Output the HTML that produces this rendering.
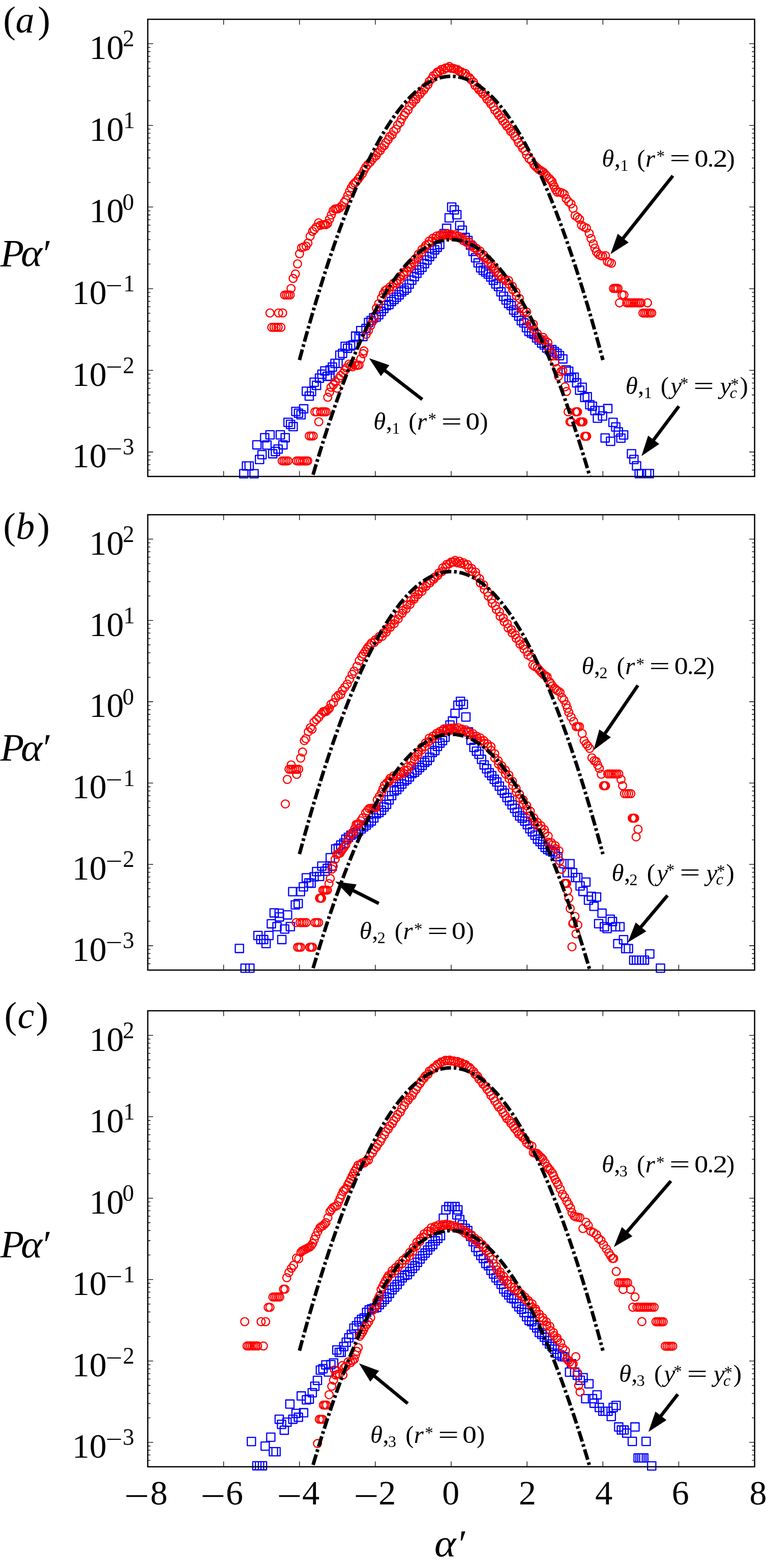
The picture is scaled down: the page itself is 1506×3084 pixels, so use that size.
<!DOCTYPE html><html><head><meta charset="utf-8"><title>PDF figure</title><style>html,body{margin:0;padding:0;background:#fff;}svg{display:block;}text{font-family:"Liberation Serif","DejaVu Serif",serif;fill:#000;}</style></head><body>
<svg xmlns="http://www.w3.org/2000/svg" width="1506" height="3084" viewBox="0 0 1506 3084">
<rect width="1506" height="3084" fill="#fff"/>
<defs>
<clipPath id="clip0"><rect x="290.50" y="37.95" width="1193.10" height="899.15"/></clipPath>
<clipPath id="clip1"><rect x="290.50" y="1012.40" width="1193.10" height="895.60"/></clipPath>
<clipPath id="clip2"><rect x="290.50" y="1988.00" width="1193.10" height="896.90"/></clipPath>
</defs>
<path d="M471.2 923.7h16.2v16.2h-16.2zM476.5 908.3h16.2v16.2h-16.2zM481.7 908.3h16.2v16.2h-16.2zM491.4 923.7h16.2v16.2h-16.2zM497.0 866.8h16.2v16.2h-16.2zM502.2 895.7h16.2v16.2h-16.2zM507.1 886.1h16.2v16.2h-16.2zM512.3 852.8h16.2v16.2h-16.2zM516.7 867.2h16.2v16.2h-16.2zM522.8 847.1h16.2v16.2h-16.2zM528.1 884.3h16.2v16.2h-16.2zM533.4 879.9h16.2v16.2h-16.2zM538.6 875.2h16.2v16.2h-16.2zM543.0 847.1h16.2v16.2h-16.2zM548.2 866.8h16.2v16.2h-16.2zM552.6 852.8h16.2v16.2h-16.2zM558.2 822.6h16.2v16.2h-16.2zM563.1 826.6h16.2v16.2h-16.2zM568.3 831.0h16.2v16.2h-16.2zM573.6 801.2h16.2v16.2h-16.2zM578.8 804.7h16.2v16.2h-16.2zM583.7 807.7h16.2v16.2h-16.2zM588.9 796.0h16.2v16.2h-16.2zM594.2 761.3h16.2v16.2h-16.2zM599.9 770.9h16.2v16.2h-16.2zM604.4 761.9h16.2v16.2h-16.2zM609.5 743.6h16.2v16.2h-16.2zM614.2 749.9h16.2v16.2h-16.2zM620.0 735.6h16.2v16.2h-16.2zM624.9 727.9h16.2v16.2h-16.2zM630.5 721.3h16.2v16.2h-16.2zM635.2 731.8h16.2v16.2h-16.2zM640.6 732.1h16.2v16.2h-16.2zM640.9 719.4h16.2v16.2h-16.2zM645.4 713.9h16.2v16.2h-16.2zM650.5 706.6h16.2v16.2h-16.2zM656.5 706.6h16.2v16.2h-16.2zM660.1 690.3h16.2v16.2h-16.2zM665.4 686.9h16.2v16.2h-16.2zM670.5 673.2h16.2v16.2h-16.2zM675.2 676.8h16.2v16.2h-16.2zM681.2 672.4h16.2v16.2h-16.2zM686.0 670.5h16.2v16.2h-16.2zM691.1 653.0h16.2v16.2h-16.2zM697.9 653.8h16.2v16.2h-16.2zM701.1 642.2h16.2v16.2h-16.2zM705.4 653.8h16.2v16.2h-16.2zM711.5 638.0h16.2v16.2h-16.2zM716.5 626.1h16.2v16.2h-16.2zM721.5 622.4h16.2v16.2h-16.2zM726.5 616.9h16.2v16.2h-16.2zM731.5 615.5h16.2v16.2h-16.2zM736.5 610.9h16.2v16.2h-16.2zM741.5 604.5h16.2v16.2h-16.2zM746.5 598.6h16.2v16.2h-16.2zM751.5 592.8h16.2v16.2h-16.2zM756.5 590.9h16.2v16.2h-16.2zM761.5 584.8h16.2v16.2h-16.2zM766.5 580.9h16.2v16.2h-16.2zM771.5 576.5h16.2v16.2h-16.2zM776.5 571.8h16.2v16.2h-16.2zM781.5 565.9h16.2v16.2h-16.2zM786.5 562.6h16.2v16.2h-16.2zM791.5 558.7h16.2v16.2h-16.2zM796.5 550.6h16.2v16.2h-16.2zM801.5 542.9h16.2v16.2h-16.2zM806.5 536.0h16.2v16.2h-16.2zM811.5 529.5h16.2v16.2h-16.2zM816.5 522.7h16.2v16.2h-16.2zM821.5 517.7h16.2v16.2h-16.2zM826.5 510.5h16.2v16.2h-16.2zM831.5 503.4h16.2v16.2h-16.2zM836.5 496.3h16.2v16.2h-16.2zM841.5 490.6h16.2v16.2h-16.2zM846.5 483.3h16.2v16.2h-16.2zM851.5 478.3h16.2v16.2h-16.2zM856.5 472.8h16.2v16.2h-16.2zM865.0 451.4h16.2v16.2h-16.2zM870.0 441.0h16.2v16.2h-16.2zM875.0 420.4h16.2v16.2h-16.2zM880.0 399.2h16.2v16.2h-16.2zM885.0 404.6h16.2v16.2h-16.2zM890.1 414.2h16.2v16.2h-16.2zM895.8 435.3h16.2v16.2h-16.2zM900.8 444.7h16.2v16.2h-16.2zM906.5 459.0h16.2v16.2h-16.2zM911.9 465.0h16.2v16.2h-16.2zM916.9 474.1h16.2v16.2h-16.2zM921.9 486.3h16.2v16.2h-16.2zM926.9 498.9h16.2v16.2h-16.2zM931.9 509.0h16.2v16.2h-16.2zM936.9 518.6h16.2v16.2h-16.2zM941.9 523.5h16.2v16.2h-16.2zM946.9 527.0h16.2v16.2h-16.2zM951.9 531.0h16.2v16.2h-16.2zM956.9 536.7h16.2v16.2h-16.2zM961.9 543.2h16.2v16.2h-16.2zM966.9 550.5h16.2v16.2h-16.2zM971.9 555.4h16.2v16.2h-16.2zM976.9 566.0h16.2v16.2h-16.2zM981.9 574.6h16.2v16.2h-16.2zM986.9 581.9h16.2v16.2h-16.2zM991.9 588.8h16.2v16.2h-16.2zM996.9 593.0h16.2v16.2h-16.2zM1001.9 601.6h16.2v16.2h-16.2zM1006.9 606.3h16.2v16.2h-16.2zM1011.9 613.6h16.2v16.2h-16.2zM1016.9 622.7h16.2v16.2h-16.2zM1021.9 627.0h16.2v16.2h-16.2zM1026.9 636.5h16.2v16.2h-16.2zM1031.9 643.8h16.2v16.2h-16.2zM1036.9 647.1h16.2v16.2h-16.2zM1041.9 649.4h16.2v16.2h-16.2zM1046.9 656.4h16.2v16.2h-16.2zM1051.9 660.6h16.2v16.2h-16.2zM1056.9 666.6h16.2v16.2h-16.2zM1061.9 670.5h16.2v16.2h-16.2zM1066.9 676.4h16.2v16.2h-16.2zM1071.9 679.8h16.2v16.2h-16.2zM1076.9 679.5h16.2v16.2h-16.2zM1081.9 683.4h16.2v16.2h-16.2zM1086.9 686.8h16.2v16.2h-16.2zM1091.9 691.3h16.2v16.2h-16.2zM1098.5 697.8h16.2v16.2h-16.2zM1105.0 719.3h16.2v16.2h-16.2zM1110.0 722.1h16.2v16.2h-16.2zM1110.7 735.0h16.2v16.2h-16.2zM1115.7 735.0h16.2v16.2h-16.2zM1120.7 733.6h16.2v16.2h-16.2zM1125.7 745.0h16.2v16.2h-16.2zM1131.5 759.3h16.2v16.2h-16.2zM1136.5 753.6h16.2v16.2h-16.2zM1141.5 773.6h16.2v16.2h-16.2zM1146.5 772.2h16.2v16.2h-16.2zM1151.5 787.9h16.2v16.2h-16.2zM1156.5 790.8h16.2v16.2h-16.2zM1161.5 799.4h16.2v16.2h-16.2zM1166.5 814.4h16.2v16.2h-16.2zM1171.5 799.4h16.2v16.2h-16.2zM1176.5 810.1h16.2v16.2h-16.2zM1181.6 853.3h16.2v16.2h-16.2zM1186.9 795.5h16.2v16.2h-16.2zM1192.3 859.9h16.2v16.2h-16.2zM1197.1 822.6h16.2v16.2h-16.2zM1202.5 831.6h16.2v16.2h-16.2zM1207.6 841.4h16.2v16.2h-16.2zM1212.6 853.6h16.2v16.2h-16.2zM1218.0 847.4h16.2v16.2h-16.2zM1233.5 884.3h16.2v16.2h-16.2zM1238.2 895.7h16.2v16.2h-16.2zM1243.4 908.2h16.2v16.2h-16.2zM1248.6 923.3h16.2v16.2h-16.2zM1253.1 923.3h16.2v16.2h-16.2zM1263.3 923.3h16.2v16.2h-16.2zM1268.6 923.3h16.2v16.2h-16.2z" fill="none" stroke="#00f" stroke-width="2.30" stroke-linejoin="round"/>
<path d="M546.9 906.4a7.85 7.85 0 1 0 15.70 0a7.85 7.85 0 1 0 -15.70 0zM550.6 906.4a7.85 7.85 0 1 0 15.70 0a7.85 7.85 0 1 0 -15.70 0zM554.4 906.4a7.85 7.85 0 1 0 15.70 0a7.85 7.85 0 1 0 -15.70 0zM558.2 906.4a7.85 7.85 0 1 0 15.70 0a7.85 7.85 0 1 0 -15.70 0zM575.4 906.4a7.85 7.85 0 1 0 15.70 0a7.85 7.85 0 1 0 -15.70 0zM579.1 906.4a7.85 7.85 0 1 0 15.70 0a7.85 7.85 0 1 0 -15.70 0zM582.9 906.4a7.85 7.85 0 1 0 15.70 0a7.85 7.85 0 1 0 -15.70 0zM586.8 906.4a7.85 7.85 0 1 0 15.70 0a7.85 7.85 0 1 0 -15.70 0zM590.5 906.4a7.85 7.85 0 1 0 15.70 0a7.85 7.85 0 1 0 -15.70 0zM594.4 906.4a7.85 7.85 0 1 0 15.70 0a7.85 7.85 0 1 0 -15.70 0zM597.2 906.4a7.85 7.85 0 1 0 15.70 0a7.85 7.85 0 1 0 -15.70 0zM600.2 857.4a7.85 7.85 0 1 0 15.70 0a7.85 7.85 0 1 0 -15.70 0zM604.1 857.4a7.85 7.85 0 1 0 15.70 0a7.85 7.85 0 1 0 -15.70 0zM608.0 857.4a7.85 7.85 0 1 0 15.70 0a7.85 7.85 0 1 0 -15.70 0zM611.2 809.9a7.85 7.85 0 1 0 15.70 0a7.85 7.85 0 1 0 -15.70 0zM614.9 809.9a7.85 7.85 0 1 0 15.70 0a7.85 7.85 0 1 0 -15.70 0zM618.9 829.5a7.85 7.85 0 1 0 15.70 0a7.85 7.85 0 1 0 -15.70 0zM622.6 809.9a7.85 7.85 0 1 0 15.70 0a7.85 7.85 0 1 0 -15.70 0zM626.4 809.9a7.85 7.85 0 1 0 15.70 0a7.85 7.85 0 1 0 -15.70 0zM630.0 809.9a7.85 7.85 0 1 0 15.70 0a7.85 7.85 0 1 0 -15.70 0zM633.4 809.9a7.85 7.85 0 1 0 15.70 0a7.85 7.85 0 1 0 -15.70 0zM636.5 781.3a7.85 7.85 0 1 0 15.70 0a7.85 7.85 0 1 0 -15.70 0zM640.1 771.4a7.85 7.85 0 1 0 15.70 0a7.85 7.85 0 1 0 -15.70 0zM642.9 761.6a7.85 7.85 0 1 0 15.70 0a7.85 7.85 0 1 0 -15.70 0zM647.6 756.8a7.85 7.85 0 1 0 15.70 0a7.85 7.85 0 1 0 -15.70 0zM651.4 751.1a7.85 7.85 0 1 0 15.70 0a7.85 7.85 0 1 0 -15.70 0zM655.1 763.5a7.85 7.85 0 1 0 15.70 0a7.85 7.85 0 1 0 -15.70 0zM658.6 744.0a7.85 7.85 0 1 0 15.70 0a7.85 7.85 0 1 0 -15.70 0zM661.9 738.7a7.85 7.85 0 1 0 15.70 0a7.85 7.85 0 1 0 -15.70 0zM666.8 733.9a7.85 7.85 0 1 0 15.70 0a7.85 7.85 0 1 0 -15.70 0zM670.1 728.0a7.85 7.85 0 1 0 15.70 0a7.85 7.85 0 1 0 -15.70 0zM673.4 723.5a7.85 7.85 0 1 0 15.70 0a7.85 7.85 0 1 0 -15.70 0zM678.2 716.3a7.85 7.85 0 1 0 15.70 0a7.85 7.85 0 1 0 -15.70 0zM681.6 719.0a7.85 7.85 0 1 0 15.70 0a7.85 7.85 0 1 0 -15.70 0zM684.9 721.5a7.85 7.85 0 1 0 15.70 0a7.85 7.85 0 1 0 -15.70 0zM688.6 714.9a7.85 7.85 0 1 0 15.70 0a7.85 7.85 0 1 0 -15.70 0zM690.9 718.7a7.85 7.85 0 1 0 15.70 0a7.85 7.85 0 1 0 -15.70 0zM694.9 718.7a7.85 7.85 0 1 0 15.70 0a7.85 7.85 0 1 0 -15.70 0zM698.1 717.9a7.85 7.85 0 1 0 15.70 0a7.85 7.85 0 1 0 -15.70 0zM701.4 706.0a7.85 7.85 0 1 0 15.70 0a7.85 7.85 0 1 0 -15.70 0zM706.0 695.6a7.85 7.85 0 1 0 15.70 0a7.85 7.85 0 1 0 -15.70 0zM707.6 690.1a7.85 7.85 0 1 0 15.70 0a7.85 7.85 0 1 0 -15.70 0zM712.1 657.5a7.85 7.85 0 1 0 15.70 0a7.85 7.85 0 1 0 -15.70 0zM716.4 650.3a7.85 7.85 0 1 0 15.70 0a7.85 7.85 0 1 0 -15.70 0zM720.8 640.3a7.85 7.85 0 1 0 15.70 0a7.85 7.85 0 1 0 -15.70 0zM725.0 631.7a7.85 7.85 0 1 0 15.70 0a7.85 7.85 0 1 0 -15.70 0zM727.9 624.5a7.85 7.85 0 1 0 15.70 0a7.85 7.85 0 1 0 -15.70 0zM732.2 605.9a7.85 7.85 0 1 0 15.70 0a7.85 7.85 0 1 0 -15.70 0zM736.5 597.4a7.85 7.85 0 1 0 15.70 0a7.85 7.85 0 1 0 -15.70 0zM742.2 585.9a7.85 7.85 0 1 0 15.70 0a7.85 7.85 0 1 0 -15.70 0zM745.6 578.0a7.85 7.85 0 1 0 15.70 0a7.85 7.85 0 1 0 -15.70 0zM749.4 571.6a7.85 7.85 0 1 0 15.70 0a7.85 7.85 0 1 0 -15.70 0zM752.6 569.5a7.85 7.85 0 1 0 15.70 0a7.85 7.85 0 1 0 -15.70 0zM757.2 570.6a7.85 7.85 0 1 0 15.70 0a7.85 7.85 0 1 0 -15.70 0zM758.9 564.3a7.85 7.85 0 1 0 15.70 0a7.85 7.85 0 1 0 -15.70 0zM764.6 563.6a7.85 7.85 0 1 0 15.70 0a7.85 7.85 0 1 0 -15.70 0zM766.0 556.9a7.85 7.85 0 1 0 15.70 0a7.85 7.85 0 1 0 -15.70 0zM771.5 556.9a7.85 7.85 0 1 0 15.70 0a7.85 7.85 0 1 0 -15.70 0zM772.9 552.5a7.85 7.85 0 1 0 15.70 0a7.85 7.85 0 1 0 -15.70 0zM778.6 549.7a7.85 7.85 0 1 0 15.70 0a7.85 7.85 0 1 0 -15.70 0zM779.9 543.5a7.85 7.85 0 1 0 15.70 0a7.85 7.85 0 1 0 -15.70 0zM785.6 540.9a7.85 7.85 0 1 0 15.70 0a7.85 7.85 0 1 0 -15.70 0zM786.9 535.4a7.85 7.85 0 1 0 15.70 0a7.85 7.85 0 1 0 -15.70 0zM792.6 534.1a7.85 7.85 0 1 0 15.70 0a7.85 7.85 0 1 0 -15.70 0zM793.9 526.1a7.85 7.85 0 1 0 15.70 0a7.85 7.85 0 1 0 -15.70 0zM799.6 525.6a7.85 7.85 0 1 0 15.70 0a7.85 7.85 0 1 0 -15.70 0zM800.9 519.3a7.85 7.85 0 1 0 15.70 0a7.85 7.85 0 1 0 -15.70 0zM806.8 516.5a7.85 7.85 0 1 0 15.70 0a7.85 7.85 0 1 0 -15.70 0zM807.9 509.8a7.85 7.85 0 1 0 15.70 0a7.85 7.85 0 1 0 -15.70 0zM813.8 507.1a7.85 7.85 0 1 0 15.70 0a7.85 7.85 0 1 0 -15.70 0zM814.9 500.0a7.85 7.85 0 1 0 15.70 0a7.85 7.85 0 1 0 -15.70 0zM820.8 497.2a7.85 7.85 0 1 0 15.70 0a7.85 7.85 0 1 0 -15.70 0zM821.9 490.5a7.85 7.85 0 1 0 15.70 0a7.85 7.85 0 1 0 -15.70 0zM827.6 487.2a7.85 7.85 0 1 0 15.70 0a7.85 7.85 0 1 0 -15.70 0zM828.9 482.8a7.85 7.85 0 1 0 15.70 0a7.85 7.85 0 1 0 -15.70 0zM834.6 480.1a7.85 7.85 0 1 0 15.70 0a7.85 7.85 0 1 0 -15.70 0zM836.0 474.1a7.85 7.85 0 1 0 15.70 0a7.85 7.85 0 1 0 -15.70 0zM841.5 474.0a7.85 7.85 0 1 0 15.70 0a7.85 7.85 0 1 0 -15.70 0zM843.2 468.6a7.85 7.85 0 1 0 15.70 0a7.85 7.85 0 1 0 -15.70 0zM848.2 468.9a7.85 7.85 0 1 0 15.70 0a7.85 7.85 0 1 0 -15.70 0zM850.4 464.3a7.85 7.85 0 1 0 15.70 0a7.85 7.85 0 1 0 -15.70 0zM855.0 465.6a7.85 7.85 0 1 0 15.70 0a7.85 7.85 0 1 0 -15.70 0zM857.6 461.9a7.85 7.85 0 1 0 15.70 0a7.85 7.85 0 1 0 -15.70 0zM861.9 463.9a7.85 7.85 0 1 0 15.70 0a7.85 7.85 0 1 0 -15.70 0zM864.9 460.3a7.85 7.85 0 1 0 15.70 0a7.85 7.85 0 1 0 -15.70 0zM868.6 462.2a7.85 7.85 0 1 0 15.70 0a7.85 7.85 0 1 0 -15.70 0zM872.0 459.5a7.85 7.85 0 1 0 15.70 0a7.85 7.85 0 1 0 -15.70 0zM875.4 462.6a7.85 7.85 0 1 0 15.70 0a7.85 7.85 0 1 0 -15.70 0zM879.1 460.8a7.85 7.85 0 1 0 15.70 0a7.85 7.85 0 1 0 -15.70 0zM882.4 464.6a7.85 7.85 0 1 0 15.70 0a7.85 7.85 0 1 0 -15.70 0zM886.1 461.8a7.85 7.85 0 1 0 15.70 0a7.85 7.85 0 1 0 -15.70 0zM889.0 465.1a7.85 7.85 0 1 0 15.70 0a7.85 7.85 0 1 0 -15.70 0zM893.9 464.5a7.85 7.85 0 1 0 15.70 0a7.85 7.85 0 1 0 -15.70 0zM895.8 468.1a7.85 7.85 0 1 0 15.70 0a7.85 7.85 0 1 0 -15.70 0zM900.9 468.8a7.85 7.85 0 1 0 15.70 0a7.85 7.85 0 1 0 -15.70 0zM902.8 473.1a7.85 7.85 0 1 0 15.70 0a7.85 7.85 0 1 0 -15.70 0zM907.9 471.8a7.85 7.85 0 1 0 15.70 0a7.85 7.85 0 1 0 -15.70 0zM909.6 476.6a7.85 7.85 0 1 0 15.70 0a7.85 7.85 0 1 0 -15.70 0zM914.9 476.6a7.85 7.85 0 1 0 15.70 0a7.85 7.85 0 1 0 -15.70 0zM916.6 483.0a7.85 7.85 0 1 0 15.70 0a7.85 7.85 0 1 0 -15.70 0zM921.9 482.3a7.85 7.85 0 1 0 15.70 0a7.85 7.85 0 1 0 -15.70 0zM923.6 487.2a7.85 7.85 0 1 0 15.70 0a7.85 7.85 0 1 0 -15.70 0zM928.9 488.6a7.85 7.85 0 1 0 15.70 0a7.85 7.85 0 1 0 -15.70 0zM930.6 493.2a7.85 7.85 0 1 0 15.70 0a7.85 7.85 0 1 0 -15.70 0zM936.1 493.8a7.85 7.85 0 1 0 15.70 0a7.85 7.85 0 1 0 -15.70 0zM937.4 499.6a7.85 7.85 0 1 0 15.70 0a7.85 7.85 0 1 0 -15.70 0zM943.1 501.7a7.85 7.85 0 1 0 15.70 0a7.85 7.85 0 1 0 -15.70 0zM944.4 506.8a7.85 7.85 0 1 0 15.70 0a7.85 7.85 0 1 0 -15.70 0zM950.1 509.2a7.85 7.85 0 1 0 15.70 0a7.85 7.85 0 1 0 -15.70 0zM951.4 516.2a7.85 7.85 0 1 0 15.70 0a7.85 7.85 0 1 0 -15.70 0zM957.2 518.1a7.85 7.85 0 1 0 15.70 0a7.85 7.85 0 1 0 -15.70 0zM958.4 524.4a7.85 7.85 0 1 0 15.70 0a7.85 7.85 0 1 0 -15.70 0zM964.2 527.7a7.85 7.85 0 1 0 15.70 0a7.85 7.85 0 1 0 -15.70 0zM965.4 533.3a7.85 7.85 0 1 0 15.70 0a7.85 7.85 0 1 0 -15.70 0zM971.0 536.5a7.85 7.85 0 1 0 15.70 0a7.85 7.85 0 1 0 -15.70 0zM972.5 541.9a7.85 7.85 0 1 0 15.70 0a7.85 7.85 0 1 0 -15.70 0zM978.0 542.2a7.85 7.85 0 1 0 15.70 0a7.85 7.85 0 1 0 -15.70 0zM979.6 547.4a7.85 7.85 0 1 0 15.70 0a7.85 7.85 0 1 0 -15.70 0zM984.8 548.6a7.85 7.85 0 1 0 15.70 0a7.85 7.85 0 1 0 -15.70 0zM986.9 552.4a7.85 7.85 0 1 0 15.70 0a7.85 7.85 0 1 0 -15.70 0zM992.1 551.7a7.85 7.85 0 1 0 15.70 0a7.85 7.85 0 1 0 -15.70 0zM993.4 559.3a7.85 7.85 0 1 0 15.70 0a7.85 7.85 0 1 0 -15.70 0zM999.4 563.0a7.85 7.85 0 1 0 15.70 0a7.85 7.85 0 1 0 -15.70 0zM1000.2 569.8a7.85 7.85 0 1 0 15.70 0a7.85 7.85 0 1 0 -15.70 0zM1006.4 574.3a7.85 7.85 0 1 0 15.70 0a7.85 7.85 0 1 0 -15.70 0zM1007.2 581.8a7.85 7.85 0 1 0 15.70 0a7.85 7.85 0 1 0 -15.70 0zM1013.4 586.9a7.85 7.85 0 1 0 15.70 0a7.85 7.85 0 1 0 -15.70 0zM1014.1 604.7a7.85 7.85 0 1 0 15.70 0a7.85 7.85 0 1 0 -15.70 0zM1020.1 607.7a7.85 7.85 0 1 0 15.70 0a7.85 7.85 0 1 0 -15.70 0zM1021.6 612.8a7.85 7.85 0 1 0 15.70 0a7.85 7.85 0 1 0 -15.70 0zM1027.4 613.4a7.85 7.85 0 1 0 15.70 0a7.85 7.85 0 1 0 -15.70 0zM1028.2 630.2a7.85 7.85 0 1 0 15.70 0a7.85 7.85 0 1 0 -15.70 0zM1034.4 637.6a7.85 7.85 0 1 0 15.70 0a7.85 7.85 0 1 0 -15.70 0zM1036.6 640.9a7.85 7.85 0 1 0 15.70 0a7.85 7.85 0 1 0 -15.70 0zM1040.6 637.4a7.85 7.85 0 1 0 15.70 0a7.85 7.85 0 1 0 -15.70 0zM1042.2 648.0a7.85 7.85 0 1 0 15.70 0a7.85 7.85 0 1 0 -15.70 0zM1048.5 656.2a7.85 7.85 0 1 0 15.70 0a7.85 7.85 0 1 0 -15.70 0zM1049.2 664.3a7.85 7.85 0 1 0 15.70 0a7.85 7.85 0 1 0 -15.70 0zM1054.1 666.1a7.85 7.85 0 1 0 15.70 0a7.85 7.85 0 1 0 -15.70 0zM1058.0 668.5a7.85 7.85 0 1 0 15.70 0a7.85 7.85 0 1 0 -15.70 0zM1060.0 663.6a7.85 7.85 0 1 0 15.70 0a7.85 7.85 0 1 0 -15.70 0zM1063.2 668.4a7.85 7.85 0 1 0 15.70 0a7.85 7.85 0 1 0 -15.70 0zM1069.4 673.9a7.85 7.85 0 1 0 15.70 0a7.85 7.85 0 1 0 -15.70 0zM1070.2 683.8a7.85 7.85 0 1 0 15.70 0a7.85 7.85 0 1 0 -15.70 0zM1076.5 693.6a7.85 7.85 0 1 0 15.70 0a7.85 7.85 0 1 0 -15.70 0zM1079.7 700.0a7.85 7.85 0 1 0 15.70 0a7.85 7.85 0 1 0 -15.70 0zM1083.0 712.2a7.85 7.85 0 1 0 15.70 0a7.85 7.85 0 1 0 -15.70 0zM1086.7 725.0a7.85 7.85 0 1 0 15.70 0a7.85 7.85 0 1 0 -15.70 0zM1090.1 740.1a7.85 7.85 0 1 0 15.70 0a7.85 7.85 0 1 0 -15.70 0zM1095.1 730.8a7.85 7.85 0 1 0 15.70 0a7.85 7.85 0 1 0 -15.70 0zM1098.7 728.6a7.85 7.85 0 1 0 15.70 0a7.85 7.85 0 1 0 -15.70 0zM1103.0 760.8a7.85 7.85 0 1 0 15.70 0a7.85 7.85 0 1 0 -15.70 0zM1105.9 770.1a7.85 7.85 0 1 0 15.70 0a7.85 7.85 0 1 0 -15.70 0zM1109.1 809.9a7.85 7.85 0 1 0 15.70 0a7.85 7.85 0 1 0 -15.70 0zM1112.7 829.7a7.85 7.85 0 1 0 15.70 0a7.85 7.85 0 1 0 -15.70 0zM1115.4 829.7a7.85 7.85 0 1 0 15.70 0a7.85 7.85 0 1 0 -15.70 0zM1123.8 809.9a7.85 7.85 0 1 0 15.70 0a7.85 7.85 0 1 0 -15.70 0zM1125.2 809.9a7.85 7.85 0 1 0 15.70 0a7.85 7.85 0 1 0 -15.70 0zM1126.5 809.9a7.85 7.85 0 1 0 15.70 0a7.85 7.85 0 1 0 -15.70 0zM1127.7 809.9a7.85 7.85 0 1 0 15.70 0a7.85 7.85 0 1 0 -15.70 0zM1132.6 829.7a7.85 7.85 0 1 0 15.70 0a7.85 7.85 0 1 0 -15.70 0zM1134.4 829.7a7.85 7.85 0 1 0 15.70 0a7.85 7.85 0 1 0 -15.70 0zM1136.4 829.7a7.85 7.85 0 1 0 15.70 0a7.85 7.85 0 1 0 -15.70 0zM1138.5 829.7a7.85 7.85 0 1 0 15.70 0a7.85 7.85 0 1 0 -15.70 0zM1141.7 858.0a7.85 7.85 0 1 0 15.70 0a7.85 7.85 0 1 0 -15.70 0zM1143.7 858.0a7.85 7.85 0 1 0 15.70 0a7.85 7.85 0 1 0 -15.70 0zM1145.6 858.0a7.85 7.85 0 1 0 15.70 0a7.85 7.85 0 1 0 -15.70 0z" fill="none" stroke="#f00" stroke-width="2.35"/>
<path d="M522.9 615.5a7.85 7.85 0 1 0 15.70 0a7.85 7.85 0 1 0 -15.70 0zM526.4 643.8a7.85 7.85 0 1 0 15.70 0a7.85 7.85 0 1 0 -15.70 0zM530.8 643.8a7.85 7.85 0 1 0 15.70 0a7.85 7.85 0 1 0 -15.70 0zM535.0 643.8a7.85 7.85 0 1 0 15.70 0a7.85 7.85 0 1 0 -15.70 0zM539.0 643.8a7.85 7.85 0 1 0 15.70 0a7.85 7.85 0 1 0 -15.70 0zM539.9 615.5a7.85 7.85 0 1 0 15.70 0a7.85 7.85 0 1 0 -15.70 0zM544.6 643.8a7.85 7.85 0 1 0 15.70 0a7.85 7.85 0 1 0 -15.70 0zM547.8 615.5a7.85 7.85 0 1 0 15.70 0a7.85 7.85 0 1 0 -15.70 0zM551.8 580.2a7.85 7.85 0 1 0 15.70 0a7.85 7.85 0 1 0 -15.70 0zM555.5 580.2a7.85 7.85 0 1 0 15.70 0a7.85 7.85 0 1 0 -15.70 0zM559.1 580.2a7.85 7.85 0 1 0 15.70 0a7.85 7.85 0 1 0 -15.70 0zM562.6 580.2a7.85 7.85 0 1 0 15.70 0a7.85 7.85 0 1 0 -15.70 0zM564.4 567.4a7.85 7.85 0 1 0 15.70 0a7.85 7.85 0 1 0 -15.70 0zM568.4 547.6a7.85 7.85 0 1 0 15.70 0a7.85 7.85 0 1 0 -15.70 0zM572.9 538.8a7.85 7.85 0 1 0 15.70 0a7.85 7.85 0 1 0 -15.70 0zM577.1 519.0a7.85 7.85 0 1 0 15.70 0a7.85 7.85 0 1 0 -15.70 0zM581.1 499.1a7.85 7.85 0 1 0 15.70 0a7.85 7.85 0 1 0 -15.70 0zM585.1 487.2a7.85 7.85 0 1 0 15.70 0a7.85 7.85 0 1 0 -15.70 0zM589.1 485.6a7.85 7.85 0 1 0 15.70 0a7.85 7.85 0 1 0 -15.70 0zM593.9 484.0a7.85 7.85 0 1 0 15.70 0a7.85 7.85 0 1 0 -15.70 0zM597.6 478.0a7.85 7.85 0 1 0 15.70 0a7.85 7.85 0 1 0 -15.70 0zM601.9 464.6a7.85 7.85 0 1 0 15.70 0a7.85 7.85 0 1 0 -15.70 0zM606.6 455.0a7.85 7.85 0 1 0 15.70 0a7.85 7.85 0 1 0 -15.70 0zM610.1 451.4a7.85 7.85 0 1 0 15.70 0a7.85 7.85 0 1 0 -15.70 0zM613.8 446.7a7.85 7.85 0 1 0 15.70 0a7.85 7.85 0 1 0 -15.70 0zM618.5 438.3a7.85 7.85 0 1 0 15.70 0a7.85 7.85 0 1 0 -15.70 0zM622.1 443.1a7.85 7.85 0 1 0 15.70 0a7.85 7.85 0 1 0 -15.70 0zM626.9 441.9a7.85 7.85 0 1 0 15.70 0a7.85 7.85 0 1 0 -15.70 0zM630.1 441.5a7.85 7.85 0 1 0 15.70 0a7.85 7.85 0 1 0 -15.70 0zM632.9 441.9a7.85 7.85 0 1 0 15.70 0a7.85 7.85 0 1 0 -15.70 0zM636.4 439.5a7.85 7.85 0 1 0 15.70 0a7.85 7.85 0 1 0 -15.70 0zM640.0 431.2a7.85 7.85 0 1 0 15.70 0a7.85 7.85 0 1 0 -15.70 0zM643.5 422.8a7.85 7.85 0 1 0 15.70 0a7.85 7.85 0 1 0 -15.70 0zM647.1 414.5a7.85 7.85 0 1 0 15.70 0a7.85 7.85 0 1 0 -15.70 0zM650.8 410.9a7.85 7.85 0 1 0 15.70 0a7.85 7.85 0 1 0 -15.70 0zM653.8 410.5a7.85 7.85 0 1 0 15.70 0a7.85 7.85 0 1 0 -15.70 0zM656.8 410.9a7.85 7.85 0 1 0 15.70 0a7.85 7.85 0 1 0 -15.70 0zM660.2 408.5a7.85 7.85 0 1 0 15.70 0a7.85 7.85 0 1 0 -15.70 0zM663.9 404.9a7.85 7.85 0 1 0 15.70 0a7.85 7.85 0 1 0 -15.70 0zM668.6 397.8a7.85 7.85 0 1 0 15.70 0a7.85 7.85 0 1 0 -15.70 0zM672.1 393.0a7.85 7.85 0 1 0 15.70 0a7.85 7.85 0 1 0 -15.70 0zM675.8 384.7a7.85 7.85 0 1 0 15.70 0a7.85 7.85 0 1 0 -15.70 0zM679.4 376.3a7.85 7.85 0 1 0 15.70 0a7.85 7.85 0 1 0 -15.70 0zM682.9 369.2a7.85 7.85 0 1 0 15.70 0a7.85 7.85 0 1 0 -15.70 0zM686.5 363.2a7.85 7.85 0 1 0 15.70 0a7.85 7.85 0 1 0 -15.70 0zM689.6 360.0a7.85 7.85 0 1 0 15.70 0a7.85 7.85 0 1 0 -15.70 0zM692.4 357.2a7.85 7.85 0 1 0 15.70 0a7.85 7.85 0 1 0 -15.70 0zM696.2 352.7a7.85 7.85 0 1 0 15.70 0a7.85 7.85 0 1 0 -15.70 0zM699.6 347.7a7.85 7.85 0 1 0 15.70 0a7.85 7.85 0 1 0 -15.70 0zM704.4 341.7a7.85 7.85 0 1 0 15.70 0a7.85 7.85 0 1 0 -15.70 0zM707.9 334.6a7.85 7.85 0 1 0 15.70 0a7.85 7.85 0 1 0 -15.70 0zM711.4 328.6a7.85 7.85 0 1 0 15.70 0a7.85 7.85 0 1 0 -15.70 0zM715.1 323.8a7.85 7.85 0 1 0 15.70 0a7.85 7.85 0 1 0 -15.70 0zM719.9 319.1a7.85 7.85 0 1 0 15.70 0a7.85 7.85 0 1 0 -15.70 0zM723.9 313.8a7.85 7.85 0 1 0 15.70 0a7.85 7.85 0 1 0 -15.70 0zM727.0 309.9a7.85 7.85 0 1 0 15.70 0a7.85 7.85 0 1 0 -15.70 0zM731.9 306.0a7.85 7.85 0 1 0 15.70 0a7.85 7.85 0 1 0 -15.70 0zM734.9 299.8a7.85 7.85 0 1 0 15.70 0a7.85 7.85 0 1 0 -15.70 0zM739.8 296.2a7.85 7.85 0 1 0 15.70 0a7.85 7.85 0 1 0 -15.70 0zM742.6 290.3a7.85 7.85 0 1 0 15.70 0a7.85 7.85 0 1 0 -15.70 0zM747.5 286.3a7.85 7.85 0 1 0 15.70 0a7.85 7.85 0 1 0 -15.70 0zM750.4 280.7a7.85 7.85 0 1 0 15.70 0a7.85 7.85 0 1 0 -15.70 0zM755.4 274.6a7.85 7.85 0 1 0 15.70 0a7.85 7.85 0 1 0 -15.70 0zM758.2 268.5a7.85 7.85 0 1 0 15.70 0a7.85 7.85 0 1 0 -15.70 0zM763.1 265.3a7.85 7.85 0 1 0 15.70 0a7.85 7.85 0 1 0 -15.70 0zM766.0 258.3a7.85 7.85 0 1 0 15.70 0a7.85 7.85 0 1 0 -15.70 0zM770.9 254.0a7.85 7.85 0 1 0 15.70 0a7.85 7.85 0 1 0 -15.70 0zM773.9 245.8a7.85 7.85 0 1 0 15.70 0a7.85 7.85 0 1 0 -15.70 0zM778.8 241.0a7.85 7.85 0 1 0 15.70 0a7.85 7.85 0 1 0 -15.70 0zM781.6 234.1a7.85 7.85 0 1 0 15.70 0a7.85 7.85 0 1 0 -15.70 0zM786.5 226.8a7.85 7.85 0 1 0 15.70 0a7.85 7.85 0 1 0 -15.70 0zM789.4 221.7a7.85 7.85 0 1 0 15.70 0a7.85 7.85 0 1 0 -15.70 0zM794.4 216.4a7.85 7.85 0 1 0 15.70 0a7.85 7.85 0 1 0 -15.70 0zM797.2 208.7a7.85 7.85 0 1 0 15.70 0a7.85 7.85 0 1 0 -15.70 0zM802.1 204.2a7.85 7.85 0 1 0 15.70 0a7.85 7.85 0 1 0 -15.70 0zM805.0 199.2a7.85 7.85 0 1 0 15.70 0a7.85 7.85 0 1 0 -15.70 0zM809.9 195.5a7.85 7.85 0 1 0 15.70 0a7.85 7.85 0 1 0 -15.70 0zM812.9 189.1a7.85 7.85 0 1 0 15.70 0a7.85 7.85 0 1 0 -15.70 0zM817.6 185.7a7.85 7.85 0 1 0 15.70 0a7.85 7.85 0 1 0 -15.70 0zM820.6 181.3a7.85 7.85 0 1 0 15.70 0a7.85 7.85 0 1 0 -15.70 0zM825.5 176.7a7.85 7.85 0 1 0 15.70 0a7.85 7.85 0 1 0 -15.70 0zM828.4 171.7a7.85 7.85 0 1 0 15.70 0a7.85 7.85 0 1 0 -15.70 0zM833.4 166.6a7.85 7.85 0 1 0 15.70 0a7.85 7.85 0 1 0 -15.70 0zM836.2 160.0a7.85 7.85 0 1 0 15.70 0a7.85 7.85 0 1 0 -15.70 0zM841.1 154.7a7.85 7.85 0 1 0 15.70 0a7.85 7.85 0 1 0 -15.70 0zM844.1 149.0a7.85 7.85 0 1 0 15.70 0a7.85 7.85 0 1 0 -15.70 0zM848.9 146.0a7.85 7.85 0 1 0 15.70 0a7.85 7.85 0 1 0 -15.70 0zM851.9 141.7a7.85 7.85 0 1 0 15.70 0a7.85 7.85 0 1 0 -15.70 0zM856.5 140.0a7.85 7.85 0 1 0 15.70 0a7.85 7.85 0 1 0 -15.70 0zM859.9 136.4a7.85 7.85 0 1 0 15.70 0a7.85 7.85 0 1 0 -15.70 0zM864.4 137.2a7.85 7.85 0 1 0 15.70 0a7.85 7.85 0 1 0 -15.70 0zM867.8 133.8a7.85 7.85 0 1 0 15.70 0a7.85 7.85 0 1 0 -15.70 0zM871.9 133.6a7.85 7.85 0 1 0 15.70 0a7.85 7.85 0 1 0 -15.70 0zM875.6 130.9a7.85 7.85 0 1 0 15.70 0a7.85 7.85 0 1 0 -15.70 0zM879.4 134.5a7.85 7.85 0 1 0 15.70 0a7.85 7.85 0 1 0 -15.70 0zM883.8 134.6a7.85 7.85 0 1 0 15.70 0a7.85 7.85 0 1 0 -15.70 0zM887.2 135.8a7.85 7.85 0 1 0 15.70 0a7.85 7.85 0 1 0 -15.70 0zM891.5 136.7a7.85 7.85 0 1 0 15.70 0a7.85 7.85 0 1 0 -15.70 0zM894.9 140.4a7.85 7.85 0 1 0 15.70 0a7.85 7.85 0 1 0 -15.70 0zM899.4 141.2a7.85 7.85 0 1 0 15.70 0a7.85 7.85 0 1 0 -15.70 0zM902.8 144.7a7.85 7.85 0 1 0 15.70 0a7.85 7.85 0 1 0 -15.70 0zM907.2 144.5a7.85 7.85 0 1 0 15.70 0a7.85 7.85 0 1 0 -15.70 0zM910.4 149.9a7.85 7.85 0 1 0 15.70 0a7.85 7.85 0 1 0 -15.70 0zM915.1 152.7a7.85 7.85 0 1 0 15.70 0a7.85 7.85 0 1 0 -15.70 0zM918.1 156.7a7.85 7.85 0 1 0 15.70 0a7.85 7.85 0 1 0 -15.70 0zM923.0 161.5a7.85 7.85 0 1 0 15.70 0a7.85 7.85 0 1 0 -15.70 0zM925.9 167.8a7.85 7.85 0 1 0 15.70 0a7.85 7.85 0 1 0 -15.70 0zM930.9 171.9a7.85 7.85 0 1 0 15.70 0a7.85 7.85 0 1 0 -15.70 0zM933.8 176.6a7.85 7.85 0 1 0 15.70 0a7.85 7.85 0 1 0 -15.70 0zM938.6 180.5a7.85 7.85 0 1 0 15.70 0a7.85 7.85 0 1 0 -15.70 0zM941.5 184.7a7.85 7.85 0 1 0 15.70 0a7.85 7.85 0 1 0 -15.70 0zM946.4 188.8a7.85 7.85 0 1 0 15.70 0a7.85 7.85 0 1 0 -15.70 0zM949.4 195.1a7.85 7.85 0 1 0 15.70 0a7.85 7.85 0 1 0 -15.70 0zM954.2 198.7a7.85 7.85 0 1 0 15.70 0a7.85 7.85 0 1 0 -15.70 0zM957.1 204.1a7.85 7.85 0 1 0 15.70 0a7.85 7.85 0 1 0 -15.70 0zM962.0 209.6a7.85 7.85 0 1 0 15.70 0a7.85 7.85 0 1 0 -15.70 0zM964.9 216.4a7.85 7.85 0 1 0 15.70 0a7.85 7.85 0 1 0 -15.70 0zM969.9 221.6a7.85 7.85 0 1 0 15.70 0a7.85 7.85 0 1 0 -15.70 0zM972.8 226.9a7.85 7.85 0 1 0 15.70 0a7.85 7.85 0 1 0 -15.70 0zM977.6 231.6a7.85 7.85 0 1 0 15.70 0a7.85 7.85 0 1 0 -15.70 0zM980.5 237.7a7.85 7.85 0 1 0 15.70 0a7.85 7.85 0 1 0 -15.70 0zM985.4 242.6a7.85 7.85 0 1 0 15.70 0a7.85 7.85 0 1 0 -15.70 0zM988.4 248.0a7.85 7.85 0 1 0 15.70 0a7.85 7.85 0 1 0 -15.70 0zM993.2 252.2a7.85 7.85 0 1 0 15.70 0a7.85 7.85 0 1 0 -15.70 0zM996.1 258.4a7.85 7.85 0 1 0 15.70 0a7.85 7.85 0 1 0 -15.70 0zM1001.0 261.9a7.85 7.85 0 1 0 15.70 0a7.85 7.85 0 1 0 -15.70 0zM1003.9 267.8a7.85 7.85 0 1 0 15.70 0a7.85 7.85 0 1 0 -15.70 0zM1008.9 273.7a7.85 7.85 0 1 0 15.70 0a7.85 7.85 0 1 0 -15.70 0zM1011.8 280.8a7.85 7.85 0 1 0 15.70 0a7.85 7.85 0 1 0 -15.70 0zM1016.6 285.2a7.85 7.85 0 1 0 15.70 0a7.85 7.85 0 1 0 -15.70 0zM1019.6 291.5a7.85 7.85 0 1 0 15.70 0a7.85 7.85 0 1 0 -15.70 0zM1024.5 296.5a7.85 7.85 0 1 0 15.70 0a7.85 7.85 0 1 0 -15.70 0zM1027.4 304.3a7.85 7.85 0 1 0 15.70 0a7.85 7.85 0 1 0 -15.70 0zM1032.2 311.8a7.85 7.85 0 1 0 15.70 0a7.85 7.85 0 1 0 -15.70 0zM1037.0 315.9a7.85 7.85 0 1 0 15.70 0a7.85 7.85 0 1 0 -15.70 0zM1041.7 323.8a7.85 7.85 0 1 0 15.70 0a7.85 7.85 0 1 0 -15.70 0zM1044.7 327.0a7.85 7.85 0 1 0 15.70 0a7.85 7.85 0 1 0 -15.70 0zM1048.1 330.2a7.85 7.85 0 1 0 15.70 0a7.85 7.85 0 1 0 -15.70 0zM1051.2 333.0a7.85 7.85 0 1 0 15.70 0a7.85 7.85 0 1 0 -15.70 0zM1054.5 335.0a7.85 7.85 0 1 0 15.70 0a7.85 7.85 0 1 0 -15.70 0zM1057.7 337.0a7.85 7.85 0 1 0 15.70 0a7.85 7.85 0 1 0 -15.70 0zM1060.8 339.0a7.85 7.85 0 1 0 15.70 0a7.85 7.85 0 1 0 -15.70 0zM1064.2 343.0a7.85 7.85 0 1 0 15.70 0a7.85 7.85 0 1 0 -15.70 0zM1067.2 346.1a7.85 7.85 0 1 0 15.70 0a7.85 7.85 0 1 0 -15.70 0zM1071.9 350.9a7.85 7.85 0 1 0 15.70 0a7.85 7.85 0 1 0 -15.70 0zM1074.7 354.0a7.85 7.85 0 1 0 15.70 0a7.85 7.85 0 1 0 -15.70 0zM1077.5 357.2a7.85 7.85 0 1 0 15.70 0a7.85 7.85 0 1 0 -15.70 0zM1079.9 363.6a7.85 7.85 0 1 0 15.70 0a7.85 7.85 0 1 0 -15.70 0zM1082.2 368.0a7.85 7.85 0 1 0 15.70 0a7.85 7.85 0 1 0 -15.70 0zM1084.7 373.1a7.85 7.85 0 1 0 15.70 0a7.85 7.85 0 1 0 -15.70 0zM1087.8 377.9a7.85 7.85 0 1 0 15.70 0a7.85 7.85 0 1 0 -15.70 0zM1092.6 377.9a7.85 7.85 0 1 0 15.70 0a7.85 7.85 0 1 0 -15.70 0zM1097.4 379.5a7.85 7.85 0 1 0 15.70 0a7.85 7.85 0 1 0 -15.70 0zM1101.4 381.9a7.85 7.85 0 1 0 15.70 0a7.85 7.85 0 1 0 -15.70 0zM1105.2 390.6a7.85 7.85 0 1 0 15.70 0a7.85 7.85 0 1 0 -15.70 0zM1110.1 397.0a7.85 7.85 0 1 0 15.70 0a7.85 7.85 0 1 0 -15.70 0zM1114.9 401.0a7.85 7.85 0 1 0 15.70 0a7.85 7.85 0 1 0 -15.70 0zM1118.8 409.7a7.85 7.85 0 1 0 15.70 0a7.85 7.85 0 1 0 -15.70 0zM1122.8 424.0a7.85 7.85 0 1 0 15.70 0a7.85 7.85 0 1 0 -15.70 0zM1127.6 427.2a7.85 7.85 0 1 0 15.70 0a7.85 7.85 0 1 0 -15.70 0zM1131.6 431.2a7.85 7.85 0 1 0 15.70 0a7.85 7.85 0 1 0 -15.70 0zM1135.5 443.1a7.85 7.85 0 1 0 15.70 0a7.85 7.85 0 1 0 -15.70 0zM1140.2 446.3a7.85 7.85 0 1 0 15.70 0a7.85 7.85 0 1 0 -15.70 0zM1145.1 448.6a7.85 7.85 0 1 0 15.70 0a7.85 7.85 0 1 0 -15.70 0zM1150.6 459.0a7.85 7.85 0 1 0 15.70 0a7.85 7.85 0 1 0 -15.70 0zM1154.2 469.0a7.85 7.85 0 1 0 15.70 0a7.85 7.85 0 1 0 -15.70 0zM1158.6 479.7a7.85 7.85 0 1 0 15.70 0a7.85 7.85 0 1 0 -15.70 0zM1161.7 488.0a7.85 7.85 0 1 0 15.70 0a7.85 7.85 0 1 0 -15.70 0zM1164.9 495.5a7.85 7.85 0 1 0 15.70 0a7.85 7.85 0 1 0 -15.70 0zM1168.9 500.3a7.85 7.85 0 1 0 15.70 0a7.85 7.85 0 1 0 -15.70 0zM1172.9 502.7a7.85 7.85 0 1 0 15.70 0a7.85 7.85 0 1 0 -15.70 0zM1176.9 503.5a7.85 7.85 0 1 0 15.70 0a7.85 7.85 0 1 0 -15.70 0zM1182.4 502.7a7.85 7.85 0 1 0 15.70 0a7.85 7.85 0 1 0 -15.70 0zM1186.4 514.6a7.85 7.85 0 1 0 15.70 0a7.85 7.85 0 1 0 -15.70 0zM1190.2 516.0a7.85 7.85 0 1 0 15.70 0a7.85 7.85 0 1 0 -15.70 0zM1194.4 517.8a7.85 7.85 0 1 0 15.70 0a7.85 7.85 0 1 0 -15.70 0zM1198.2 567.3a7.85 7.85 0 1 0 15.70 0a7.85 7.85 0 1 0 -15.70 0zM1201.2 567.3a7.85 7.85 0 1 0 15.70 0a7.85 7.85 0 1 0 -15.70 0zM1204.2 567.3a7.85 7.85 0 1 0 15.70 0a7.85 7.85 0 1 0 -15.70 0zM1207.2 567.3a7.85 7.85 0 1 0 15.70 0a7.85 7.85 0 1 0 -15.70 0zM1210.2 595.6a7.85 7.85 0 1 0 15.70 0a7.85 7.85 0 1 0 -15.70 0zM1215.2 580.1a7.85 7.85 0 1 0 15.70 0a7.85 7.85 0 1 0 -15.70 0zM1218.8 580.1a7.85 7.85 0 1 0 15.70 0a7.85 7.85 0 1 0 -15.70 0zM1224.4 595.6a7.85 7.85 0 1 0 15.70 0a7.85 7.85 0 1 0 -15.70 0zM1227.9 595.6a7.85 7.85 0 1 0 15.70 0a7.85 7.85 0 1 0 -15.70 0zM1231.4 595.6a7.85 7.85 0 1 0 15.70 0a7.85 7.85 0 1 0 -15.70 0zM1234.9 595.6a7.85 7.85 0 1 0 15.70 0a7.85 7.85 0 1 0 -15.70 0zM1238.4 595.6a7.85 7.85 0 1 0 15.70 0a7.85 7.85 0 1 0 -15.70 0zM1241.9 595.6a7.85 7.85 0 1 0 15.70 0a7.85 7.85 0 1 0 -15.70 0zM1245.4 595.6a7.85 7.85 0 1 0 15.70 0a7.85 7.85 0 1 0 -15.70 0zM1248.9 595.6a7.85 7.85 0 1 0 15.70 0a7.85 7.85 0 1 0 -15.70 0zM1252.5 595.6a7.85 7.85 0 1 0 15.70 0a7.85 7.85 0 1 0 -15.70 0zM1256.2 615.7a7.85 7.85 0 1 0 15.70 0a7.85 7.85 0 1 0 -15.70 0zM1259.7 615.7a7.85 7.85 0 1 0 15.70 0a7.85 7.85 0 1 0 -15.70 0zM1263.2 615.7a7.85 7.85 0 1 0 15.70 0a7.85 7.85 0 1 0 -15.70 0zM1265.2 595.6a7.85 7.85 0 1 0 15.70 0a7.85 7.85 0 1 0 -15.70 0zM1266.7 615.7a7.85 7.85 0 1 0 15.70 0a7.85 7.85 0 1 0 -15.70 0zM1270.2 615.7a7.85 7.85 0 1 0 15.70 0a7.85 7.85 0 1 0 -15.70 0zM1273.5 615.7a7.85 7.85 0 1 0 15.70 0a7.85 7.85 0 1 0 -15.70 0z" fill="none" stroke="#f00" stroke-width="2.35"/>
<g clip-path="url(#clip0)">
<path d="M588.78 708.07 L590.28 702.51 L591.77 696.97 L593.26 691.46 L594.75 685.98 L596.24 680.52 L597.73 675.10 L599.22 669.70 L600.72 664.33 L602.21 658.98 L603.70 653.67 L605.19 648.38 L606.68 643.12 L608.17 637.89 L609.66 632.69 L611.16 627.51 L612.65 622.36 L614.14 617.24 L615.63 612.15 L617.12 607.09 L618.61 602.05 L620.10 597.04 L621.60 592.06 L623.09 587.11 L624.58 582.19 L626.07 577.29 L627.56 572.42 L629.05 567.58 L630.54 562.77 L632.03 557.98 L633.53 553.22 L635.02 548.50 L636.51 543.79 L638.00 539.12 L639.49 534.48 L640.98 529.86 L642.47 525.27 L643.97 520.71 L645.46 516.17 L646.95 511.67 L648.44 507.19 L649.93 502.74 L651.42 498.32 L652.91 493.92 L654.41 489.55 L655.90 485.22 L657.39 480.91 L658.88 476.62 L660.37 472.37 L661.86 468.14 L663.35 463.94 L664.85 459.77 L666.34 455.63 L667.83 451.51 L669.32 447.42 L670.81 443.37 L672.30 439.33 L673.79 435.33 L675.28 431.35 L676.78 427.41 L678.27 423.49 L679.76 419.59 L681.25 415.73 L682.74 411.89 L684.23 408.08 L685.72 404.30 L687.22 400.55 L688.71 396.83 L690.20 393.13 L691.69 389.46 L693.18 385.82 L694.67 382.21 L696.16 378.62 L697.66 375.06 L699.15 371.53 L700.64 368.03 L702.13 364.56 L703.62 361.11 L705.11 357.70 L706.60 354.31 L708.10 350.94 L709.59 347.61 L711.08 344.30 L712.57 341.02 L714.06 337.77 L715.55 334.55 L717.04 331.36 L718.53 328.19 L720.03 325.05 L721.52 321.94 L723.01 318.86 L724.50 315.80 L725.99 312.78 L727.48 309.78 L728.97 306.80 L730.47 303.86 L731.96 300.95 L733.45 298.06 L734.94 295.20 L736.43 292.37 L737.92 289.56 L739.41 286.79 L740.91 284.04 L742.40 281.32 L743.89 278.62 L745.38 275.96 L746.87 273.32 L748.36 270.71 L749.85 268.13 L751.34 265.58 L752.84 263.06 L754.33 260.56 L755.82 258.09 L757.31 255.65 L758.80 253.24 L760.29 250.85 L761.78 248.49 L763.28 246.16 L764.77 243.86 L766.26 241.59 L767.75 239.34 L769.24 237.12 L770.73 234.93 L772.22 232.77 L773.72 230.64 L775.21 228.53 L776.70 226.45 L778.19 224.40 L779.68 222.38 L781.17 220.38 L782.66 218.41 L784.16 216.48 L785.65 214.56 L787.14 212.68 L788.63 210.83 L790.12 209.00 L791.61 207.20 L793.10 205.43 L794.59 203.68 L796.09 201.97 L797.58 200.28 L799.07 198.62 L800.56 196.99 L802.05 195.38 L803.54 193.81 L805.03 192.26 L806.53 190.74 L808.02 189.24 L809.51 187.78 L811.00 186.34 L812.49 184.93 L813.98 183.55 L815.47 182.20 L816.97 180.87 L818.46 179.58 L819.95 178.31 L821.44 177.07 L822.93 175.85 L824.42 174.67 L825.91 173.51 L827.40 172.38 L828.90 171.28 L830.39 170.20 L831.88 169.16 L833.37 168.14 L834.86 167.15 L836.35 166.18 L837.84 165.25 L839.34 164.34 L840.83 163.46 L842.32 162.61 L843.81 161.79 L845.30 160.99 L846.79 160.23 L848.28 159.49 L849.78 158.78 L851.27 158.09 L852.76 157.44 L854.25 156.81 L855.74 156.21 L857.23 155.64 L858.72 155.09 L860.22 154.58 L861.71 154.09 L863.20 153.63 L864.69 153.20 L866.18 152.79 L867.67 152.42 L869.16 152.07 L870.65 151.75 L872.15 151.45 L873.64 151.19 L875.13 150.95 L876.62 150.74 L878.11 150.56 L879.60 150.41 L881.09 150.28 L882.59 150.18 L884.08 150.11 L885.57 150.07 L887.06 150.06 L888.55 150.07 L890.04 150.11 L891.53 150.18 L893.03 150.28 L894.52 150.41 L896.01 150.56 L897.50 150.74 L898.99 150.95 L900.48 151.19 L901.97 151.45 L903.47 151.75 L904.96 152.07 L906.45 152.42 L907.94 152.79 L909.43 153.20 L910.92 153.63 L912.41 154.09 L913.90 154.58 L915.40 155.09 L916.89 155.64 L918.38 156.21 L919.87 156.81 L921.36 157.44 L922.85 158.09 L924.34 158.78 L925.84 159.49 L927.33 160.23 L928.82 160.99 L930.31 161.79 L931.80 162.61 L933.29 163.46 L934.78 164.34 L936.28 165.25 L937.77 166.18 L939.26 167.15 L940.75 168.14 L942.24 169.16 L943.73 170.20 L945.22 171.28 L946.71 172.38 L948.21 173.51 L949.70 174.67 L951.19 175.85 L952.68 177.07 L954.17 178.31 L955.66 179.58 L957.15 180.87 L958.65 182.20 L960.14 183.55 L961.63 184.93 L963.12 186.34 L964.61 187.78 L966.10 189.24 L967.59 190.74 L969.09 192.26 L970.58 193.81 L972.07 195.38 L973.56 196.99 L975.05 198.62 L976.54 200.28 L978.03 201.97 L979.53 203.68 L981.02 205.43 L982.51 207.20 L984.00 209.00 L985.49 210.83 L986.98 212.68 L988.47 214.56 L989.96 216.48 L991.46 218.41 L992.95 220.38 L994.44 222.38 L995.93 224.40 L997.42 226.45 L998.91 228.53 L1000.40 230.64 L1001.90 232.77 L1003.39 234.93 L1004.88 237.12 L1006.37 239.34 L1007.86 241.59 L1009.35 243.86 L1010.84 246.16 L1012.34 248.49 L1013.83 250.85 L1015.32 253.24 L1016.81 255.65 L1018.30 258.09 L1019.79 260.56 L1021.28 263.06 L1022.78 265.58 L1024.27 268.13 L1025.76 270.71 L1027.25 273.32 L1028.74 275.96 L1030.23 278.62 L1031.72 281.32 L1033.21 284.04 L1034.71 286.79 L1036.20 289.56 L1037.69 292.37 L1039.18 295.20 L1040.67 298.06 L1042.16 300.95 L1043.65 303.86 L1045.15 306.80 L1046.64 309.78 L1048.13 312.78 L1049.62 315.80 L1051.11 318.86 L1052.60 321.94 L1054.09 325.05 L1055.59 328.19 L1057.08 331.36 L1058.57 334.55 L1060.06 337.77 L1061.55 341.02 L1063.04 344.30 L1064.53 347.61 L1066.02 350.94 L1067.52 354.31 L1069.01 357.70 L1070.50 361.11 L1071.99 364.56 L1073.48 368.03 L1074.97 371.53 L1076.46 375.06 L1077.96 378.62 L1079.45 382.21 L1080.94 385.82 L1082.43 389.46 L1083.92 393.13 L1085.41 396.83 L1086.90 400.55 L1088.40 404.30 L1089.89 408.08 L1091.38 411.89 L1092.87 415.73 L1094.36 419.59 L1095.85 423.49 L1097.34 427.41 L1098.84 431.35 L1100.33 435.33 L1101.82 439.33 L1103.31 443.37 L1104.80 447.42 L1106.29 451.51 L1107.78 455.63 L1109.27 459.77 L1110.77 463.94 L1112.26 468.14 L1113.75 472.37 L1115.24 476.62 L1116.73 480.91 L1118.22 485.22 L1119.71 489.55 L1121.21 493.92 L1122.70 498.32 L1124.19 502.74 L1125.68 507.19 L1127.17 511.67 L1128.66 516.17 L1130.15 520.71 L1131.65 525.27 L1133.14 529.86 L1134.63 534.48 L1136.12 539.12 L1137.61 543.79 L1139.10 548.50 L1140.59 553.22 L1142.09 557.98 L1143.58 562.77 L1145.07 567.58 L1146.56 572.42 L1148.05 577.29 L1149.54 582.19 L1151.03 587.11 L1152.52 592.06 L1154.02 597.04 L1155.51 602.05 L1157.00 607.09 L1158.49 612.15 L1159.98 617.24 L1161.47 622.36 L1162.96 627.51 L1164.46 632.69 L1165.95 637.89 L1167.44 643.12 L1168.93 648.38 L1170.42 653.67 L1171.91 658.98 L1173.40 664.33 L1174.90 669.70 L1176.39 675.10 L1177.88 680.52 L1179.37 685.98 L1180.86 691.46 L1182.35 696.97 L1183.84 702.51 L1185.34 708.07" fill="none" stroke="#000" stroke-width="7.00" stroke-dasharray="21.4 5.32 5.33 5.32"/>
<path d="M588.78 1029.29 L590.28 1023.73 L591.77 1018.19 L593.26 1012.68 L594.75 1007.20 L596.24 1001.74 L597.73 996.32 L599.22 990.92 L600.72 985.55 L602.21 980.20 L603.70 974.89 L605.19 969.60 L606.68 964.34 L608.17 959.11 L609.66 953.91 L611.16 948.73 L612.65 943.58 L614.14 938.46 L615.63 933.37 L617.12 928.31 L618.61 923.27 L620.10 918.26 L621.60 913.28 L623.09 908.33 L624.58 903.41 L626.07 898.51 L627.56 893.64 L629.05 888.80 L630.54 883.99 L632.03 879.20 L633.53 874.44 L635.02 869.72 L636.51 865.01 L638.00 860.34 L639.49 855.70 L640.98 851.08 L642.47 846.49 L643.97 841.93 L645.46 837.39 L646.95 832.89 L648.44 828.41 L649.93 823.96 L651.42 819.54 L652.91 815.14 L654.41 810.77 L655.90 806.44 L657.39 802.13 L658.88 797.84 L660.37 793.59 L661.86 789.36 L663.35 785.16 L664.85 780.99 L666.34 776.85 L667.83 772.73 L669.32 768.64 L670.81 764.59 L672.30 760.55 L673.79 756.55 L675.28 752.57 L676.78 748.63 L678.27 744.71 L679.76 740.81 L681.25 736.95 L682.74 733.11 L684.23 729.30 L685.72 725.52 L687.22 721.77 L688.71 718.05 L690.20 714.35 L691.69 710.68 L693.18 707.04 L694.67 703.43 L696.16 699.84 L697.66 696.28 L699.15 692.75 L700.64 689.25 L702.13 685.78 L703.62 682.33 L705.11 678.92 L706.60 675.53 L708.10 672.16 L709.59 668.83 L711.08 665.52 L712.57 662.24 L714.06 658.99 L715.55 655.77 L717.04 652.58 L718.53 649.41 L720.03 646.27 L721.52 643.16 L723.01 640.08 L724.50 637.02 L725.99 634.00 L727.48 631.00 L728.97 628.02 L730.47 625.08 L731.96 622.17 L733.45 619.28 L734.94 616.42 L736.43 613.59 L737.92 610.78 L739.41 608.01 L740.91 605.26 L742.40 602.54 L743.89 599.84 L745.38 597.18 L746.87 594.54 L748.36 591.93 L749.85 589.35 L751.34 586.80 L752.84 584.28 L754.33 581.78 L755.82 579.31 L757.31 576.87 L758.80 574.46 L760.29 572.07 L761.78 569.71 L763.28 567.38 L764.77 565.08 L766.26 562.81 L767.75 560.56 L769.24 558.34 L770.73 556.15 L772.22 553.99 L773.72 551.86 L775.21 549.75 L776.70 547.67 L778.19 545.62 L779.68 543.60 L781.17 541.60 L782.66 539.63 L784.16 537.70 L785.65 535.78 L787.14 533.90 L788.63 532.05 L790.12 530.22 L791.61 528.42 L793.10 526.65 L794.59 524.90 L796.09 523.19 L797.58 521.50 L799.07 519.84 L800.56 518.21 L802.05 516.60 L803.54 515.03 L805.03 513.48 L806.53 511.96 L808.02 510.46 L809.51 509.00 L811.00 507.56 L812.49 506.15 L813.98 504.77 L815.47 503.42 L816.97 502.09 L818.46 500.80 L819.95 499.53 L821.44 498.29 L822.93 497.07 L824.42 495.89 L825.91 494.73 L827.40 493.60 L828.90 492.50 L830.39 491.42 L831.88 490.38 L833.37 489.36 L834.86 488.37 L836.35 487.40 L837.84 486.47 L839.34 485.56 L840.83 484.68 L842.32 483.83 L843.81 483.01 L845.30 482.21 L846.79 481.45 L848.28 480.71 L849.78 480.00 L851.27 479.31 L852.76 478.66 L854.25 478.03 L855.74 477.43 L857.23 476.86 L858.72 476.31 L860.22 475.80 L861.71 475.31 L863.20 474.85 L864.69 474.42 L866.18 474.01 L867.67 473.64 L869.16 473.29 L870.65 472.97 L872.15 472.67 L873.64 472.41 L875.13 472.17 L876.62 471.96 L878.11 471.78 L879.60 471.63 L881.09 471.50 L882.59 471.40 L884.08 471.33 L885.57 471.29 L887.06 471.28 L888.55 471.29 L890.04 471.33 L891.53 471.40 L893.03 471.50 L894.52 471.63 L896.01 471.78 L897.50 471.96 L898.99 472.17 L900.48 472.41 L901.97 472.67 L903.47 472.97 L904.96 473.29 L906.45 473.64 L907.94 474.01 L909.43 474.42 L910.92 474.85 L912.41 475.31 L913.90 475.80 L915.40 476.31 L916.89 476.86 L918.38 477.43 L919.87 478.03 L921.36 478.66 L922.85 479.31 L924.34 480.00 L925.84 480.71 L927.33 481.45 L928.82 482.21 L930.31 483.01 L931.80 483.83 L933.29 484.68 L934.78 485.56 L936.28 486.47 L937.77 487.40 L939.26 488.37 L940.75 489.36 L942.24 490.38 L943.73 491.42 L945.22 492.50 L946.71 493.60 L948.21 494.73 L949.70 495.89 L951.19 497.07 L952.68 498.29 L954.17 499.53 L955.66 500.80 L957.15 502.09 L958.65 503.42 L960.14 504.77 L961.63 506.15 L963.12 507.56 L964.61 509.00 L966.10 510.46 L967.59 511.96 L969.09 513.48 L970.58 515.03 L972.07 516.60 L973.56 518.21 L975.05 519.84 L976.54 521.50 L978.03 523.19 L979.53 524.90 L981.02 526.65 L982.51 528.42 L984.00 530.22 L985.49 532.05 L986.98 533.90 L988.47 535.78 L989.96 537.70 L991.46 539.63 L992.95 541.60 L994.44 543.60 L995.93 545.62 L997.42 547.67 L998.91 549.75 L1000.40 551.86 L1001.90 553.99 L1003.39 556.15 L1004.88 558.34 L1006.37 560.56 L1007.86 562.81 L1009.35 565.08 L1010.84 567.38 L1012.34 569.71 L1013.83 572.07 L1015.32 574.46 L1016.81 576.87 L1018.30 579.31 L1019.79 581.78 L1021.28 584.28 L1022.78 586.80 L1024.27 589.35 L1025.76 591.93 L1027.25 594.54 L1028.74 597.18 L1030.23 599.84 L1031.72 602.54 L1033.21 605.26 L1034.71 608.01 L1036.20 610.78 L1037.69 613.59 L1039.18 616.42 L1040.67 619.28 L1042.16 622.17 L1043.65 625.08 L1045.15 628.02 L1046.64 631.00 L1048.13 634.00 L1049.62 637.02 L1051.11 640.08 L1052.60 643.16 L1054.09 646.27 L1055.59 649.41 L1057.08 652.58 L1058.57 655.77 L1060.06 658.99 L1061.55 662.24 L1063.04 665.52 L1064.53 668.83 L1066.02 672.16 L1067.52 675.53 L1069.01 678.92 L1070.50 682.33 L1071.99 685.78 L1073.48 689.25 L1074.97 692.75 L1076.46 696.28 L1077.96 699.84 L1079.45 703.43 L1080.94 707.04 L1082.43 710.68 L1083.92 714.35 L1085.41 718.05 L1086.90 721.77 L1088.40 725.52 L1089.89 729.30 L1091.38 733.11 L1092.87 736.95 L1094.36 740.81 L1095.85 744.71 L1097.34 748.63 L1098.84 752.57 L1100.33 756.55 L1101.82 760.55 L1103.31 764.59 L1104.80 768.64 L1106.29 772.73 L1107.78 776.85 L1109.27 780.99 L1110.77 785.16 L1112.26 789.36 L1113.75 793.59 L1115.24 797.84 L1116.73 802.13 L1118.22 806.44 L1119.71 810.77 L1121.21 815.14 L1122.70 819.54 L1124.19 823.96 L1125.68 828.41 L1127.17 832.89 L1128.66 837.39 L1130.15 841.93 L1131.65 846.49 L1133.14 851.08 L1134.63 855.70 L1136.12 860.34 L1137.61 865.01 L1139.10 869.72 L1140.59 874.44 L1142.09 879.20 L1143.58 883.99 L1145.07 888.80 L1146.56 893.64 L1148.05 898.51 L1149.54 903.41 L1151.03 908.33 L1152.52 913.28 L1154.02 918.26 L1155.51 923.27 L1157.00 928.31 L1158.49 933.37 L1159.98 938.46 L1161.47 943.58 L1162.96 948.73 L1164.46 953.91 L1165.95 959.11 L1167.44 964.34 L1168.93 969.60 L1170.42 974.89 L1171.91 980.20 L1173.40 985.55 L1174.90 990.92 L1176.39 996.32 L1177.88 1001.74 L1179.37 1007.20 L1180.86 1012.68 L1182.35 1018.19 L1183.84 1023.73 L1185.34 1029.29" fill="none" stroke="#000" stroke-width="7.00" stroke-dasharray="21.4 5.32 5.33 5.32" stroke-dashoffset="13.0"/>
</g>
<path d="M439.65 937.10V926.60M439.65 37.95V48.45M588.78 937.10V926.60M588.78 37.95V48.45M737.92 937.10V926.60M737.92 37.95V48.45M887.06 937.10V926.60M887.06 37.95V48.45M1036.20 937.10V926.60M1036.20 37.95V48.45M1185.34 937.10V926.60M1185.34 37.95V48.45M1334.47 937.10V926.60M1334.47 37.95V48.45M290.50 937.36H295.70M1483.60 937.36H1478.40M290.50 924.64H295.70M1483.60 924.64H1478.40M290.50 913.89H295.70M1483.60 913.89H1478.40M290.50 904.57H295.70M1483.60 904.57H1478.40M290.50 896.36H295.70M1483.60 896.36H1478.40M290.50 889.01H301.00M1483.60 889.01H1473.10M290.50 840.66H295.70M1483.60 840.66H1478.40M290.50 812.38H295.70M1483.60 812.38H1478.40M290.50 792.31H295.70M1483.60 792.31H1478.40M290.50 776.75H295.70M1483.60 776.75H1478.40M290.50 764.03H295.70M1483.60 764.03H1478.40M290.50 753.28H295.70M1483.60 753.28H1478.40M290.50 743.96H295.70M1483.60 743.96H1478.40M290.50 735.75H295.70M1483.60 735.75H1478.40M290.50 728.40H301.00M1483.60 728.40H1473.10M290.50 680.05H295.70M1483.60 680.05H1478.40M290.50 651.77H295.70M1483.60 651.77H1478.40M290.50 631.70H295.70M1483.60 631.70H1478.40M290.50 616.14H295.70M1483.60 616.14H1478.40M290.50 603.42H295.70M1483.60 603.42H1478.40M290.50 592.67H295.70M1483.60 592.67H1478.40M290.50 583.35H295.70M1483.60 583.35H1478.40M290.50 575.14H295.70M1483.60 575.14H1478.40M290.50 567.79H301.00M1483.60 567.79H1473.10M290.50 519.44H295.70M1483.60 519.44H1478.40M290.50 491.16H295.70M1483.60 491.16H1478.40M290.50 471.09H295.70M1483.60 471.09H1478.40M290.50 455.53H295.70M1483.60 455.53H1478.40M290.50 442.81H295.70M1483.60 442.81H1478.40M290.50 432.06H295.70M1483.60 432.06H1478.40M290.50 422.74H295.70M1483.60 422.74H1478.40M290.50 414.53H295.70M1483.60 414.53H1478.40M290.50 407.18H301.00M1483.60 407.18H1473.10M290.50 358.83H295.70M1483.60 358.83H1478.40M290.50 330.55H295.70M1483.60 330.55H1478.40M290.50 310.48H295.70M1483.60 310.48H1478.40M290.50 294.92H295.70M1483.60 294.92H1478.40M290.50 282.20H295.70M1483.60 282.20H1478.40M290.50 271.45H295.70M1483.60 271.45H1478.40M290.50 262.13H295.70M1483.60 262.13H1478.40M290.50 253.92H295.70M1483.60 253.92H1478.40M290.50 246.57H301.00M1483.60 246.57H1473.10M290.50 198.22H295.70M1483.60 198.22H1478.40M290.50 169.94H295.70M1483.60 169.94H1478.40M290.50 149.87H295.70M1483.60 149.87H1478.40M290.50 134.31H295.70M1483.60 134.31H1478.40M290.50 121.59H295.70M1483.60 121.59H1478.40M290.50 110.84H295.70M1483.60 110.84H1478.40M290.50 101.52H295.70M1483.60 101.52H1478.40M290.50 93.31H295.70M1483.60 93.31H1478.40M290.50 85.96H301.00M1483.60 85.96H1473.10M290.50 37.61H295.70M1483.60 37.61H1478.40" stroke="#000" stroke-width="1.30" fill="none"/>
<rect x="290.50" y="37.95" width="1193.10" height="899.15" fill="none" stroke="#000" stroke-width="2.50"/>
<text font-size="68.00" x="141.82" y="919.21">1</text>
<text font-size="68.00" x="175.82" y="919.21">0</text>
<text font-size="45.50" transform="scale(1.2847,1)" x="161.90" y="898.02">−</text>
<text font-size="45.50" x="241.32" y="894.41">3</text>
<text font-size="68.00" x="141.82" y="758.60">1</text>
<text font-size="68.00" x="175.82" y="758.60">0</text>
<text font-size="45.50" transform="scale(1.2847,1)" x="161.90" y="737.41">−</text>
<text font-size="45.50" x="241.50" y="733.80">2</text>
<text font-size="68.00" x="141.82" y="597.99">1</text>
<text font-size="68.00" x="175.82" y="597.99">0</text>
<text font-size="45.50" transform="scale(1.2847,1)" x="161.90" y="576.80">−</text>
<text font-size="45.50" x="242.40" y="573.19">1</text>
<text font-size="68.00" x="175.52" y="437.38">1</text>
<text font-size="68.00" x="209.52" y="437.38">0</text>
<text font-size="45.50" x="240.87" y="412.58">0</text>
<text font-size="68.00" x="175.52" y="276.77">1</text>
<text font-size="68.00" x="209.52" y="276.77">0</text>
<text font-size="45.50" x="242.40" y="251.97">1</text>
<text font-size="68.00" x="175.52" y="116.16">1</text>
<text font-size="68.00" x="209.52" y="116.16">0</text>
<text font-size="45.50" x="241.20" y="91.36">2</text>
<text font-size="74.00" x="6.25" y="63.60">(</text>
<text font-size="74.00" font-style="italic" x="30.60" y="63.60">a</text>
<text font-size="74.00" x="74.32" y="63.60">)</text>
<text font-size="76.00" font-style="italic" x="0.71" y="523.50">P</text>
<text font-size="76.00" font-style="italic" transform="scale(1.0594,1)" x="38.70" y="523.50">α</text>
<text font-size="76.00" font-style="italic" x="80.58" y="523.50">′</text>
<path d="M462.6 1857.3h16.2v16.2h-16.2zM473.7 1896.2h16.2v16.2h-16.2zM483.2 1896.2h16.2v16.2h-16.2zM499.1 1831.9h16.2v16.2h-16.2zM504.7 1839.8h16.2v16.2h-16.2zM510.3 1839.8h16.2v16.2h-16.2zM515.0 1847.7h16.2v16.2h-16.2zM520.6 1831.9h16.2v16.2h-16.2zM525.4 1808.8h16.2v16.2h-16.2zM530.9 1787.3h16.2v16.2h-16.2zM536.5 1814.4h16.2v16.2h-16.2zM540.7 1788.2h16.2v16.2h-16.2zM541.3 1795.3h16.2v16.2h-16.2zM546.0 1839.8h16.2v16.2h-16.2zM551.6 1819.1h16.2v16.2h-16.2zM557.2 1791.3h16.2v16.2h-16.2zM562.7 1814.4h16.2v16.2h-16.2zM567.4 1745.6h16.2v16.2h-16.2zM572.5 1771.7h16.2v16.2h-16.2zM578.2 1769.1h16.2v16.2h-16.2zM582.6 1745.6h16.2v16.2h-16.2zM588.4 1736.1h16.2v16.2h-16.2zM594.1 1718.3h16.2v16.2h-16.2zM599.2 1728.4h16.2v16.2h-16.2zM603.6 1729.1h16.2v16.2h-16.2zM609.4 1716.4h16.2v16.2h-16.2zM614.4 1706.2h16.2v16.2h-16.2zM620.2 1715.7h16.2v16.2h-16.2zM624.6 1695.4h16.2v16.2h-16.2zM631.0 1705.5h16.2v16.2h-16.2zM635.4 1699.8h16.2v16.2h-16.2zM641.2 1678.8h16.2v16.2h-16.2zM645.0 1696.0h16.2v16.2h-16.2zM652.0 1661.7h16.2v16.2h-16.2zM656.9 1659.9h16.2v16.2h-16.2zM661.9 1653.9h16.2v16.2h-16.2zM667.9 1650.2h16.2v16.2h-16.2zM671.9 1642.5h16.2v16.2h-16.2zM676.9 1638.8h16.2v16.2h-16.2zM681.9 1634.6h16.2v16.2h-16.2zM686.9 1631.9h16.2v16.2h-16.2zM691.9 1629.1h16.2v16.2h-16.2zM696.9 1626.3h16.2v16.2h-16.2zM701.9 1622.2h16.2v16.2h-16.2zM706.9 1618.1h16.2v16.2h-16.2zM711.9 1614.6h16.2v16.2h-16.2zM716.9 1610.1h16.2v16.2h-16.2zM721.9 1606.7h16.2v16.2h-16.2zM726.9 1600.6h16.2v16.2h-16.2zM731.9 1592.4h16.2v16.2h-16.2zM736.9 1590.0h16.2v16.2h-16.2zM741.9 1585.7h16.2v16.2h-16.2zM746.9 1579.1h16.2v16.2h-16.2zM751.9 1574.0h16.2v16.2h-16.2zM756.9 1565.1h16.2v16.2h-16.2zM761.9 1556.7h16.2v16.2h-16.2zM766.9 1547.6h16.2v16.2h-16.2zM771.9 1545.0h16.2v16.2h-16.2zM776.9 1539.5h16.2v16.2h-16.2zM781.9 1534.0h16.2v16.2h-16.2zM786.9 1527.9h16.2v16.2h-16.2zM791.9 1524.8h16.2v16.2h-16.2zM796.9 1520.0h16.2v16.2h-16.2zM801.9 1513.2h16.2v16.2h-16.2zM806.9 1510.6h16.2v16.2h-16.2zM811.9 1506.5h16.2v16.2h-16.2zM816.9 1501.5h16.2v16.2h-16.2zM821.9 1497.1h16.2v16.2h-16.2zM826.9 1491.3h16.2v16.2h-16.2zM831.9 1487.8h16.2v16.2h-16.2zM836.9 1481.3h16.2v16.2h-16.2zM841.9 1471.8h16.2v16.2h-16.2zM846.9 1468.1h16.2v16.2h-16.2zM851.9 1459.9h16.2v16.2h-16.2zM856.9 1453.3h16.2v16.2h-16.2zM861.9 1448.5h16.2v16.2h-16.2zM866.9 1441.9h16.2v16.2h-16.2zM871.5 1427.9h16.2v16.2h-16.2zM876.5 1417.9h16.2v16.2h-16.2zM881.5 1410.0h16.2v16.2h-16.2zM886.5 1395.0h16.2v16.2h-16.2zM892.2 1379.0h16.2v16.2h-16.2zM897.2 1371.4h16.2v16.2h-16.2zM902.9 1377.1h16.2v16.2h-16.2zM907.9 1402.1h16.2v16.2h-16.2zM912.9 1431.5h16.2v16.2h-16.2zM917.9 1447.9h16.2v16.2h-16.2zM923.7 1462.0h16.2v16.2h-16.2zM928.7 1469.3h16.2v16.2h-16.2zM933.7 1475.4h16.2v16.2h-16.2zM938.7 1485.4h16.2v16.2h-16.2zM943.7 1496.3h16.2v16.2h-16.2zM948.7 1503.9h16.2v16.2h-16.2zM953.7 1511.8h16.2v16.2h-16.2zM958.7 1517.3h16.2v16.2h-16.2zM963.7 1524.6h16.2v16.2h-16.2zM968.7 1530.0h16.2v16.2h-16.2zM973.7 1538.1h16.2v16.2h-16.2zM978.7 1546.3h16.2v16.2h-16.2zM983.7 1552.0h16.2v16.2h-16.2zM988.7 1560.5h16.2v16.2h-16.2zM993.7 1567.1h16.2v16.2h-16.2zM998.7 1574.9h16.2v16.2h-16.2zM1003.7 1581.9h16.2v16.2h-16.2zM1008.7 1589.4h16.2v16.2h-16.2zM1013.7 1596.8h16.2v16.2h-16.2zM1018.7 1601.0h16.2v16.2h-16.2zM1023.7 1607.0h16.2v16.2h-16.2zM1028.7 1614.0h16.2v16.2h-16.2zM1033.7 1621.9h16.2v16.2h-16.2zM1038.7 1628.0h16.2v16.2h-16.2zM1043.7 1634.7h16.2v16.2h-16.2zM1048.7 1642.3h16.2v16.2h-16.2zM1053.7 1647.2h16.2v16.2h-16.2zM1058.7 1652.7h16.2v16.2h-16.2zM1063.7 1658.6h16.2v16.2h-16.2zM1068.7 1662.7h16.2v16.2h-16.2zM1073.7 1665.5h16.2v16.2h-16.2zM1078.7 1667.7h16.2v16.2h-16.2zM1083.7 1671.2h16.2v16.2h-16.2zM1088.7 1676.8h16.2v16.2h-16.2zM1100.6 1690.6h16.2v16.2h-16.2zM1106.9 1708.4h16.2v16.2h-16.2zM1112.6 1690.6h16.2v16.2h-16.2zM1117.7 1708.4h16.2v16.2h-16.2zM1123.5 1717.9h16.2v16.2h-16.2zM1127.9 1717.9h16.2v16.2h-16.2zM1132.4 1734.4h16.2v16.2h-16.2zM1138.1 1745.3h16.2v16.2h-16.2zM1143.8 1726.8h16.2v16.2h-16.2zM1148.9 1762.4h16.2v16.2h-16.2zM1154.6 1754.8h16.2v16.2h-16.2zM1159.7 1774.5h16.2v16.2h-16.2zM1164.8 1756.1h16.2v16.2h-16.2zM1168.9 1808.6h16.2v16.2h-16.2zM1175.5 1788.0h16.2v16.2h-16.2zM1180.2 1814.7h16.2v16.2h-16.2zM1185.5 1818.2h16.2v16.2h-16.2zM1191.6 1799.9h16.2v16.2h-16.2zM1196.0 1804.3h16.2v16.2h-16.2zM1202.1 1814.7h16.2v16.2h-16.2zM1206.5 1848.0h16.2v16.2h-16.2zM1210.8 1814.7h16.2v16.2h-16.2zM1217.8 1840.1h16.2v16.2h-16.2zM1222.2 1857.6h16.2v16.2h-16.2zM1227.4 1857.6h16.2v16.2h-16.2zM1237.9 1880.3h16.2v16.2h-16.2zM1243.2 1880.3h16.2v16.2h-16.2zM1248.4 1880.3h16.2v16.2h-16.2zM1253.7 1880.3h16.2v16.2h-16.2zM1258.9 1880.3h16.2v16.2h-16.2zM1269.4 1868.1h16.2v16.2h-16.2zM1290.4 1896.1h16.2v16.2h-16.2z" fill="none" stroke="#00f" stroke-width="2.30" stroke-linejoin="round"/>
<path d="M574.5 1814.5a7.85 7.85 0 1 0 15.70 0a7.85 7.85 0 1 0 -15.70 0zM577.2 1863.0a7.85 7.85 0 1 0 15.70 0a7.85 7.85 0 1 0 -15.70 0zM580.4 1863.0a7.85 7.85 0 1 0 15.70 0a7.85 7.85 0 1 0 -15.70 0zM582.1 1814.5a7.85 7.85 0 1 0 15.70 0a7.85 7.85 0 1 0 -15.70 0zM583.6 1863.0a7.85 7.85 0 1 0 15.70 0a7.85 7.85 0 1 0 -15.70 0zM586.1 1814.5a7.85 7.85 0 1 0 15.70 0a7.85 7.85 0 1 0 -15.70 0zM590.1 1814.5a7.85 7.85 0 1 0 15.70 0a7.85 7.85 0 1 0 -15.70 0zM594.1 1814.5a7.85 7.85 0 1 0 15.70 0a7.85 7.85 0 1 0 -15.70 0zM601.1 1863.0a7.85 7.85 0 1 0 15.70 0a7.85 7.85 0 1 0 -15.70 0zM604.1 1863.0a7.85 7.85 0 1 0 15.70 0a7.85 7.85 0 1 0 -15.70 0zM606.6 1863.0a7.85 7.85 0 1 0 15.70 0a7.85 7.85 0 1 0 -15.70 0zM611.4 1814.5a7.85 7.85 0 1 0 15.70 0a7.85 7.85 0 1 0 -15.70 0zM615.1 1814.5a7.85 7.85 0 1 0 15.70 0a7.85 7.85 0 1 0 -15.70 0zM618.6 1814.5a7.85 7.85 0 1 0 15.70 0a7.85 7.85 0 1 0 -15.70 0zM620.4 1766.6a7.85 7.85 0 1 0 15.70 0a7.85 7.85 0 1 0 -15.70 0zM622.4 1766.6a7.85 7.85 0 1 0 15.70 0a7.85 7.85 0 1 0 -15.70 0zM624.4 1766.6a7.85 7.85 0 1 0 15.70 0a7.85 7.85 0 1 0 -15.70 0zM626.9 1750.7a7.85 7.85 0 1 0 15.70 0a7.85 7.85 0 1 0 -15.70 0zM629.9 1750.7a7.85 7.85 0 1 0 15.70 0a7.85 7.85 0 1 0 -15.70 0zM632.9 1750.7a7.85 7.85 0 1 0 15.70 0a7.85 7.85 0 1 0 -15.70 0zM635.9 1750.7a7.85 7.85 0 1 0 15.70 0a7.85 7.85 0 1 0 -15.70 0zM638.9 1737.9a7.85 7.85 0 1 0 15.70 0a7.85 7.85 0 1 0 -15.70 0zM641.5 1727.8a7.85 7.85 0 1 0 15.70 0a7.85 7.85 0 1 0 -15.70 0zM644.8 1709.3a7.85 7.85 0 1 0 15.70 0a7.85 7.85 0 1 0 -15.70 0zM647.2 1703.6a7.85 7.85 0 1 0 15.70 0a7.85 7.85 0 1 0 -15.70 0zM651.0 1690.2a7.85 7.85 0 1 0 15.70 0a7.85 7.85 0 1 0 -15.70 0zM654.2 1680.7a7.85 7.85 0 1 0 15.70 0a7.85 7.85 0 1 0 -15.70 0zM657.4 1679.0a7.85 7.85 0 1 0 15.70 0a7.85 7.85 0 1 0 -15.70 0zM660.6 1678.2a7.85 7.85 0 1 0 15.70 0a7.85 7.85 0 1 0 -15.70 0zM663.1 1674.0a7.85 7.85 0 1 0 15.70 0a7.85 7.85 0 1 0 -15.70 0zM665.6 1670.5a7.85 7.85 0 1 0 15.70 0a7.85 7.85 0 1 0 -15.70 0zM668.9 1666.0a7.85 7.85 0 1 0 15.70 0a7.85 7.85 0 1 0 -15.70 0zM672.0 1661.6a7.85 7.85 0 1 0 15.70 0a7.85 7.85 0 1 0 -15.70 0zM675.9 1653.0a7.85 7.85 0 1 0 15.70 0a7.85 7.85 0 1 0 -15.70 0zM679.6 1645.1a7.85 7.85 0 1 0 15.70 0a7.85 7.85 0 1 0 -15.70 0zM683.0 1640.0a7.85 7.85 0 1 0 15.70 0a7.85 7.85 0 1 0 -15.70 0zM686.5 1638.8a7.85 7.85 0 1 0 15.70 0a7.85 7.85 0 1 0 -15.70 0zM689.4 1630.0a7.85 7.85 0 1 0 15.70 0a7.85 7.85 0 1 0 -15.70 0zM692.2 1621.6a7.85 7.85 0 1 0 15.70 0a7.85 7.85 0 1 0 -15.70 0zM695.1 1620.9a7.85 7.85 0 1 0 15.70 0a7.85 7.85 0 1 0 -15.70 0zM697.9 1620.2a7.85 7.85 0 1 0 15.70 0a7.85 7.85 0 1 0 -15.70 0zM701.5 1614.5a7.85 7.85 0 1 0 15.70 0a7.85 7.85 0 1 0 -15.70 0zM705.1 1608.8a7.85 7.85 0 1 0 15.70 0a7.85 7.85 0 1 0 -15.70 0zM710.9 1598.7a7.85 7.85 0 1 0 15.70 0a7.85 7.85 0 1 0 -15.70 0zM714.4 1594.5a7.85 7.85 0 1 0 15.70 0a7.85 7.85 0 1 0 -15.70 0zM717.9 1590.2a7.85 7.85 0 1 0 15.70 0a7.85 7.85 0 1 0 -15.70 0zM721.6 1589.8a7.85 7.85 0 1 0 15.70 0a7.85 7.85 0 1 0 -15.70 0zM725.4 1589.4a7.85 7.85 0 1 0 15.70 0a7.85 7.85 0 1 0 -15.70 0zM728.4 1589.0a7.85 7.85 0 1 0 15.70 0a7.85 7.85 0 1 0 -15.70 0zM730.9 1588.7a7.85 7.85 0 1 0 15.70 0a7.85 7.85 0 1 0 -15.70 0zM733.8 1573.0a7.85 7.85 0 1 0 15.70 0a7.85 7.85 0 1 0 -15.70 0zM738.1 1566.0a7.85 7.85 0 1 0 15.70 0a7.85 7.85 0 1 0 -15.70 0zM742.4 1558.7a7.85 7.85 0 1 0 15.70 0a7.85 7.85 0 1 0 -15.70 0zM745.1 1551.5a7.85 7.85 0 1 0 15.70 0a7.85 7.85 0 1 0 -15.70 0zM748.0 1544.4a7.85 7.85 0 1 0 15.70 0a7.85 7.85 0 1 0 -15.70 0zM752.4 1540.0a7.85 7.85 0 1 0 15.70 0a7.85 7.85 0 1 0 -15.70 0zM756.6 1535.8a7.85 7.85 0 1 0 15.70 0a7.85 7.85 0 1 0 -15.70 0zM757.2 1537.7a7.85 7.85 0 1 0 15.70 0a7.85 7.85 0 1 0 -15.70 0zM759.0 1531.2a7.85 7.85 0 1 0 15.70 0a7.85 7.85 0 1 0 -15.70 0zM764.8 1531.0a7.85 7.85 0 1 0 15.70 0a7.85 7.85 0 1 0 -15.70 0zM766.0 1525.9a7.85 7.85 0 1 0 15.70 0a7.85 7.85 0 1 0 -15.70 0zM771.4 1526.7a7.85 7.85 0 1 0 15.70 0a7.85 7.85 0 1 0 -15.70 0zM773.4 1522.7a7.85 7.85 0 1 0 15.70 0a7.85 7.85 0 1 0 -15.70 0zM778.4 1523.2a7.85 7.85 0 1 0 15.70 0a7.85 7.85 0 1 0 -15.70 0zM780.4 1518.2a7.85 7.85 0 1 0 15.70 0a7.85 7.85 0 1 0 -15.70 0zM785.4 1520.8a7.85 7.85 0 1 0 15.70 0a7.85 7.85 0 1 0 -15.70 0zM786.9 1515.3a7.85 7.85 0 1 0 15.70 0a7.85 7.85 0 1 0 -15.70 0zM793.0 1514.8a7.85 7.85 0 1 0 15.70 0a7.85 7.85 0 1 0 -15.70 0zM793.8 1507.8a7.85 7.85 0 1 0 15.70 0a7.85 7.85 0 1 0 -15.70 0zM800.1 1505.8a7.85 7.85 0 1 0 15.70 0a7.85 7.85 0 1 0 -15.70 0zM800.6 1497.0a7.85 7.85 0 1 0 15.70 0a7.85 7.85 0 1 0 -15.70 0zM807.1 1494.2a7.85 7.85 0 1 0 15.70 0a7.85 7.85 0 1 0 -15.70 0zM807.8 1487.9a7.85 7.85 0 1 0 15.70 0a7.85 7.85 0 1 0 -15.70 0zM814.0 1484.0a7.85 7.85 0 1 0 15.70 0a7.85 7.85 0 1 0 -15.70 0zM814.8 1478.9a7.85 7.85 0 1 0 15.70 0a7.85 7.85 0 1 0 -15.70 0zM821.0 1474.9a7.85 7.85 0 1 0 15.70 0a7.85 7.85 0 1 0 -15.70 0zM821.8 1469.5a7.85 7.85 0 1 0 15.70 0a7.85 7.85 0 1 0 -15.70 0zM828.0 1468.1a7.85 7.85 0 1 0 15.70 0a7.85 7.85 0 1 0 -15.70 0zM828.8 1461.2a7.85 7.85 0 1 0 15.70 0a7.85 7.85 0 1 0 -15.70 0zM835.0 1458.4a7.85 7.85 0 1 0 15.70 0a7.85 7.85 0 1 0 -15.70 0zM836.0 1452.0a7.85 7.85 0 1 0 15.70 0a7.85 7.85 0 1 0 -15.70 0zM841.8 1452.8a7.85 7.85 0 1 0 15.70 0a7.85 7.85 0 1 0 -15.70 0zM843.0 1448.0a7.85 7.85 0 1 0 15.70 0a7.85 7.85 0 1 0 -15.70 0zM848.8 1446.8a7.85 7.85 0 1 0 15.70 0a7.85 7.85 0 1 0 -15.70 0zM850.2 1442.6a7.85 7.85 0 1 0 15.70 0a7.85 7.85 0 1 0 -15.70 0zM855.5 1442.0a7.85 7.85 0 1 0 15.70 0a7.85 7.85 0 1 0 -15.70 0zM857.2 1438.4a7.85 7.85 0 1 0 15.70 0a7.85 7.85 0 1 0 -15.70 0zM862.5 1437.6a7.85 7.85 0 1 0 15.70 0a7.85 7.85 0 1 0 -15.70 0zM864.9 1433.4a7.85 7.85 0 1 0 15.70 0a7.85 7.85 0 1 0 -15.70 0zM868.9 1437.4a7.85 7.85 0 1 0 15.70 0a7.85 7.85 0 1 0 -15.70 0zM871.9 1433.0a7.85 7.85 0 1 0 15.70 0a7.85 7.85 0 1 0 -15.70 0zM875.9 1436.0a7.85 7.85 0 1 0 15.70 0a7.85 7.85 0 1 0 -15.70 0zM879.1 1431.9a7.85 7.85 0 1 0 15.70 0a7.85 7.85 0 1 0 -15.70 0zM882.6 1435.3a7.85 7.85 0 1 0 15.70 0a7.85 7.85 0 1 0 -15.70 0zM886.1 1431.6a7.85 7.85 0 1 0 15.70 0a7.85 7.85 0 1 0 -15.70 0zM889.6 1434.2a7.85 7.85 0 1 0 15.70 0a7.85 7.85 0 1 0 -15.70 0zM893.6 1431.4a7.85 7.85 0 1 0 15.70 0a7.85 7.85 0 1 0 -15.70 0zM896.1 1435.3a7.85 7.85 0 1 0 15.70 0a7.85 7.85 0 1 0 -15.70 0zM900.6 1434.1a7.85 7.85 0 1 0 15.70 0a7.85 7.85 0 1 0 -15.70 0zM903.1 1438.5a7.85 7.85 0 1 0 15.70 0a7.85 7.85 0 1 0 -15.70 0zM907.9 1435.4a7.85 7.85 0 1 0 15.70 0a7.85 7.85 0 1 0 -15.70 0zM909.9 1440.0a7.85 7.85 0 1 0 15.70 0a7.85 7.85 0 1 0 -15.70 0zM914.9 1440.3a7.85 7.85 0 1 0 15.70 0a7.85 7.85 0 1 0 -15.70 0zM916.9 1445.0a7.85 7.85 0 1 0 15.70 0a7.85 7.85 0 1 0 -15.70 0zM922.0 1443.0a7.85 7.85 0 1 0 15.70 0a7.85 7.85 0 1 0 -15.70 0zM923.8 1448.3a7.85 7.85 0 1 0 15.70 0a7.85 7.85 0 1 0 -15.70 0zM929.0 1447.9a7.85 7.85 0 1 0 15.70 0a7.85 7.85 0 1 0 -15.70 0zM930.8 1452.3a7.85 7.85 0 1 0 15.70 0a7.85 7.85 0 1 0 -15.70 0zM936.1 1451.2a7.85 7.85 0 1 0 15.70 0a7.85 7.85 0 1 0 -15.70 0zM937.5 1456.8a7.85 7.85 0 1 0 15.70 0a7.85 7.85 0 1 0 -15.70 0zM943.2 1456.6a7.85 7.85 0 1 0 15.70 0a7.85 7.85 0 1 0 -15.70 0zM944.5 1461.7a7.85 7.85 0 1 0 15.70 0a7.85 7.85 0 1 0 -15.70 0zM950.2 1462.9a7.85 7.85 0 1 0 15.70 0a7.85 7.85 0 1 0 -15.70 0zM951.5 1468.0a7.85 7.85 0 1 0 15.70 0a7.85 7.85 0 1 0 -15.70 0zM957.4 1468.4a7.85 7.85 0 1 0 15.70 0a7.85 7.85 0 1 0 -15.70 0zM958.0 1476.0a7.85 7.85 0 1 0 15.70 0a7.85 7.85 0 1 0 -15.70 0zM964.8 1482.4a7.85 7.85 0 1 0 15.70 0a7.85 7.85 0 1 0 -15.70 0zM965.0 1490.9a7.85 7.85 0 1 0 15.70 0a7.85 7.85 0 1 0 -15.70 0zM971.6 1496.1a7.85 7.85 0 1 0 15.70 0a7.85 7.85 0 1 0 -15.70 0zM972.2 1502.9a7.85 7.85 0 1 0 15.70 0a7.85 7.85 0 1 0 -15.70 0zM978.5 1506.1a7.85 7.85 0 1 0 15.70 0a7.85 7.85 0 1 0 -15.70 0zM979.2 1511.9a7.85 7.85 0 1 0 15.70 0a7.85 7.85 0 1 0 -15.70 0zM985.6 1514.7a7.85 7.85 0 1 0 15.70 0a7.85 7.85 0 1 0 -15.70 0zM986.1 1522.2a7.85 7.85 0 1 0 15.70 0a7.85 7.85 0 1 0 -15.70 0zM992.6 1524.5a7.85 7.85 0 1 0 15.70 0a7.85 7.85 0 1 0 -15.70 0zM993.1 1531.7a7.85 7.85 0 1 0 15.70 0a7.85 7.85 0 1 0 -15.70 0zM999.6 1536.7a7.85 7.85 0 1 0 15.70 0a7.85 7.85 0 1 0 -15.70 0zM1000.0 1544.9a7.85 7.85 0 1 0 15.70 0a7.85 7.85 0 1 0 -15.70 0zM1006.8 1550.5a7.85 7.85 0 1 0 15.70 0a7.85 7.85 0 1 0 -15.70 0zM1007.1 1558.1a7.85 7.85 0 1 0 15.70 0a7.85 7.85 0 1 0 -15.70 0zM1013.6 1562.3a7.85 7.85 0 1 0 15.70 0a7.85 7.85 0 1 0 -15.70 0zM1014.1 1570.0a7.85 7.85 0 1 0 15.70 0a7.85 7.85 0 1 0 -15.70 0zM1020.6 1573.1a7.85 7.85 0 1 0 15.70 0a7.85 7.85 0 1 0 -15.70 0zM1021.1 1581.3a7.85 7.85 0 1 0 15.70 0a7.85 7.85 0 1 0 -15.70 0zM1027.7 1584.5a7.85 7.85 0 1 0 15.70 0a7.85 7.85 0 1 0 -15.70 0zM1028.2 1591.2a7.85 7.85 0 1 0 15.70 0a7.85 7.85 0 1 0 -15.70 0zM1034.8 1595.6a7.85 7.85 0 1 0 15.70 0a7.85 7.85 0 1 0 -15.70 0zM1035.1 1604.0a7.85 7.85 0 1 0 15.70 0a7.85 7.85 0 1 0 -15.70 0zM1041.7 1608.6a7.85 7.85 0 1 0 15.70 0a7.85 7.85 0 1 0 -15.70 0zM1042.2 1615.8a7.85 7.85 0 1 0 15.70 0a7.85 7.85 0 1 0 -15.70 0zM1048.6 1617.5a7.85 7.85 0 1 0 15.70 0a7.85 7.85 0 1 0 -15.70 0zM1049.4 1624.2a7.85 7.85 0 1 0 15.70 0a7.85 7.85 0 1 0 -15.70 0zM1055.5 1623.9a7.85 7.85 0 1 0 15.70 0a7.85 7.85 0 1 0 -15.70 0zM1056.4 1630.0a7.85 7.85 0 1 0 15.70 0a7.85 7.85 0 1 0 -15.70 0zM1062.5 1631.9a7.85 7.85 0 1 0 15.70 0a7.85 7.85 0 1 0 -15.70 0zM1063.2 1638.5a7.85 7.85 0 1 0 15.70 0a7.85 7.85 0 1 0 -15.70 0zM1069.9 1644.3a7.85 7.85 0 1 0 15.70 0a7.85 7.85 0 1 0 -15.70 0zM1070.2 1656.6a7.85 7.85 0 1 0 15.70 0a7.85 7.85 0 1 0 -15.70 0zM1076.2 1657.3a7.85 7.85 0 1 0 15.70 0a7.85 7.85 0 1 0 -15.70 0zM1077.6 1661.8a7.85 7.85 0 1 0 15.70 0a7.85 7.85 0 1 0 -15.70 0zM1083.5 1663.1a7.85 7.85 0 1 0 15.70 0a7.85 7.85 0 1 0 -15.70 0zM1084.4 1669.4a7.85 7.85 0 1 0 15.70 0a7.85 7.85 0 1 0 -15.70 0zM1091.0 1673.3a7.85 7.85 0 1 0 15.70 0a7.85 7.85 0 1 0 -15.70 0zM1092.7 1693.1a7.85 7.85 0 1 0 15.70 0a7.85 7.85 0 1 0 -15.70 0zM1095.9 1709.6a7.85 7.85 0 1 0 15.70 0a7.85 7.85 0 1 0 -15.70 0zM1102.2 1737.6a7.85 7.85 0 1 0 15.70 0a7.85 7.85 0 1 0 -15.70 0zM1104.2 1737.6a7.85 7.85 0 1 0 15.70 0a7.85 7.85 0 1 0 -15.70 0zM1106.2 1737.6a7.85 7.85 0 1 0 15.70 0a7.85 7.85 0 1 0 -15.70 0zM1108.0 1751.6a7.85 7.85 0 1 0 15.70 0a7.85 7.85 0 1 0 -15.70 0zM1110.5 1766.8a7.85 7.85 0 1 0 15.70 0a7.85 7.85 0 1 0 -15.70 0zM1113.2 1787.0a7.85 7.85 0 1 0 15.70 0a7.85 7.85 0 1 0 -15.70 0zM1116.7 1862.2a7.85 7.85 0 1 0 15.70 0a7.85 7.85 0 1 0 -15.70 0zM1118.2 1816.4a7.85 7.85 0 1 0 15.70 0a7.85 7.85 0 1 0 -15.70 0zM1119.2 1815.0a7.85 7.85 0 1 0 15.70 0a7.85 7.85 0 1 0 -15.70 0zM1122.6 1802.5a7.85 7.85 0 1 0 15.70 0a7.85 7.85 0 1 0 -15.70 0zM1124.6 1836.8a7.85 7.85 0 1 0 15.70 0a7.85 7.85 0 1 0 -15.70 0zM1128.1 1819.3a7.85 7.85 0 1 0 15.70 0a7.85 7.85 0 1 0 -15.70 0z" fill="none" stroke="#f00" stroke-width="2.35"/>
<path d="M553.1 1581.2a7.85 7.85 0 1 0 15.70 0a7.85 7.85 0 1 0 -15.70 0zM556.9 1533.0a7.85 7.85 0 1 0 15.70 0a7.85 7.85 0 1 0 -15.70 0zM560.4 1512.9a7.85 7.85 0 1 0 15.70 0a7.85 7.85 0 1 0 -15.70 0zM564.1 1512.9a7.85 7.85 0 1 0 15.70 0a7.85 7.85 0 1 0 -15.70 0zM564.6 1504.4a7.85 7.85 0 1 0 15.70 0a7.85 7.85 0 1 0 -15.70 0zM567.9 1512.9a7.85 7.85 0 1 0 15.70 0a7.85 7.85 0 1 0 -15.70 0zM571.8 1512.9a7.85 7.85 0 1 0 15.70 0a7.85 7.85 0 1 0 -15.70 0zM575.5 1512.9a7.85 7.85 0 1 0 15.70 0a7.85 7.85 0 1 0 -15.70 0zM575.5 1523.0a7.85 7.85 0 1 0 15.70 0a7.85 7.85 0 1 0 -15.70 0zM579.4 1512.9a7.85 7.85 0 1 0 15.70 0a7.85 7.85 0 1 0 -15.70 0zM583.2 1491.0a7.85 7.85 0 1 0 15.70 0a7.85 7.85 0 1 0 -15.70 0zM587.0 1479.1a7.85 7.85 0 1 0 15.70 0a7.85 7.85 0 1 0 -15.70 0zM590.5 1456.7a7.85 7.85 0 1 0 15.70 0a7.85 7.85 0 1 0 -15.70 0zM593.6 1452.7a7.85 7.85 0 1 0 15.70 0a7.85 7.85 0 1 0 -15.70 0zM598.4 1439.2a7.85 7.85 0 1 0 15.70 0a7.85 7.85 0 1 0 -15.70 0zM602.4 1431.2a7.85 7.85 0 1 0 15.70 0a7.85 7.85 0 1 0 -15.70 0zM605.6 1434.4a7.85 7.85 0 1 0 15.70 0a7.85 7.85 0 1 0 -15.70 0zM609.5 1420.1a7.85 7.85 0 1 0 15.70 0a7.85 7.85 0 1 0 -15.70 0zM614.4 1415.3a7.85 7.85 0 1 0 15.70 0a7.85 7.85 0 1 0 -15.70 0zM619.1 1410.6a7.85 7.85 0 1 0 15.70 0a7.85 7.85 0 1 0 -15.70 0zM623.9 1404.2a7.85 7.85 0 1 0 15.70 0a7.85 7.85 0 1 0 -15.70 0zM627.9 1399.4a7.85 7.85 0 1 0 15.70 0a7.85 7.85 0 1 0 -15.70 0zM630.6 1399.4a7.85 7.85 0 1 0 15.70 0a7.85 7.85 0 1 0 -15.70 0zM633.4 1399.4a7.85 7.85 0 1 0 15.70 0a7.85 7.85 0 1 0 -15.70 0zM636.6 1396.0a7.85 7.85 0 1 0 15.70 0a7.85 7.85 0 1 0 -15.70 0zM639.8 1393.1a7.85 7.85 0 1 0 15.70 0a7.85 7.85 0 1 0 -15.70 0zM642.9 1385.1a7.85 7.85 0 1 0 15.70 0a7.85 7.85 0 1 0 -15.70 0zM647.8 1382.0a7.85 7.85 0 1 0 15.70 0a7.85 7.85 0 1 0 -15.70 0zM652.5 1372.4a7.85 7.85 0 1 0 15.70 0a7.85 7.85 0 1 0 -15.70 0zM657.2 1367.6a7.85 7.85 0 1 0 15.70 0a7.85 7.85 0 1 0 -15.70 0zM662.0 1366.1a7.85 7.85 0 1 0 15.70 0a7.85 7.85 0 1 0 -15.70 0zM665.2 1358.1a7.85 7.85 0 1 0 15.70 0a7.85 7.85 0 1 0 -15.70 0zM670.0 1351.7a7.85 7.85 0 1 0 15.70 0a7.85 7.85 0 1 0 -15.70 0zM674.8 1345.4a7.85 7.85 0 1 0 15.70 0a7.85 7.85 0 1 0 -15.70 0zM679.5 1335.9a7.85 7.85 0 1 0 15.70 0a7.85 7.85 0 1 0 -15.70 0zM684.4 1326.3a7.85 7.85 0 1 0 15.70 0a7.85 7.85 0 1 0 -15.70 0zM688.2 1320.0a7.85 7.85 0 1 0 15.70 0a7.85 7.85 0 1 0 -15.70 0zM693.9 1310.4a7.85 7.85 0 1 0 15.70 0a7.85 7.85 0 1 0 -15.70 0zM698.6 1299.3a7.85 7.85 0 1 0 15.70 0a7.85 7.85 0 1 0 -15.70 0zM703.4 1291.3a7.85 7.85 0 1 0 15.70 0a7.85 7.85 0 1 0 -15.70 0zM706.6 1286.5a7.85 7.85 0 1 0 15.70 0a7.85 7.85 0 1 0 -15.70 0zM709.8 1281.8a7.85 7.85 0 1 0 15.70 0a7.85 7.85 0 1 0 -15.70 0zM712.9 1277.0a7.85 7.85 0 1 0 15.70 0a7.85 7.85 0 1 0 -15.70 0zM716.0 1272.3a7.85 7.85 0 1 0 15.70 0a7.85 7.85 0 1 0 -15.70 0zM719.9 1268.5a7.85 7.85 0 1 0 15.70 0a7.85 7.85 0 1 0 -15.70 0zM722.4 1264.6a7.85 7.85 0 1 0 15.70 0a7.85 7.85 0 1 0 -15.70 0zM728.0 1263.6a7.85 7.85 0 1 0 15.70 0a7.85 7.85 0 1 0 -15.70 0zM730.1 1258.4a7.85 7.85 0 1 0 15.70 0a7.85 7.85 0 1 0 -15.70 0zM735.9 1256.7a7.85 7.85 0 1 0 15.70 0a7.85 7.85 0 1 0 -15.70 0zM737.9 1252.0a7.85 7.85 0 1 0 15.70 0a7.85 7.85 0 1 0 -15.70 0zM743.6 1251.5a7.85 7.85 0 1 0 15.70 0a7.85 7.85 0 1 0 -15.70 0zM745.6 1245.0a7.85 7.85 0 1 0 15.70 0a7.85 7.85 0 1 0 -15.70 0zM751.5 1243.3a7.85 7.85 0 1 0 15.70 0a7.85 7.85 0 1 0 -15.70 0zM753.4 1236.6a7.85 7.85 0 1 0 15.70 0a7.85 7.85 0 1 0 -15.70 0zM759.4 1233.8a7.85 7.85 0 1 0 15.70 0a7.85 7.85 0 1 0 -15.70 0zM761.1 1227.8a7.85 7.85 0 1 0 15.70 0a7.85 7.85 0 1 0 -15.70 0zM767.2 1226.4a7.85 7.85 0 1 0 15.70 0a7.85 7.85 0 1 0 -15.70 0zM768.9 1219.3a7.85 7.85 0 1 0 15.70 0a7.85 7.85 0 1 0 -15.70 0zM775.0 1217.2a7.85 7.85 0 1 0 15.70 0a7.85 7.85 0 1 0 -15.70 0zM776.8 1209.7a7.85 7.85 0 1 0 15.70 0a7.85 7.85 0 1 0 -15.70 0zM782.9 1206.1a7.85 7.85 0 1 0 15.70 0a7.85 7.85 0 1 0 -15.70 0zM784.5 1200.4a7.85 7.85 0 1 0 15.70 0a7.85 7.85 0 1 0 -15.70 0zM790.5 1197.6a7.85 7.85 0 1 0 15.70 0a7.85 7.85 0 1 0 -15.70 0zM792.4 1189.8a7.85 7.85 0 1 0 15.70 0a7.85 7.85 0 1 0 -15.70 0zM798.4 1188.6a7.85 7.85 0 1 0 15.70 0a7.85 7.85 0 1 0 -15.70 0zM800.1 1181.2a7.85 7.85 0 1 0 15.70 0a7.85 7.85 0 1 0 -15.70 0zM806.2 1178.6a7.85 7.85 0 1 0 15.70 0a7.85 7.85 0 1 0 -15.70 0zM808.0 1173.8a7.85 7.85 0 1 0 15.70 0a7.85 7.85 0 1 0 -15.70 0zM813.9 1169.6a7.85 7.85 0 1 0 15.70 0a7.85 7.85 0 1 0 -15.70 0zM815.9 1163.7a7.85 7.85 0 1 0 15.70 0a7.85 7.85 0 1 0 -15.70 0zM821.8 1162.9a7.85 7.85 0 1 0 15.70 0a7.85 7.85 0 1 0 -15.70 0zM823.6 1155.9a7.85 7.85 0 1 0 15.70 0a7.85 7.85 0 1 0 -15.70 0zM829.5 1153.3a7.85 7.85 0 1 0 15.70 0a7.85 7.85 0 1 0 -15.70 0zM831.5 1147.6a7.85 7.85 0 1 0 15.70 0a7.85 7.85 0 1 0 -15.70 0zM837.2 1146.5a7.85 7.85 0 1 0 15.70 0a7.85 7.85 0 1 0 -15.70 0zM839.4 1142.0a7.85 7.85 0 1 0 15.70 0a7.85 7.85 0 1 0 -15.70 0zM845.1 1139.1a7.85 7.85 0 1 0 15.70 0a7.85 7.85 0 1 0 -15.70 0zM847.0 1134.9a7.85 7.85 0 1 0 15.70 0a7.85 7.85 0 1 0 -15.70 0zM852.9 1131.9a7.85 7.85 0 1 0 15.70 0a7.85 7.85 0 1 0 -15.70 0zM854.9 1126.9a7.85 7.85 0 1 0 15.70 0a7.85 7.85 0 1 0 -15.70 0zM860.8 1124.3a7.85 7.85 0 1 0 15.70 0a7.85 7.85 0 1 0 -15.70 0zM862.6 1116.8a7.85 7.85 0 1 0 15.70 0a7.85 7.85 0 1 0 -15.70 0zM868.4 1115.0a7.85 7.85 0 1 0 15.70 0a7.85 7.85 0 1 0 -15.70 0zM870.5 1109.9a7.85 7.85 0 1 0 15.70 0a7.85 7.85 0 1 0 -15.70 0zM875.9 1108.6a7.85 7.85 0 1 0 15.70 0a7.85 7.85 0 1 0 -15.70 0zM878.8 1105.6a7.85 7.85 0 1 0 15.70 0a7.85 7.85 0 1 0 -15.70 0zM883.5 1105.5a7.85 7.85 0 1 0 15.70 0a7.85 7.85 0 1 0 -15.70 0zM886.9 1102.3a7.85 7.85 0 1 0 15.70 0a7.85 7.85 0 1 0 -15.70 0zM891.0 1106.9a7.85 7.85 0 1 0 15.70 0a7.85 7.85 0 1 0 -15.70 0zM895.4 1103.7a7.85 7.85 0 1 0 15.70 0a7.85 7.85 0 1 0 -15.70 0zM898.2 1108.3a7.85 7.85 0 1 0 15.70 0a7.85 7.85 0 1 0 -15.70 0zM903.1 1106.7a7.85 7.85 0 1 0 15.70 0a7.85 7.85 0 1 0 -15.70 0zM905.9 1110.4a7.85 7.85 0 1 0 15.70 0a7.85 7.85 0 1 0 -15.70 0zM911.2 1110.3a7.85 7.85 0 1 0 15.70 0a7.85 7.85 0 1 0 -15.70 0zM913.5 1117.0a7.85 7.85 0 1 0 15.70 0a7.85 7.85 0 1 0 -15.70 0zM919.2 1118.0a7.85 7.85 0 1 0 15.70 0a7.85 7.85 0 1 0 -15.70 0zM921.0 1124.3a7.85 7.85 0 1 0 15.70 0a7.85 7.85 0 1 0 -15.70 0zM927.1 1125.2a7.85 7.85 0 1 0 15.70 0a7.85 7.85 0 1 0 -15.70 0zM928.8 1132.6a7.85 7.85 0 1 0 15.70 0a7.85 7.85 0 1 0 -15.70 0zM935.0 1138.2a7.85 7.85 0 1 0 15.70 0a7.85 7.85 0 1 0 -15.70 0zM936.5 1146.6a7.85 7.85 0 1 0 15.70 0a7.85 7.85 0 1 0 -15.70 0zM942.9 1150.5a7.85 7.85 0 1 0 15.70 0a7.85 7.85 0 1 0 -15.70 0zM944.4 1159.2a7.85 7.85 0 1 0 15.70 0a7.85 7.85 0 1 0 -15.70 0zM950.6 1164.8a7.85 7.85 0 1 0 15.70 0a7.85 7.85 0 1 0 -15.70 0zM952.1 1172.3a7.85 7.85 0 1 0 15.70 0a7.85 7.85 0 1 0 -15.70 0zM958.4 1178.5a7.85 7.85 0 1 0 15.70 0a7.85 7.85 0 1 0 -15.70 0zM959.9 1186.5a7.85 7.85 0 1 0 15.70 0a7.85 7.85 0 1 0 -15.70 0zM966.2 1191.4a7.85 7.85 0 1 0 15.70 0a7.85 7.85 0 1 0 -15.70 0zM967.8 1198.5a7.85 7.85 0 1 0 15.70 0a7.85 7.85 0 1 0 -15.70 0zM974.0 1203.3a7.85 7.85 0 1 0 15.70 0a7.85 7.85 0 1 0 -15.70 0zM975.5 1212.4a7.85 7.85 0 1 0 15.70 0a7.85 7.85 0 1 0 -15.70 0zM981.8 1215.6a7.85 7.85 0 1 0 15.70 0a7.85 7.85 0 1 0 -15.70 0zM983.4 1222.9a7.85 7.85 0 1 0 15.70 0a7.85 7.85 0 1 0 -15.70 0zM989.6 1226.7a7.85 7.85 0 1 0 15.70 0a7.85 7.85 0 1 0 -15.70 0zM991.1 1235.0a7.85 7.85 0 1 0 15.70 0a7.85 7.85 0 1 0 -15.70 0zM997.4 1238.2a7.85 7.85 0 1 0 15.70 0a7.85 7.85 0 1 0 -15.70 0zM999.0 1244.9a7.85 7.85 0 1 0 15.70 0a7.85 7.85 0 1 0 -15.70 0zM1005.1 1248.4a7.85 7.85 0 1 0 15.70 0a7.85 7.85 0 1 0 -15.70 0zM1006.9 1255.3a7.85 7.85 0 1 0 15.70 0a7.85 7.85 0 1 0 -15.70 0zM1012.9 1259.9a7.85 7.85 0 1 0 15.70 0a7.85 7.85 0 1 0 -15.70 0zM1014.6 1266.9a7.85 7.85 0 1 0 15.70 0a7.85 7.85 0 1 0 -15.70 0zM1020.7 1269.3a7.85 7.85 0 1 0 15.70 0a7.85 7.85 0 1 0 -15.70 0zM1022.4 1276.7a7.85 7.85 0 1 0 15.70 0a7.85 7.85 0 1 0 -15.70 0zM1028.7 1281.6a7.85 7.85 0 1 0 15.70 0a7.85 7.85 0 1 0 -15.70 0zM1030.2 1288.4a7.85 7.85 0 1 0 15.70 0a7.85 7.85 0 1 0 -15.70 0zM1036.0 1291.8a7.85 7.85 0 1 0 15.70 0a7.85 7.85 0 1 0 -15.70 0zM1039.8 1308.3a7.85 7.85 0 1 0 15.70 0a7.85 7.85 0 1 0 -15.70 0zM1043.7 1311.0a7.85 7.85 0 1 0 15.70 0a7.85 7.85 0 1 0 -15.70 0zM1048.7 1313.4a7.85 7.85 0 1 0 15.70 0a7.85 7.85 0 1 0 -15.70 0zM1051.7 1317.0a7.85 7.85 0 1 0 15.70 0a7.85 7.85 0 1 0 -15.70 0zM1055.1 1321.0a7.85 7.85 0 1 0 15.70 0a7.85 7.85 0 1 0 -15.70 0zM1058.2 1324.0a7.85 7.85 0 1 0 15.70 0a7.85 7.85 0 1 0 -15.70 0zM1061.5 1327.4a7.85 7.85 0 1 0 15.70 0a7.85 7.85 0 1 0 -15.70 0zM1064.7 1329.0a7.85 7.85 0 1 0 15.70 0a7.85 7.85 0 1 0 -15.70 0zM1067.8 1331.2a7.85 7.85 0 1 0 15.70 0a7.85 7.85 0 1 0 -15.70 0zM1072.9 1341.4a7.85 7.85 0 1 0 15.70 0a7.85 7.85 0 1 0 -15.70 0zM1075.4 1345.0a7.85 7.85 0 1 0 15.70 0a7.85 7.85 0 1 0 -15.70 0zM1078.0 1349.0a7.85 7.85 0 1 0 15.70 0a7.85 7.85 0 1 0 -15.70 0zM1083.1 1354.1a7.85 7.85 0 1 0 15.70 0a7.85 7.85 0 1 0 -15.70 0zM1086.2 1357.0a7.85 7.85 0 1 0 15.70 0a7.85 7.85 0 1 0 -15.70 0zM1089.4 1359.2a7.85 7.85 0 1 0 15.70 0a7.85 7.85 0 1 0 -15.70 0zM1093.2 1361.7a7.85 7.85 0 1 0 15.70 0a7.85 7.85 0 1 0 -15.70 0zM1097.1 1371.9a7.85 7.85 0 1 0 15.70 0a7.85 7.85 0 1 0 -15.70 0zM1100.9 1377.0a7.85 7.85 0 1 0 15.70 0a7.85 7.85 0 1 0 -15.70 0zM1105.2 1385.9a7.85 7.85 0 1 0 15.70 0a7.85 7.85 0 1 0 -15.70 0zM1107.7 1393.0a7.85 7.85 0 1 0 15.70 0a7.85 7.85 0 1 0 -15.70 0zM1110.4 1401.2a7.85 7.85 0 1 0 15.70 0a7.85 7.85 0 1 0 -15.70 0zM1114.9 1410.1a7.85 7.85 0 1 0 15.70 0a7.85 7.85 0 1 0 -15.70 0zM1120.0 1419.0a7.85 7.85 0 1 0 15.70 0a7.85 7.85 0 1 0 -15.70 0zM1125.0 1429.2a7.85 7.85 0 1 0 15.70 0a7.85 7.85 0 1 0 -15.70 0zM1128.2 1429.2a7.85 7.85 0 1 0 15.70 0a7.85 7.85 0 1 0 -15.70 0zM1131.4 1429.2a7.85 7.85 0 1 0 15.70 0a7.85 7.85 0 1 0 -15.70 0zM1136.8 1442.7a7.85 7.85 0 1 0 15.70 0a7.85 7.85 0 1 0 -15.70 0zM1140.6 1456.7a7.85 7.85 0 1 0 15.70 0a7.85 7.85 0 1 0 -15.70 0zM1144.5 1463.1a7.85 7.85 0 1 0 15.70 0a7.85 7.85 0 1 0 -15.70 0zM1147.6 1466.9a7.85 7.85 0 1 0 15.70 0a7.85 7.85 0 1 0 -15.70 0zM1151.5 1472.0a7.85 7.85 0 1 0 15.70 0a7.85 7.85 0 1 0 -15.70 0zM1155.9 1490.4a7.85 7.85 0 1 0 15.70 0a7.85 7.85 0 1 0 -15.70 0zM1160.4 1496.1a7.85 7.85 0 1 0 15.70 0a7.85 7.85 0 1 0 -15.70 0zM1164.2 1497.4a7.85 7.85 0 1 0 15.70 0a7.85 7.85 0 1 0 -15.70 0zM1167.4 1505.0a7.85 7.85 0 1 0 15.70 0a7.85 7.85 0 1 0 -15.70 0zM1170.5 1511.4a7.85 7.85 0 1 0 15.70 0a7.85 7.85 0 1 0 -15.70 0zM1174.2 1522.8a7.85 7.85 0 1 0 15.70 0a7.85 7.85 0 1 0 -15.70 0zM1178.7 1545.4a7.85 7.85 0 1 0 15.70 0a7.85 7.85 0 1 0 -15.70 0zM1180.7 1545.4a7.85 7.85 0 1 0 15.70 0a7.85 7.85 0 1 0 -15.70 0zM1182.7 1545.4a7.85 7.85 0 1 0 15.70 0a7.85 7.85 0 1 0 -15.70 0zM1187.1 1522.2a7.85 7.85 0 1 0 15.70 0a7.85 7.85 0 1 0 -15.70 0zM1190.7 1522.2a7.85 7.85 0 1 0 15.70 0a7.85 7.85 0 1 0 -15.70 0zM1194.2 1522.2a7.85 7.85 0 1 0 15.70 0a7.85 7.85 0 1 0 -15.70 0zM1197.7 1522.2a7.85 7.85 0 1 0 15.70 0a7.85 7.85 0 1 0 -15.70 0zM1201.2 1522.2a7.85 7.85 0 1 0 15.70 0a7.85 7.85 0 1 0 -15.70 0zM1204.7 1522.2a7.85 7.85 0 1 0 15.70 0a7.85 7.85 0 1 0 -15.70 0zM1208.7 1522.2a7.85 7.85 0 1 0 15.70 0a7.85 7.85 0 1 0 -15.70 0zM1213.1 1533.0a7.85 7.85 0 1 0 15.70 0a7.85 7.85 0 1 0 -15.70 0zM1216.2 1545.4a7.85 7.85 0 1 0 15.70 0a7.85 7.85 0 1 0 -15.70 0zM1219.9 1561.0a7.85 7.85 0 1 0 15.70 0a7.85 7.85 0 1 0 -15.70 0zM1224.0 1561.0a7.85 7.85 0 1 0 15.70 0a7.85 7.85 0 1 0 -15.70 0zM1228.2 1561.0a7.85 7.85 0 1 0 15.70 0a7.85 7.85 0 1 0 -15.70 0zM1232.4 1561.0a7.85 7.85 0 1 0 15.70 0a7.85 7.85 0 1 0 -15.70 0zM1235.2 1609.2a7.85 7.85 0 1 0 15.70 0a7.85 7.85 0 1 0 -15.70 0zM1237.5 1609.2a7.85 7.85 0 1 0 15.70 0a7.85 7.85 0 1 0 -15.70 0zM1239.9 1609.2a7.85 7.85 0 1 0 15.70 0a7.85 7.85 0 1 0 -15.70 0zM1242.8 1645.9a7.85 7.85 0 1 0 15.70 0a7.85 7.85 0 1 0 -15.70 0zM1246.6 1631.1a7.85 7.85 0 1 0 15.70 0a7.85 7.85 0 1 0 -15.70 0z" fill="none" stroke="#f00" stroke-width="2.35"/>
<g clip-path="url(#clip1)">
<path d="M588.78 1679.84 L590.28 1674.30 L591.77 1668.78 L593.26 1663.30 L594.75 1657.84 L596.24 1652.41 L597.73 1647.00 L599.22 1641.63 L600.72 1636.28 L602.21 1630.96 L603.70 1625.67 L605.19 1620.40 L606.68 1615.17 L608.17 1609.96 L609.66 1604.78 L611.16 1599.62 L612.65 1594.50 L614.14 1589.40 L615.63 1584.33 L617.12 1579.29 L618.61 1574.27 L620.10 1569.29 L621.60 1564.33 L623.09 1559.40 L624.58 1554.49 L626.07 1549.62 L627.56 1544.77 L629.05 1539.95 L630.54 1535.16 L632.03 1530.39 L633.53 1525.66 L635.02 1520.95 L636.51 1516.27 L638.00 1511.61 L639.49 1506.99 L640.98 1502.39 L642.47 1497.82 L643.97 1493.28 L645.46 1488.76 L646.95 1484.28 L648.44 1479.82 L649.93 1475.39 L651.42 1470.98 L652.91 1466.61 L654.41 1462.26 L655.90 1457.94 L657.39 1453.65 L658.88 1449.38 L660.37 1445.15 L661.86 1440.94 L663.35 1436.76 L664.85 1432.60 L666.34 1428.48 L667.83 1424.38 L669.32 1420.31 L670.81 1416.27 L672.30 1412.26 L673.79 1408.27 L675.28 1404.31 L676.78 1400.38 L678.27 1396.48 L679.76 1392.60 L681.25 1388.75 L682.74 1384.93 L684.23 1381.14 L685.72 1377.38 L687.22 1373.64 L688.71 1369.93 L690.20 1366.25 L691.69 1362.60 L693.18 1358.97 L694.67 1355.37 L696.16 1351.80 L697.66 1348.26 L699.15 1344.75 L700.64 1341.26 L702.13 1337.80 L703.62 1334.37 L705.11 1330.97 L706.60 1327.59 L708.10 1324.25 L709.59 1320.93 L711.08 1317.63 L712.57 1314.37 L714.06 1311.13 L715.55 1307.92 L717.04 1304.74 L718.53 1301.59 L720.03 1298.46 L721.52 1295.37 L723.01 1292.30 L724.50 1289.26 L725.99 1286.24 L727.48 1283.25 L728.97 1280.30 L730.47 1277.36 L731.96 1274.46 L733.45 1271.59 L734.94 1268.74 L736.43 1265.92 L737.92 1263.13 L739.41 1260.36 L740.91 1257.63 L742.40 1254.92 L743.89 1252.24 L745.38 1249.58 L746.87 1246.96 L748.36 1244.36 L749.85 1241.79 L751.34 1239.25 L752.84 1236.74 L754.33 1234.25 L755.82 1231.79 L757.31 1229.36 L758.80 1226.96 L760.29 1224.58 L761.78 1222.23 L763.28 1219.91 L764.77 1217.62 L766.26 1215.36 L767.75 1213.12 L769.24 1210.91 L770.73 1208.73 L772.22 1206.58 L773.72 1204.45 L775.21 1202.36 L776.70 1200.29 L778.19 1198.24 L779.68 1196.23 L781.17 1194.24 L782.66 1192.29 L784.16 1190.36 L785.65 1188.45 L787.14 1186.58 L788.63 1184.73 L790.12 1182.91 L791.61 1181.12 L793.10 1179.35 L794.59 1177.62 L796.09 1175.91 L797.58 1174.23 L799.07 1172.58 L800.56 1170.95 L802.05 1169.35 L803.54 1167.78 L805.03 1166.24 L806.53 1164.73 L808.02 1163.24 L809.51 1161.78 L811.00 1160.35 L812.49 1158.95 L813.98 1157.57 L815.47 1156.23 L816.97 1154.91 L818.46 1153.61 L819.95 1152.35 L821.44 1151.11 L822.93 1149.91 L824.42 1148.73 L825.91 1147.57 L827.40 1146.45 L828.90 1145.35 L830.39 1144.28 L831.88 1143.24 L833.37 1142.22 L834.86 1141.24 L836.35 1140.28 L837.84 1139.35 L839.34 1138.45 L840.83 1137.57 L842.32 1136.72 L843.81 1135.90 L845.30 1135.11 L846.79 1134.35 L848.28 1133.61 L849.78 1132.90 L851.27 1132.22 L852.76 1131.57 L854.25 1130.95 L855.74 1130.35 L857.23 1129.78 L858.72 1129.24 L860.22 1128.72 L861.71 1128.24 L863.20 1127.78 L864.69 1127.35 L866.18 1126.94 L867.67 1126.57 L869.16 1126.22 L870.65 1125.90 L872.15 1125.61 L873.64 1125.35 L875.13 1125.11 L876.62 1124.90 L878.11 1124.72 L879.60 1124.57 L881.09 1124.44 L882.59 1124.35 L884.08 1124.28 L885.57 1124.24 L887.06 1124.22 L888.55 1124.24 L890.04 1124.28 L891.53 1124.35 L893.03 1124.44 L894.52 1124.57 L896.01 1124.72 L897.50 1124.90 L898.99 1125.11 L900.48 1125.35 L901.97 1125.61 L903.47 1125.90 L904.96 1126.22 L906.45 1126.57 L907.94 1126.94 L909.43 1127.35 L910.92 1127.78 L912.41 1128.24 L913.90 1128.72 L915.40 1129.24 L916.89 1129.78 L918.38 1130.35 L919.87 1130.95 L921.36 1131.57 L922.85 1132.22 L924.34 1132.90 L925.84 1133.61 L927.33 1134.35 L928.82 1135.11 L930.31 1135.90 L931.80 1136.72 L933.29 1137.57 L934.78 1138.45 L936.28 1139.35 L937.77 1140.28 L939.26 1141.24 L940.75 1142.22 L942.24 1143.24 L943.73 1144.28 L945.22 1145.35 L946.71 1146.45 L948.21 1147.57 L949.70 1148.73 L951.19 1149.91 L952.68 1151.11 L954.17 1152.35 L955.66 1153.61 L957.15 1154.91 L958.65 1156.23 L960.14 1157.57 L961.63 1158.95 L963.12 1160.35 L964.61 1161.78 L966.10 1163.24 L967.59 1164.73 L969.09 1166.24 L970.58 1167.78 L972.07 1169.35 L973.56 1170.95 L975.05 1172.58 L976.54 1174.23 L978.03 1175.91 L979.53 1177.62 L981.02 1179.35 L982.51 1181.12 L984.00 1182.91 L985.49 1184.73 L986.98 1186.58 L988.47 1188.45 L989.96 1190.36 L991.46 1192.29 L992.95 1194.24 L994.44 1196.23 L995.93 1198.24 L997.42 1200.29 L998.91 1202.36 L1000.40 1204.45 L1001.90 1206.58 L1003.39 1208.73 L1004.88 1210.91 L1006.37 1213.12 L1007.86 1215.36 L1009.35 1217.62 L1010.84 1219.91 L1012.34 1222.23 L1013.83 1224.58 L1015.32 1226.96 L1016.81 1229.36 L1018.30 1231.79 L1019.79 1234.25 L1021.28 1236.74 L1022.78 1239.25 L1024.27 1241.79 L1025.76 1244.36 L1027.25 1246.96 L1028.74 1249.58 L1030.23 1252.24 L1031.72 1254.92 L1033.21 1257.63 L1034.71 1260.36 L1036.20 1263.13 L1037.69 1265.92 L1039.18 1268.74 L1040.67 1271.59 L1042.16 1274.46 L1043.65 1277.36 L1045.15 1280.30 L1046.64 1283.25 L1048.13 1286.24 L1049.62 1289.26 L1051.11 1292.30 L1052.60 1295.37 L1054.09 1298.46 L1055.59 1301.59 L1057.08 1304.74 L1058.57 1307.92 L1060.06 1311.13 L1061.55 1314.37 L1063.04 1317.63 L1064.53 1320.93 L1066.02 1324.25 L1067.52 1327.59 L1069.01 1330.97 L1070.50 1334.37 L1071.99 1337.80 L1073.48 1341.26 L1074.97 1344.75 L1076.46 1348.26 L1077.96 1351.80 L1079.45 1355.37 L1080.94 1358.97 L1082.43 1362.60 L1083.92 1366.25 L1085.41 1369.93 L1086.90 1373.64 L1088.40 1377.38 L1089.89 1381.14 L1091.38 1384.93 L1092.87 1388.75 L1094.36 1392.60 L1095.85 1396.48 L1097.34 1400.38 L1098.84 1404.31 L1100.33 1408.27 L1101.82 1412.26 L1103.31 1416.27 L1104.80 1420.31 L1106.29 1424.38 L1107.78 1428.48 L1109.27 1432.60 L1110.77 1436.76 L1112.26 1440.94 L1113.75 1445.15 L1115.24 1449.38 L1116.73 1453.65 L1118.22 1457.94 L1119.71 1462.26 L1121.21 1466.61 L1122.70 1470.98 L1124.19 1475.39 L1125.68 1479.82 L1127.17 1484.28 L1128.66 1488.76 L1130.15 1493.28 L1131.65 1497.82 L1133.14 1502.39 L1134.63 1506.99 L1136.12 1511.61 L1137.61 1516.27 L1139.10 1520.95 L1140.59 1525.66 L1142.09 1530.39 L1143.58 1535.16 L1145.07 1539.95 L1146.56 1544.77 L1148.05 1549.62 L1149.54 1554.49 L1151.03 1559.40 L1152.52 1564.33 L1154.02 1569.29 L1155.51 1574.27 L1157.00 1579.29 L1158.49 1584.33 L1159.98 1589.40 L1161.47 1594.50 L1162.96 1599.62 L1164.46 1604.78 L1165.95 1609.96 L1167.44 1615.17 L1168.93 1620.40 L1170.42 1625.67 L1171.91 1630.96 L1173.40 1636.28 L1174.90 1641.63 L1176.39 1647.00 L1177.88 1652.41 L1179.37 1657.84 L1180.86 1663.30 L1182.35 1668.78 L1183.84 1674.30 L1185.34 1679.84" fill="none" stroke="#000" stroke-width="7.00" stroke-dasharray="21.4 5.32 5.33 5.32"/>
<path d="M588.78 1999.68 L590.28 1994.14 L591.77 1988.62 L593.26 1983.14 L594.75 1977.68 L596.24 1972.25 L597.73 1966.84 L599.22 1961.47 L600.72 1956.12 L602.21 1950.80 L603.70 1945.51 L605.19 1940.24 L606.68 1935.01 L608.17 1929.80 L609.66 1924.62 L611.16 1919.46 L612.65 1914.34 L614.14 1909.24 L615.63 1904.17 L617.12 1899.13 L618.61 1894.11 L620.10 1889.13 L621.60 1884.17 L623.09 1879.24 L624.58 1874.33 L626.07 1869.46 L627.56 1864.61 L629.05 1859.79 L630.54 1855.00 L632.03 1850.23 L633.53 1845.50 L635.02 1840.79 L636.51 1836.11 L638.00 1831.45 L639.49 1826.83 L640.98 1822.23 L642.47 1817.66 L643.97 1813.12 L645.46 1808.60 L646.95 1804.12 L648.44 1799.66 L649.93 1795.23 L651.42 1790.82 L652.91 1786.45 L654.41 1782.10 L655.90 1777.78 L657.39 1773.49 L658.88 1769.22 L660.37 1764.99 L661.86 1760.78 L663.35 1756.60 L664.85 1752.44 L666.34 1748.32 L667.83 1744.22 L669.32 1740.15 L670.81 1736.11 L672.30 1732.10 L673.79 1728.11 L675.28 1724.15 L676.78 1720.22 L678.27 1716.32 L679.76 1712.44 L681.25 1708.59 L682.74 1704.77 L684.23 1700.98 L685.72 1697.22 L687.22 1693.48 L688.71 1689.77 L690.20 1686.09 L691.69 1682.44 L693.18 1678.81 L694.67 1675.21 L696.16 1671.64 L697.66 1668.10 L699.15 1664.59 L700.64 1661.10 L702.13 1657.64 L703.62 1654.21 L705.11 1650.81 L706.60 1647.43 L708.10 1644.09 L709.59 1640.77 L711.08 1637.47 L712.57 1634.21 L714.06 1630.97 L715.55 1627.76 L717.04 1624.58 L718.53 1621.43 L720.03 1618.30 L721.52 1615.21 L723.01 1612.14 L724.50 1609.10 L725.99 1606.08 L727.48 1603.09 L728.97 1600.14 L730.47 1597.20 L731.96 1594.30 L733.45 1591.43 L734.94 1588.58 L736.43 1585.76 L737.92 1582.97 L739.41 1580.20 L740.91 1577.47 L742.40 1574.76 L743.89 1572.08 L745.38 1569.42 L746.87 1566.80 L748.36 1564.20 L749.85 1561.63 L751.34 1559.09 L752.84 1556.58 L754.33 1554.09 L755.82 1551.63 L757.31 1549.20 L758.80 1546.80 L760.29 1544.42 L761.78 1542.07 L763.28 1539.75 L764.77 1537.46 L766.26 1535.20 L767.75 1532.96 L769.24 1530.75 L770.73 1528.57 L772.22 1526.42 L773.72 1524.29 L775.21 1522.20 L776.70 1520.13 L778.19 1518.08 L779.68 1516.07 L781.17 1514.08 L782.66 1512.13 L784.16 1510.20 L785.65 1508.29 L787.14 1506.42 L788.63 1504.57 L790.12 1502.75 L791.61 1500.96 L793.10 1499.19 L794.59 1497.46 L796.09 1495.75 L797.58 1494.07 L799.07 1492.42 L800.56 1490.79 L802.05 1489.19 L803.54 1487.62 L805.03 1486.08 L806.53 1484.57 L808.02 1483.08 L809.51 1481.62 L811.00 1480.19 L812.49 1478.79 L813.98 1477.41 L815.47 1476.07 L816.97 1474.75 L818.46 1473.45 L819.95 1472.19 L821.44 1470.95 L822.93 1469.75 L824.42 1468.57 L825.91 1467.41 L827.40 1466.29 L828.90 1465.19 L830.39 1464.12 L831.88 1463.08 L833.37 1462.06 L834.86 1461.08 L836.35 1460.12 L837.84 1459.19 L839.34 1458.29 L840.83 1457.41 L842.32 1456.56 L843.81 1455.74 L845.30 1454.95 L846.79 1454.19 L848.28 1453.45 L849.78 1452.74 L851.27 1452.06 L852.76 1451.41 L854.25 1450.79 L855.74 1450.19 L857.23 1449.62 L858.72 1449.08 L860.22 1448.56 L861.71 1448.08 L863.20 1447.62 L864.69 1447.19 L866.18 1446.78 L867.67 1446.41 L869.16 1446.06 L870.65 1445.74 L872.15 1445.45 L873.64 1445.19 L875.13 1444.95 L876.62 1444.74 L878.11 1444.56 L879.60 1444.41 L881.09 1444.28 L882.59 1444.19 L884.08 1444.12 L885.57 1444.08 L887.06 1444.06 L888.55 1444.08 L890.04 1444.12 L891.53 1444.19 L893.03 1444.28 L894.52 1444.41 L896.01 1444.56 L897.50 1444.74 L898.99 1444.95 L900.48 1445.19 L901.97 1445.45 L903.47 1445.74 L904.96 1446.06 L906.45 1446.41 L907.94 1446.78 L909.43 1447.19 L910.92 1447.62 L912.41 1448.08 L913.90 1448.56 L915.40 1449.08 L916.89 1449.62 L918.38 1450.19 L919.87 1450.79 L921.36 1451.41 L922.85 1452.06 L924.34 1452.74 L925.84 1453.45 L927.33 1454.19 L928.82 1454.95 L930.31 1455.74 L931.80 1456.56 L933.29 1457.41 L934.78 1458.29 L936.28 1459.19 L937.77 1460.12 L939.26 1461.08 L940.75 1462.06 L942.24 1463.08 L943.73 1464.12 L945.22 1465.19 L946.71 1466.29 L948.21 1467.41 L949.70 1468.57 L951.19 1469.75 L952.68 1470.95 L954.17 1472.19 L955.66 1473.45 L957.15 1474.75 L958.65 1476.07 L960.14 1477.41 L961.63 1478.79 L963.12 1480.19 L964.61 1481.62 L966.10 1483.08 L967.59 1484.57 L969.09 1486.08 L970.58 1487.62 L972.07 1489.19 L973.56 1490.79 L975.05 1492.42 L976.54 1494.07 L978.03 1495.75 L979.53 1497.46 L981.02 1499.19 L982.51 1500.96 L984.00 1502.75 L985.49 1504.57 L986.98 1506.42 L988.47 1508.29 L989.96 1510.20 L991.46 1512.13 L992.95 1514.08 L994.44 1516.07 L995.93 1518.08 L997.42 1520.13 L998.91 1522.20 L1000.40 1524.29 L1001.90 1526.42 L1003.39 1528.57 L1004.88 1530.75 L1006.37 1532.96 L1007.86 1535.20 L1009.35 1537.46 L1010.84 1539.75 L1012.34 1542.07 L1013.83 1544.42 L1015.32 1546.80 L1016.81 1549.20 L1018.30 1551.63 L1019.79 1554.09 L1021.28 1556.58 L1022.78 1559.09 L1024.27 1561.63 L1025.76 1564.20 L1027.25 1566.80 L1028.74 1569.42 L1030.23 1572.08 L1031.72 1574.76 L1033.21 1577.47 L1034.71 1580.20 L1036.20 1582.97 L1037.69 1585.76 L1039.18 1588.58 L1040.67 1591.43 L1042.16 1594.30 L1043.65 1597.20 L1045.15 1600.14 L1046.64 1603.09 L1048.13 1606.08 L1049.62 1609.10 L1051.11 1612.14 L1052.60 1615.21 L1054.09 1618.30 L1055.59 1621.43 L1057.08 1624.58 L1058.57 1627.76 L1060.06 1630.97 L1061.55 1634.21 L1063.04 1637.47 L1064.53 1640.77 L1066.02 1644.09 L1067.52 1647.43 L1069.01 1650.81 L1070.50 1654.21 L1071.99 1657.64 L1073.48 1661.10 L1074.97 1664.59 L1076.46 1668.10 L1077.96 1671.64 L1079.45 1675.21 L1080.94 1678.81 L1082.43 1682.44 L1083.92 1686.09 L1085.41 1689.77 L1086.90 1693.48 L1088.40 1697.22 L1089.89 1700.98 L1091.38 1704.77 L1092.87 1708.59 L1094.36 1712.44 L1095.85 1716.32 L1097.34 1720.22 L1098.84 1724.15 L1100.33 1728.11 L1101.82 1732.10 L1103.31 1736.11 L1104.80 1740.15 L1106.29 1744.22 L1107.78 1748.32 L1109.27 1752.44 L1110.77 1756.60 L1112.26 1760.78 L1113.75 1764.99 L1115.24 1769.22 L1116.73 1773.49 L1118.22 1777.78 L1119.71 1782.10 L1121.21 1786.45 L1122.70 1790.82 L1124.19 1795.23 L1125.68 1799.66 L1127.17 1804.12 L1128.66 1808.60 L1130.15 1813.12 L1131.65 1817.66 L1133.14 1822.23 L1134.63 1826.83 L1136.12 1831.45 L1137.61 1836.11 L1139.10 1840.79 L1140.59 1845.50 L1142.09 1850.23 L1143.58 1855.00 L1145.07 1859.79 L1146.56 1864.61 L1148.05 1869.46 L1149.54 1874.33 L1151.03 1879.24 L1152.52 1884.17 L1154.02 1889.13 L1155.51 1894.11 L1157.00 1899.13 L1158.49 1904.17 L1159.98 1909.24 L1161.47 1914.34 L1162.96 1919.46 L1164.46 1924.62 L1165.95 1929.80 L1167.44 1935.01 L1168.93 1940.24 L1170.42 1945.51 L1171.91 1950.80 L1173.40 1956.12 L1174.90 1961.47 L1176.39 1966.84 L1177.88 1972.25 L1179.37 1977.68 L1180.86 1983.14 L1182.35 1988.62 L1183.84 1994.14 L1185.34 1999.68" fill="none" stroke="#000" stroke-width="7.00" stroke-dasharray="21.4 5.32 5.33 5.32" stroke-dashoffset="13.0"/>
</g>
<path d="M439.65 1908.00V1897.50M439.65 1012.40V1022.90M588.78 1908.00V1897.50M588.78 1012.40V1022.90M737.92 1908.00V1897.50M737.92 1012.40V1022.90M887.06 1908.00V1897.50M887.06 1012.40V1022.90M1036.20 1908.00V1897.50M1036.20 1012.40V1022.90M1185.34 1908.00V1897.50M1185.34 1012.40V1022.90M1334.47 1908.00V1897.50M1334.47 1012.40V1022.90M290.50 1908.14H295.70M1483.60 1908.14H1478.40M290.50 1895.48H295.70M1483.60 1895.48H1478.40M290.50 1884.77H295.70M1483.60 1884.77H1478.40M290.50 1875.50H295.70M1483.60 1875.50H1478.40M290.50 1867.32H295.70M1483.60 1867.32H1478.40M290.50 1860.00H301.00M1483.60 1860.00H1473.10M290.50 1811.86H295.70M1483.60 1811.86H1478.40M290.50 1783.70H295.70M1483.60 1783.70H1478.40M290.50 1763.72H295.70M1483.60 1763.72H1478.40M290.50 1748.22H295.70M1483.60 1748.22H1478.40M290.50 1735.56H295.70M1483.60 1735.56H1478.40M290.50 1724.85H295.70M1483.60 1724.85H1478.40M290.50 1715.58H295.70M1483.60 1715.58H1478.40M290.50 1707.40H295.70M1483.60 1707.40H1478.40M290.50 1700.08H301.00M1483.60 1700.08H1473.10M290.50 1651.94H295.70M1483.60 1651.94H1478.40M290.50 1623.78H295.70M1483.60 1623.78H1478.40M290.50 1603.80H295.70M1483.60 1603.80H1478.40M290.50 1588.30H295.70M1483.60 1588.30H1478.40M290.50 1575.64H295.70M1483.60 1575.64H1478.40M290.50 1564.93H295.70M1483.60 1564.93H1478.40M290.50 1555.66H295.70M1483.60 1555.66H1478.40M290.50 1547.48H295.70M1483.60 1547.48H1478.40M290.50 1540.16H301.00M1483.60 1540.16H1473.10M290.50 1492.02H295.70M1483.60 1492.02H1478.40M290.50 1463.86H295.70M1483.60 1463.86H1478.40M290.50 1443.88H295.70M1483.60 1443.88H1478.40M290.50 1428.38H295.70M1483.60 1428.38H1478.40M290.50 1415.72H295.70M1483.60 1415.72H1478.40M290.50 1405.01H295.70M1483.60 1405.01H1478.40M290.50 1395.74H295.70M1483.60 1395.74H1478.40M290.50 1387.56H295.70M1483.60 1387.56H1478.40M290.50 1380.24H301.00M1483.60 1380.24H1473.10M290.50 1332.10H295.70M1483.60 1332.10H1478.40M290.50 1303.94H295.70M1483.60 1303.94H1478.40M290.50 1283.96H295.70M1483.60 1283.96H1478.40M290.50 1268.46H295.70M1483.60 1268.46H1478.40M290.50 1255.80H295.70M1483.60 1255.80H1478.40M290.50 1245.09H295.70M1483.60 1245.09H1478.40M290.50 1235.82H295.70M1483.60 1235.82H1478.40M290.50 1227.64H295.70M1483.60 1227.64H1478.40M290.50 1220.32H301.00M1483.60 1220.32H1473.10M290.50 1172.18H295.70M1483.60 1172.18H1478.40M290.50 1144.02H295.70M1483.60 1144.02H1478.40M290.50 1124.04H295.70M1483.60 1124.04H1478.40M290.50 1108.54H295.70M1483.60 1108.54H1478.40M290.50 1095.88H295.70M1483.60 1095.88H1478.40M290.50 1085.17H295.70M1483.60 1085.17H1478.40M290.50 1075.90H295.70M1483.60 1075.90H1478.40M290.50 1067.72H295.70M1483.60 1067.72H1478.40M290.50 1060.40H301.00M1483.60 1060.40H1473.10M290.50 1012.26H295.70M1483.60 1012.26H1478.40" stroke="#000" stroke-width="1.30" fill="none"/>
<rect x="290.50" y="1012.40" width="1193.10" height="895.60" fill="none" stroke="#000" stroke-width="2.50"/>
<text font-size="68.00" x="141.82" y="1890.20">1</text>
<text font-size="68.00" x="175.82" y="1890.20">0</text>
<text font-size="45.50" transform="scale(1.2847,1)" x="161.90" y="1869.01">−</text>
<text font-size="45.50" x="241.32" y="1865.40">3</text>
<text font-size="68.00" x="141.82" y="1730.28">1</text>
<text font-size="68.00" x="175.82" y="1730.28">0</text>
<text font-size="45.50" transform="scale(1.2847,1)" x="161.90" y="1709.09">−</text>
<text font-size="45.50" x="241.50" y="1705.48">2</text>
<text font-size="68.00" x="141.82" y="1570.36">1</text>
<text font-size="68.00" x="175.82" y="1570.36">0</text>
<text font-size="45.50" transform="scale(1.2847,1)" x="161.90" y="1549.17">−</text>
<text font-size="45.50" x="242.40" y="1545.56">1</text>
<text font-size="68.00" x="175.52" y="1410.44">1</text>
<text font-size="68.00" x="209.52" y="1410.44">0</text>
<text font-size="45.50" x="240.87" y="1385.64">0</text>
<text font-size="68.00" x="175.52" y="1250.52">1</text>
<text font-size="68.00" x="209.52" y="1250.52">0</text>
<text font-size="45.50" x="242.40" y="1225.72">1</text>
<text font-size="68.00" x="175.52" y="1090.60">1</text>
<text font-size="68.00" x="209.52" y="1090.60">0</text>
<text font-size="45.50" x="241.20" y="1065.80">2</text>
<text font-size="74.00" x="6.25" y="1060.30">(</text>
<text font-size="74.00" font-style="italic" x="31.15" y="1060.30">b</text>
<text font-size="74.00" x="73.32" y="1060.30">)</text>
<text font-size="76.00" font-style="italic" x="0.71" y="1496.20">P</text>
<text font-size="76.00" font-style="italic" transform="scale(1.0594,1)" x="38.70" y="1496.20">α</text>
<text font-size="76.00" font-style="italic" x="80.58" y="1496.20">′</text>
<path d="M486.2 2827.1h16.2v16.2h-16.2zM496.9 2874.8h16.2v16.2h-16.2zM502.2 2874.8h16.2v16.2h-16.2zM507.9 2874.8h16.2v16.2h-16.2zM513.3 2836.1h16.2v16.2h-16.2zM524.3 2818.6h16.2v16.2h-16.2zM529.4 2847.2h16.2v16.2h-16.2zM534.6 2847.2h16.2v16.2h-16.2zM540.9 2783.3h16.2v16.2h-16.2zM545.5 2793.4h16.2v16.2h-16.2zM550.8 2804.8h16.2v16.2h-16.2zM556.2 2789.1h16.2v16.2h-16.2zM561.8 2753.5h16.2v16.2h-16.2zM567.7 2783.3h16.2v16.2h-16.2zM574.0 2771.8h16.2v16.2h-16.2zM578.6 2779.5h16.2v16.2h-16.2zM584.2 2737.5h16.2v16.2h-16.2zM588.8 2770.5h16.2v16.2h-16.2zM594.4 2745.1h16.2v16.2h-16.2zM600.0 2743.8h16.2v16.2h-16.2zM605.8 2731.1h16.2v16.2h-16.2zM610.9 2718.4h16.2v16.2h-16.2zM616.0 2706.9h16.2v16.2h-16.2zM621.8 2686.6h16.2v16.2h-16.2zM626.9 2683.9h16.2v16.2h-16.2zM632.5 2676.4h16.2v16.2h-16.2zM637.6 2690.4h16.2v16.2h-16.2zM642.4 2675.9h16.2v16.2h-16.2zM647.8 2672.6h16.2v16.2h-16.2zM654.1 2647.2h16.2v16.2h-16.2zM658.9 2651.9h16.2v16.2h-16.2zM662.7 2651.6h16.2v16.2h-16.2zM667.7 2640.4h16.2v16.2h-16.2zM672.7 2631.9h16.2v16.2h-16.2zM677.7 2623.1h16.2v16.2h-16.2zM682.7 2616.4h16.2v16.2h-16.2zM687.7 2604.1h16.2v16.2h-16.2zM692.7 2599.3h16.2v16.2h-16.2zM697.7 2591.7h16.2v16.2h-16.2zM702.7 2586.8h16.2v16.2h-16.2zM707.7 2583.9h16.2v16.2h-16.2zM712.7 2573.1h16.2v16.2h-16.2zM717.7 2568.5h16.2v16.2h-16.2zM722.7 2566.2h16.2v16.2h-16.2zM727.7 2564.7h16.2v16.2h-16.2zM732.7 2563.3h16.2v16.2h-16.2zM737.7 2558.0h16.2v16.2h-16.2zM742.7 2552.9h16.2v16.2h-16.2zM747.7 2547.7h16.2v16.2h-16.2zM752.7 2543.0h16.2v16.2h-16.2zM757.7 2535.8h16.2v16.2h-16.2zM762.7 2528.7h16.2v16.2h-16.2zM767.7 2523.4h16.2v16.2h-16.2zM772.7 2518.4h16.2v16.2h-16.2zM777.7 2511.4h16.2v16.2h-16.2zM782.7 2505.1h16.2v16.2h-16.2zM787.7 2500.5h16.2v16.2h-16.2zM792.7 2499.0h16.2v16.2h-16.2zM797.7 2493.0h16.2v16.2h-16.2zM802.7 2486.6h16.2v16.2h-16.2zM807.7 2481.5h16.2v16.2h-16.2zM812.7 2474.7h16.2v16.2h-16.2zM817.7 2468.2h16.2v16.2h-16.2zM822.7 2461.7h16.2v16.2h-16.2zM827.7 2456.5h16.2v16.2h-16.2zM832.7 2450.7h16.2v16.2h-16.2zM837.7 2444.0h16.2v16.2h-16.2zM842.7 2439.8h16.2v16.2h-16.2zM847.7 2432.5h16.2v16.2h-16.2zM852.7 2427.7h16.2v16.2h-16.2zM857.9 2422.2h16.2v16.2h-16.2zM863.6 2387.9h16.2v16.2h-16.2zM868.6 2371.4h16.2v16.2h-16.2zM874.3 2365.0h16.2v16.2h-16.2zM880.4 2365.0h16.2v16.2h-16.2zM886.5 2365.0h16.2v16.2h-16.2zM890.1 2381.4h16.2v16.2h-16.2zM892.2 2371.4h16.2v16.2h-16.2zM895.8 2390.7h16.2v16.2h-16.2zM900.8 2400.7h16.2v16.2h-16.2zM906.5 2407.9h16.2v16.2h-16.2zM911.5 2412.2h16.2v16.2h-16.2zM917.2 2423.6h16.2v16.2h-16.2zM922.2 2434.2h16.2v16.2h-16.2zM927.2 2445.5h16.2v16.2h-16.2zM932.2 2453.5h16.2v16.2h-16.2zM937.2 2461.1h16.2v16.2h-16.2zM942.2 2467.2h16.2v16.2h-16.2zM947.2 2477.0h16.2v16.2h-16.2zM952.2 2481.3h16.2v16.2h-16.2zM957.2 2490.4h16.2v16.2h-16.2zM962.2 2497.7h16.2v16.2h-16.2zM967.2 2505.1h16.2v16.2h-16.2zM972.2 2510.2h16.2v16.2h-16.2zM977.2 2517.9h16.2v16.2h-16.2zM982.2 2527.2h16.2v16.2h-16.2zM987.2 2533.1h16.2v16.2h-16.2zM992.2 2538.8h16.2v16.2h-16.2zM997.2 2545.0h16.2v16.2h-16.2zM1002.2 2546.6h16.2v16.2h-16.2zM1007.2 2555.3h16.2v16.2h-16.2zM1012.2 2562.2h16.2v16.2h-16.2zM1017.2 2566.9h16.2v16.2h-16.2zM1022.2 2573.5h16.2v16.2h-16.2zM1027.2 2581.6h16.2v16.2h-16.2zM1032.2 2589.1h16.2v16.2h-16.2zM1037.2 2591.5h16.2v16.2h-16.2zM1042.2 2598.0h16.2v16.2h-16.2zM1047.2 2603.6h16.2v16.2h-16.2zM1052.2 2612.7h16.2v16.2h-16.2zM1057.2 2616.5h16.2v16.2h-16.2zM1062.2 2622.0h16.2v16.2h-16.2zM1067.2 2628.7h16.2v16.2h-16.2zM1072.2 2635.4h16.2v16.2h-16.2zM1077.2 2640.0h16.2v16.2h-16.2zM1082.2 2645.6h16.2v16.2h-16.2zM1087.2 2653.7h16.2v16.2h-16.2zM1092.2 2657.0h16.2v16.2h-16.2zM1097.2 2660.1h16.2v16.2h-16.2zM1102.2 2660.6h16.2v16.2h-16.2zM1111.7 2690.7h16.2v16.2h-16.2zM1115.5 2674.2h16.2v16.2h-16.2zM1121.8 2690.7h16.2v16.2h-16.2zM1126.9 2696.9h16.2v16.2h-16.2zM1132.6 2706.6h16.2v16.2h-16.2zM1138.4 2701.6h16.2v16.2h-16.2zM1143.5 2742.9h16.2v16.2h-16.2zM1149.8 2713.6h16.2v16.2h-16.2zM1156.8 2742.9h16.2v16.2h-16.2zM1160.0 2751.8h16.2v16.2h-16.2zM1165.7 2735.3h16.2v16.2h-16.2zM1170.2 2760.1h16.2v16.2h-16.2zM1177.2 2767.7h16.2v16.2h-16.2zM1181.9 2767.7h16.2v16.2h-16.2zM1187.3 2767.7h16.2v16.2h-16.2zM1193.7 2777.9h16.2v16.2h-16.2zM1197.5 2760.1h16.2v16.2h-16.2zM1203.2 2756.2h16.2v16.2h-16.2zM1208.3 2798.5h16.2v16.2h-16.2zM1213.6 2804.5h16.2v16.2h-16.2zM1218.8 2804.5h16.2v16.2h-16.2zM1224.1 2810.7h16.2v16.2h-16.2zM1235.0 2826.9h16.2v16.2h-16.2zM1240.3 2798.5h16.2v16.2h-16.2zM1246.5 2859.4h16.2v16.2h-16.2zM1250.2 2859.4h16.2v16.2h-16.2zM1253.9 2859.4h16.2v16.2h-16.2zM1257.6 2859.4h16.2v16.2h-16.2zM1262.2 2826.9h16.2v16.2h-16.2zM1273.2 2875.1h16.2v16.2h-16.2z" fill="none" stroke="#00f" stroke-width="2.30" stroke-linejoin="round"/>
<path d="M616.4 2839.1a7.85 7.85 0 1 0 15.70 0a7.85 7.85 0 1 0 -15.70 0zM620.1 2791.5a7.85 7.85 0 1 0 15.70 0a7.85 7.85 0 1 0 -15.70 0zM623.4 2791.5a7.85 7.85 0 1 0 15.70 0a7.85 7.85 0 1 0 -15.70 0zM626.5 2791.5a7.85 7.85 0 1 0 15.70 0a7.85 7.85 0 1 0 -15.70 0zM627.9 2763.5a7.85 7.85 0 1 0 15.70 0a7.85 7.85 0 1 0 -15.70 0zM630.9 2763.5a7.85 7.85 0 1 0 15.70 0a7.85 7.85 0 1 0 -15.70 0zM634.1 2763.5a7.85 7.85 0 1 0 15.70 0a7.85 7.85 0 1 0 -15.70 0zM639.2 2743.2a7.85 7.85 0 1 0 15.70 0a7.85 7.85 0 1 0 -15.70 0zM644.4 2726.6a7.85 7.85 0 1 0 15.70 0a7.85 7.85 0 1 0 -15.70 0zM647.9 2714.4a7.85 7.85 0 1 0 15.70 0a7.85 7.85 0 1 0 -15.70 0zM650.0 2694.4a7.85 7.85 0 1 0 15.70 0a7.85 7.85 0 1 0 -15.70 0zM652.1 2704.4a7.85 7.85 0 1 0 15.70 0a7.85 7.85 0 1 0 -15.70 0zM655.6 2703.0a7.85 7.85 0 1 0 15.70 0a7.85 7.85 0 1 0 -15.70 0zM659.4 2702.2a7.85 7.85 0 1 0 15.70 0a7.85 7.85 0 1 0 -15.70 0zM665.0 2685.8a7.85 7.85 0 1 0 15.70 0a7.85 7.85 0 1 0 -15.70 0zM666.4 2704.4a7.85 7.85 0 1 0 15.70 0a7.85 7.85 0 1 0 -15.70 0zM669.1 2690.0a7.85 7.85 0 1 0 15.70 0a7.85 7.85 0 1 0 -15.70 0zM672.2 2687.2a7.85 7.85 0 1 0 15.70 0a7.85 7.85 0 1 0 -15.70 0zM676.5 2678.6a7.85 7.85 0 1 0 15.70 0a7.85 7.85 0 1 0 -15.70 0zM681.5 2680.0a7.85 7.85 0 1 0 15.70 0a7.85 7.85 0 1 0 -15.70 0zM685.1 2676.0a7.85 7.85 0 1 0 15.70 0a7.85 7.85 0 1 0 -15.70 0zM688.6 2673.6a7.85 7.85 0 1 0 15.70 0a7.85 7.85 0 1 0 -15.70 0zM691.1 2665.0a7.85 7.85 0 1 0 15.70 0a7.85 7.85 0 1 0 -15.70 0zM693.6 2657.9a7.85 7.85 0 1 0 15.70 0a7.85 7.85 0 1 0 -15.70 0zM696.5 2650.7a7.85 7.85 0 1 0 15.70 0a7.85 7.85 0 1 0 -15.70 0zM699.4 2628.1a7.85 7.85 0 1 0 15.70 0a7.85 7.85 0 1 0 -15.70 0zM702.1 2624.0a7.85 7.85 0 1 0 15.70 0a7.85 7.85 0 1 0 -15.70 0zM704.9 2620.0a7.85 7.85 0 1 0 15.70 0a7.85 7.85 0 1 0 -15.70 0zM707.5 2614.5a7.85 7.85 0 1 0 15.70 0a7.85 7.85 0 1 0 -15.70 0zM710.2 2609.2a7.85 7.85 0 1 0 15.70 0a7.85 7.85 0 1 0 -15.70 0zM713.6 2604.5a7.85 7.85 0 1 0 15.70 0a7.85 7.85 0 1 0 -15.70 0zM717.0 2599.7a7.85 7.85 0 1 0 15.70 0a7.85 7.85 0 1 0 -15.70 0zM721.0 2591.6a7.85 7.85 0 1 0 15.70 0a7.85 7.85 0 1 0 -15.70 0zM725.1 2576.8a7.85 7.85 0 1 0 15.70 0a7.85 7.85 0 1 0 -15.70 0zM728.4 2572.7a7.85 7.85 0 1 0 15.70 0a7.85 7.85 0 1 0 -15.70 0zM731.9 2568.6a7.85 7.85 0 1 0 15.70 0a7.85 7.85 0 1 0 -15.70 0zM733.2 2559.2a7.85 7.85 0 1 0 15.70 0a7.85 7.85 0 1 0 -15.70 0zM735.9 2554.0a7.85 7.85 0 1 0 15.70 0a7.85 7.85 0 1 0 -15.70 0zM738.6 2548.4a7.85 7.85 0 1 0 15.70 0a7.85 7.85 0 1 0 -15.70 0zM741.4 2536.2a7.85 7.85 0 1 0 15.70 0a7.85 7.85 0 1 0 -15.70 0zM744.1 2531.0a7.85 7.85 0 1 0 15.70 0a7.85 7.85 0 1 0 -15.70 0zM746.8 2525.4a7.85 7.85 0 1 0 15.70 0a7.85 7.85 0 1 0 -15.70 0zM750.1 2519.0a7.85 7.85 0 1 0 15.70 0a7.85 7.85 0 1 0 -15.70 0zM753.5 2513.2a7.85 7.85 0 1 0 15.70 0a7.85 7.85 0 1 0 -15.70 0zM754.4 2513.9a7.85 7.85 0 1 0 15.70 0a7.85 7.85 0 1 0 -15.70 0zM755.9 2508.8a7.85 7.85 0 1 0 15.70 0a7.85 7.85 0 1 0 -15.70 0zM761.6 2505.4a7.85 7.85 0 1 0 15.70 0a7.85 7.85 0 1 0 -15.70 0zM762.9 2499.4a7.85 7.85 0 1 0 15.70 0a7.85 7.85 0 1 0 -15.70 0zM768.6 2499.5a7.85 7.85 0 1 0 15.70 0a7.85 7.85 0 1 0 -15.70 0zM769.9 2493.3a7.85 7.85 0 1 0 15.70 0a7.85 7.85 0 1 0 -15.70 0zM775.6 2491.6a7.85 7.85 0 1 0 15.70 0a7.85 7.85 0 1 0 -15.70 0zM776.9 2486.3a7.85 7.85 0 1 0 15.70 0a7.85 7.85 0 1 0 -15.70 0zM782.6 2485.3a7.85 7.85 0 1 0 15.70 0a7.85 7.85 0 1 0 -15.70 0zM784.0 2478.6a7.85 7.85 0 1 0 15.70 0a7.85 7.85 0 1 0 -15.70 0zM789.5 2478.3a7.85 7.85 0 1 0 15.70 0a7.85 7.85 0 1 0 -15.70 0zM790.9 2473.0a7.85 7.85 0 1 0 15.70 0a7.85 7.85 0 1 0 -15.70 0zM796.8 2470.7a7.85 7.85 0 1 0 15.70 0a7.85 7.85 0 1 0 -15.70 0zM797.9 2463.2a7.85 7.85 0 1 0 15.70 0a7.85 7.85 0 1 0 -15.70 0zM803.8 2461.2a7.85 7.85 0 1 0 15.70 0a7.85 7.85 0 1 0 -15.70 0zM804.9 2453.7a7.85 7.85 0 1 0 15.70 0a7.85 7.85 0 1 0 -15.70 0zM810.8 2450.8a7.85 7.85 0 1 0 15.70 0a7.85 7.85 0 1 0 -15.70 0zM811.9 2443.1a7.85 7.85 0 1 0 15.70 0a7.85 7.85 0 1 0 -15.70 0zM817.6 2441.5a7.85 7.85 0 1 0 15.70 0a7.85 7.85 0 1 0 -15.70 0zM818.9 2435.8a7.85 7.85 0 1 0 15.70 0a7.85 7.85 0 1 0 -15.70 0zM824.6 2432.8a7.85 7.85 0 1 0 15.70 0a7.85 7.85 0 1 0 -15.70 0zM825.9 2426.7a7.85 7.85 0 1 0 15.70 0a7.85 7.85 0 1 0 -15.70 0zM831.4 2427.3a7.85 7.85 0 1 0 15.70 0a7.85 7.85 0 1 0 -15.70 0zM833.1 2421.6a7.85 7.85 0 1 0 15.70 0a7.85 7.85 0 1 0 -15.70 0zM838.4 2421.4a7.85 7.85 0 1 0 15.70 0a7.85 7.85 0 1 0 -15.70 0zM840.1 2414.7a7.85 7.85 0 1 0 15.70 0a7.85 7.85 0 1 0 -15.70 0zM845.1 2417.1a7.85 7.85 0 1 0 15.70 0a7.85 7.85 0 1 0 -15.70 0zM847.4 2412.3a7.85 7.85 0 1 0 15.70 0a7.85 7.85 0 1 0 -15.70 0zM852.1 2413.1a7.85 7.85 0 1 0 15.70 0a7.85 7.85 0 1 0 -15.70 0zM854.4 2409.2a7.85 7.85 0 1 0 15.70 0a7.85 7.85 0 1 0 -15.70 0zM858.6 2411.9a7.85 7.85 0 1 0 15.70 0a7.85 7.85 0 1 0 -15.70 0zM861.9 2408.7a7.85 7.85 0 1 0 15.70 0a7.85 7.85 0 1 0 -15.70 0zM865.6 2410.2a7.85 7.85 0 1 0 15.70 0a7.85 7.85 0 1 0 -15.70 0zM868.9 2407.7a7.85 7.85 0 1 0 15.70 0a7.85 7.85 0 1 0 -15.70 0zM872.4 2409.6a7.85 7.85 0 1 0 15.70 0a7.85 7.85 0 1 0 -15.70 0zM876.4 2409.0a7.85 7.85 0 1 0 15.70 0a7.85 7.85 0 1 0 -15.70 0zM879.2 2411.7a7.85 7.85 0 1 0 15.70 0a7.85 7.85 0 1 0 -15.70 0zM883.4 2410.5a7.85 7.85 0 1 0 15.70 0a7.85 7.85 0 1 0 -15.70 0zM885.9 2414.1a7.85 7.85 0 1 0 15.70 0a7.85 7.85 0 1 0 -15.70 0zM890.8 2412.9a7.85 7.85 0 1 0 15.70 0a7.85 7.85 0 1 0 -15.70 0zM892.9 2416.6a7.85 7.85 0 1 0 15.70 0a7.85 7.85 0 1 0 -15.70 0zM897.8 2416.2a7.85 7.85 0 1 0 15.70 0a7.85 7.85 0 1 0 -15.70 0zM899.8 2419.9a7.85 7.85 0 1 0 15.70 0a7.85 7.85 0 1 0 -15.70 0zM904.9 2419.5a7.85 7.85 0 1 0 15.70 0a7.85 7.85 0 1 0 -15.70 0zM906.8 2425.3a7.85 7.85 0 1 0 15.70 0a7.85 7.85 0 1 0 -15.70 0zM911.9 2424.1a7.85 7.85 0 1 0 15.70 0a7.85 7.85 0 1 0 -15.70 0zM913.6 2429.6a7.85 7.85 0 1 0 15.70 0a7.85 7.85 0 1 0 -15.70 0zM918.9 2429.0a7.85 7.85 0 1 0 15.70 0a7.85 7.85 0 1 0 -15.70 0zM920.6 2435.1a7.85 7.85 0 1 0 15.70 0a7.85 7.85 0 1 0 -15.70 0zM925.9 2435.6a7.85 7.85 0 1 0 15.70 0a7.85 7.85 0 1 0 -15.70 0zM927.5 2439.9a7.85 7.85 0 1 0 15.70 0a7.85 7.85 0 1 0 -15.70 0zM933.0 2440.4a7.85 7.85 0 1 0 15.70 0a7.85 7.85 0 1 0 -15.70 0zM934.5 2446.3a7.85 7.85 0 1 0 15.70 0a7.85 7.85 0 1 0 -15.70 0zM940.0 2447.4a7.85 7.85 0 1 0 15.70 0a7.85 7.85 0 1 0 -15.70 0zM941.4 2452.3a7.85 7.85 0 1 0 15.70 0a7.85 7.85 0 1 0 -15.70 0zM947.1 2454.6a7.85 7.85 0 1 0 15.70 0a7.85 7.85 0 1 0 -15.70 0zM948.4 2460.4a7.85 7.85 0 1 0 15.70 0a7.85 7.85 0 1 0 -15.70 0zM954.2 2463.7a7.85 7.85 0 1 0 15.70 0a7.85 7.85 0 1 0 -15.70 0zM955.2 2472.6a7.85 7.85 0 1 0 15.70 0a7.85 7.85 0 1 0 -15.70 0zM961.4 2477.1a7.85 7.85 0 1 0 15.70 0a7.85 7.85 0 1 0 -15.70 0zM962.2 2485.2a7.85 7.85 0 1 0 15.70 0a7.85 7.85 0 1 0 -15.70 0zM968.2 2491.0a7.85 7.85 0 1 0 15.70 0a7.85 7.85 0 1 0 -15.70 0zM969.4 2498.0a7.85 7.85 0 1 0 15.70 0a7.85 7.85 0 1 0 -15.70 0zM975.2 2501.5a7.85 7.85 0 1 0 15.70 0a7.85 7.85 0 1 0 -15.70 0zM976.4 2507.6a7.85 7.85 0 1 0 15.70 0a7.85 7.85 0 1 0 -15.70 0zM982.2 2510.3a7.85 7.85 0 1 0 15.70 0a7.85 7.85 0 1 0 -15.70 0zM983.4 2518.1a7.85 7.85 0 1 0 15.70 0a7.85 7.85 0 1 0 -15.70 0zM989.1 2518.4a7.85 7.85 0 1 0 15.70 0a7.85 7.85 0 1 0 -15.70 0zM990.4 2525.1a7.85 7.85 0 1 0 15.70 0a7.85 7.85 0 1 0 -15.70 0zM996.1 2525.3a7.85 7.85 0 1 0 15.70 0a7.85 7.85 0 1 0 -15.70 0zM997.5 2531.3a7.85 7.85 0 1 0 15.70 0a7.85 7.85 0 1 0 -15.70 0zM1003.0 2532.2a7.85 7.85 0 1 0 15.70 0a7.85 7.85 0 1 0 -15.70 0zM1004.5 2537.2a7.85 7.85 0 1 0 15.70 0a7.85 7.85 0 1 0 -15.70 0zM1010.0 2537.5a7.85 7.85 0 1 0 15.70 0a7.85 7.85 0 1 0 -15.70 0zM1011.5 2543.0a7.85 7.85 0 1 0 15.70 0a7.85 7.85 0 1 0 -15.70 0zM1017.1 2544.9a7.85 7.85 0 1 0 15.70 0a7.85 7.85 0 1 0 -15.70 0zM1018.4 2549.8a7.85 7.85 0 1 0 15.70 0a7.85 7.85 0 1 0 -15.70 0zM1024.2 2551.4a7.85 7.85 0 1 0 15.70 0a7.85 7.85 0 1 0 -15.70 0zM1025.6 2556.3a7.85 7.85 0 1 0 15.70 0a7.85 7.85 0 1 0 -15.70 0zM1031.1 2558.1a7.85 7.85 0 1 0 15.70 0a7.85 7.85 0 1 0 -15.70 0zM1032.6 2562.6a7.85 7.85 0 1 0 15.70 0a7.85 7.85 0 1 0 -15.70 0zM1038.2 2564.3a7.85 7.85 0 1 0 15.70 0a7.85 7.85 0 1 0 -15.70 0zM1039.4 2571.5a7.85 7.85 0 1 0 15.70 0a7.85 7.85 0 1 0 -15.70 0zM1045.2 2574.5a7.85 7.85 0 1 0 15.70 0a7.85 7.85 0 1 0 -15.70 0zM1046.4 2579.4a7.85 7.85 0 1 0 15.70 0a7.85 7.85 0 1 0 -15.70 0zM1052.2 2584.5a7.85 7.85 0 1 0 15.70 0a7.85 7.85 0 1 0 -15.70 0zM1053.5 2591.3a7.85 7.85 0 1 0 15.70 0a7.85 7.85 0 1 0 -15.70 0zM1059.2 2591.7a7.85 7.85 0 1 0 15.70 0a7.85 7.85 0 1 0 -15.70 0zM1060.5 2597.4a7.85 7.85 0 1 0 15.70 0a7.85 7.85 0 1 0 -15.70 0zM1066.2 2599.8a7.85 7.85 0 1 0 15.70 0a7.85 7.85 0 1 0 -15.70 0zM1067.4 2606.9a7.85 7.85 0 1 0 15.70 0a7.85 7.85 0 1 0 -15.70 0zM1073.2 2608.7a7.85 7.85 0 1 0 15.70 0a7.85 7.85 0 1 0 -15.70 0zM1074.2 2617.1a7.85 7.85 0 1 0 15.70 0a7.85 7.85 0 1 0 -15.70 0zM1080.4 2621.1a7.85 7.85 0 1 0 15.70 0a7.85 7.85 0 1 0 -15.70 0zM1081.4 2626.8a7.85 7.85 0 1 0 15.70 0a7.85 7.85 0 1 0 -15.70 0zM1087.2 2631.2a7.85 7.85 0 1 0 15.70 0a7.85 7.85 0 1 0 -15.70 0zM1088.2 2635.8a7.85 7.85 0 1 0 15.70 0a7.85 7.85 0 1 0 -15.70 0zM1094.4 2640.8a7.85 7.85 0 1 0 15.70 0a7.85 7.85 0 1 0 -15.70 0zM1098.7 2651.3a7.85 7.85 0 1 0 15.70 0a7.85 7.85 0 1 0 -15.70 0zM1103.8 2656.4a7.85 7.85 0 1 0 15.70 0a7.85 7.85 0 1 0 -15.70 0zM1106.4 2672.9a7.85 7.85 0 1 0 15.70 0a7.85 7.85 0 1 0 -15.70 0zM1109.2 2675.8a7.85 7.85 0 1 0 15.70 0a7.85 7.85 0 1 0 -15.70 0zM1112.1 2678.6a7.85 7.85 0 1 0 15.70 0a7.85 7.85 0 1 0 -15.70 0zM1116.5 2684.3a7.85 7.85 0 1 0 15.70 0a7.85 7.85 0 1 0 -15.70 0zM1119.1 2683.1a7.85 7.85 0 1 0 15.70 0a7.85 7.85 0 1 0 -15.70 0zM1124.2 2668.4a7.85 7.85 0 1 0 15.70 0a7.85 7.85 0 1 0 -15.70 0zM1127.0 2699.9a7.85 7.85 0 1 0 15.70 0a7.85 7.85 0 1 0 -15.70 0zM1129.8 2725.0a7.85 7.85 0 1 0 15.70 0a7.85 7.85 0 1 0 -15.70 0zM1132.6 2737.7a7.85 7.85 0 1 0 15.70 0a7.85 7.85 0 1 0 -15.70 0z" fill="none" stroke="#f00" stroke-width="2.35"/>
<path d="M473.3 2599.5a7.85 7.85 0 1 0 15.70 0a7.85 7.85 0 1 0 -15.70 0zM477.8 2647.3a7.85 7.85 0 1 0 15.70 0a7.85 7.85 0 1 0 -15.70 0zM481.1 2647.3a7.85 7.85 0 1 0 15.70 0a7.85 7.85 0 1 0 -15.70 0zM484.6 2647.3a7.85 7.85 0 1 0 15.70 0a7.85 7.85 0 1 0 -15.70 0zM488.1 2647.3a7.85 7.85 0 1 0 15.70 0a7.85 7.85 0 1 0 -15.70 0zM491.6 2647.3a7.85 7.85 0 1 0 15.70 0a7.85 7.85 0 1 0 -15.70 0zM495.1 2647.3a7.85 7.85 0 1 0 15.70 0a7.85 7.85 0 1 0 -15.70 0zM498.6 2647.3a7.85 7.85 0 1 0 15.70 0a7.85 7.85 0 1 0 -15.70 0zM505.5 2599.5a7.85 7.85 0 1 0 15.70 0a7.85 7.85 0 1 0 -15.70 0zM510.0 2647.3a7.85 7.85 0 1 0 15.70 0a7.85 7.85 0 1 0 -15.70 0zM514.4 2599.5a7.85 7.85 0 1 0 15.70 0a7.85 7.85 0 1 0 -15.70 0zM519.4 2571.3a7.85 7.85 0 1 0 15.70 0a7.85 7.85 0 1 0 -15.70 0zM522.9 2571.3a7.85 7.85 0 1 0 15.70 0a7.85 7.85 0 1 0 -15.70 0zM528.6 2550.9a7.85 7.85 0 1 0 15.70 0a7.85 7.85 0 1 0 -15.70 0zM532.1 2550.9a7.85 7.85 0 1 0 15.70 0a7.85 7.85 0 1 0 -15.70 0zM535.6 2550.9a7.85 7.85 0 1 0 15.70 0a7.85 7.85 0 1 0 -15.70 0zM539.1 2550.9a7.85 7.85 0 1 0 15.70 0a7.85 7.85 0 1 0 -15.70 0zM542.2 2550.9a7.85 7.85 0 1 0 15.70 0a7.85 7.85 0 1 0 -15.70 0zM549.4 2535.6a7.85 7.85 0 1 0 15.70 0a7.85 7.85 0 1 0 -15.70 0zM552.4 2535.6a7.85 7.85 0 1 0 15.70 0a7.85 7.85 0 1 0 -15.70 0zM555.9 2513.0a7.85 7.85 0 1 0 15.70 0a7.85 7.85 0 1 0 -15.70 0zM560.1 2502.9a7.85 7.85 0 1 0 15.70 0a7.85 7.85 0 1 0 -15.70 0zM565.1 2494.4a7.85 7.85 0 1 0 15.70 0a7.85 7.85 0 1 0 -15.70 0zM569.4 2488.6a7.85 7.85 0 1 0 15.70 0a7.85 7.85 0 1 0 -15.70 0zM575.1 2474.3a7.85 7.85 0 1 0 15.70 0a7.85 7.85 0 1 0 -15.70 0zM579.4 2475.8a7.85 7.85 0 1 0 15.70 0a7.85 7.85 0 1 0 -15.70 0zM583.8 2462.9a7.85 7.85 0 1 0 15.70 0a7.85 7.85 0 1 0 -15.70 0zM586.6 2460.0a7.85 7.85 0 1 0 15.70 0a7.85 7.85 0 1 0 -15.70 0zM589.5 2458.6a7.85 7.85 0 1 0 15.70 0a7.85 7.85 0 1 0 -15.70 0zM592.4 2457.0a7.85 7.85 0 1 0 15.70 0a7.85 7.85 0 1 0 -15.70 0zM595.2 2455.7a7.85 7.85 0 1 0 15.70 0a7.85 7.85 0 1 0 -15.70 0zM598.1 2454.0a7.85 7.85 0 1 0 15.70 0a7.85 7.85 0 1 0 -15.70 0zM600.9 2452.9a7.85 7.85 0 1 0 15.70 0a7.85 7.85 0 1 0 -15.70 0zM603.9 2450.0a7.85 7.85 0 1 0 15.70 0a7.85 7.85 0 1 0 -15.70 0zM607.0 2445.6a7.85 7.85 0 1 0 15.70 0a7.85 7.85 0 1 0 -15.70 0zM610.1 2438.0a7.85 7.85 0 1 0 15.70 0a7.85 7.85 0 1 0 -15.70 0zM613.0 2430.7a7.85 7.85 0 1 0 15.70 0a7.85 7.85 0 1 0 -15.70 0zM617.0 2422.0a7.85 7.85 0 1 0 15.70 0a7.85 7.85 0 1 0 -15.70 0zM621.0 2414.8a7.85 7.85 0 1 0 15.70 0a7.85 7.85 0 1 0 -15.70 0zM623.9 2412.5a7.85 7.85 0 1 0 15.70 0a7.85 7.85 0 1 0 -15.70 0zM626.9 2410.8a7.85 7.85 0 1 0 15.70 0a7.85 7.85 0 1 0 -15.70 0zM629.9 2408.0a7.85 7.85 0 1 0 15.70 0a7.85 7.85 0 1 0 -15.70 0zM632.9 2404.9a7.85 7.85 0 1 0 15.70 0a7.85 7.85 0 1 0 -15.70 0zM636.9 2394.9a7.85 7.85 0 1 0 15.70 0a7.85 7.85 0 1 0 -15.70 0zM640.9 2383.0a7.85 7.85 0 1 0 15.70 0a7.85 7.85 0 1 0 -15.70 0zM643.9 2379.0a7.85 7.85 0 1 0 15.70 0a7.85 7.85 0 1 0 -15.70 0zM646.9 2375.1a7.85 7.85 0 1 0 15.70 0a7.85 7.85 0 1 0 -15.70 0zM650.8 2373.0a7.85 7.85 0 1 0 15.70 0a7.85 7.85 0 1 0 -15.70 0zM654.8 2371.1a7.85 7.85 0 1 0 15.70 0a7.85 7.85 0 1 0 -15.70 0zM657.8 2364.0a7.85 7.85 0 1 0 15.70 0a7.85 7.85 0 1 0 -15.70 0zM660.8 2357.2a7.85 7.85 0 1 0 15.70 0a7.85 7.85 0 1 0 -15.70 0zM663.8 2350.0a7.85 7.85 0 1 0 15.70 0a7.85 7.85 0 1 0 -15.70 0zM666.8 2343.3a7.85 7.85 0 1 0 15.70 0a7.85 7.85 0 1 0 -15.70 0zM669.6 2340.0a7.85 7.85 0 1 0 15.70 0a7.85 7.85 0 1 0 -15.70 0zM672.6 2337.3a7.85 7.85 0 1 0 15.70 0a7.85 7.85 0 1 0 -15.70 0zM675.6 2331.0a7.85 7.85 0 1 0 15.70 0a7.85 7.85 0 1 0 -15.70 0zM678.6 2325.4a7.85 7.85 0 1 0 15.70 0a7.85 7.85 0 1 0 -15.70 0zM681.6 2319.5a7.85 7.85 0 1 0 15.70 0a7.85 7.85 0 1 0 -15.70 0zM684.5 2313.5a7.85 7.85 0 1 0 15.70 0a7.85 7.85 0 1 0 -15.70 0zM687.1 2308.5a7.85 7.85 0 1 0 15.70 0a7.85 7.85 0 1 0 -15.70 0zM689.5 2303.5a7.85 7.85 0 1 0 15.70 0a7.85 7.85 0 1 0 -15.70 0zM692.9 2298.1a7.85 7.85 0 1 0 15.70 0a7.85 7.85 0 1 0 -15.70 0zM696.1 2291.7a7.85 7.85 0 1 0 15.70 0a7.85 7.85 0 1 0 -15.70 0zM700.8 2290.5a7.85 7.85 0 1 0 15.70 0a7.85 7.85 0 1 0 -15.70 0zM704.0 2287.2a7.85 7.85 0 1 0 15.70 0a7.85 7.85 0 1 0 -15.70 0zM708.5 2287.3a7.85 7.85 0 1 0 15.70 0a7.85 7.85 0 1 0 -15.70 0zM711.9 2283.1a7.85 7.85 0 1 0 15.70 0a7.85 7.85 0 1 0 -15.70 0zM716.4 2281.8a7.85 7.85 0 1 0 15.70 0a7.85 7.85 0 1 0 -15.70 0zM719.4 2273.1a7.85 7.85 0 1 0 15.70 0a7.85 7.85 0 1 0 -15.70 0zM724.4 2267.3a7.85 7.85 0 1 0 15.70 0a7.85 7.85 0 1 0 -15.70 0zM727.2 2261.2a7.85 7.85 0 1 0 15.70 0a7.85 7.85 0 1 0 -15.70 0zM732.1 2256.2a7.85 7.85 0 1 0 15.70 0a7.85 7.85 0 1 0 -15.70 0zM735.0 2250.5a7.85 7.85 0 1 0 15.70 0a7.85 7.85 0 1 0 -15.70 0zM739.9 2245.0a7.85 7.85 0 1 0 15.70 0a7.85 7.85 0 1 0 -15.70 0zM742.9 2238.8a7.85 7.85 0 1 0 15.70 0a7.85 7.85 0 1 0 -15.70 0zM747.8 2232.0a7.85 7.85 0 1 0 15.70 0a7.85 7.85 0 1 0 -15.70 0zM750.6 2225.7a7.85 7.85 0 1 0 15.70 0a7.85 7.85 0 1 0 -15.70 0zM755.5 2220.5a7.85 7.85 0 1 0 15.70 0a7.85 7.85 0 1 0 -15.70 0zM758.4 2214.3a7.85 7.85 0 1 0 15.70 0a7.85 7.85 0 1 0 -15.70 0zM763.4 2210.0a7.85 7.85 0 1 0 15.70 0a7.85 7.85 0 1 0 -15.70 0zM766.2 2203.9a7.85 7.85 0 1 0 15.70 0a7.85 7.85 0 1 0 -15.70 0zM771.1 2198.1a7.85 7.85 0 1 0 15.70 0a7.85 7.85 0 1 0 -15.70 0zM774.0 2191.8a7.85 7.85 0 1 0 15.70 0a7.85 7.85 0 1 0 -15.70 0zM778.9 2187.7a7.85 7.85 0 1 0 15.70 0a7.85 7.85 0 1 0 -15.70 0zM781.9 2180.7a7.85 7.85 0 1 0 15.70 0a7.85 7.85 0 1 0 -15.70 0zM786.8 2174.7a7.85 7.85 0 1 0 15.70 0a7.85 7.85 0 1 0 -15.70 0zM789.6 2167.8a7.85 7.85 0 1 0 15.70 0a7.85 7.85 0 1 0 -15.70 0zM794.5 2163.9a7.85 7.85 0 1 0 15.70 0a7.85 7.85 0 1 0 -15.70 0zM797.4 2158.7a7.85 7.85 0 1 0 15.70 0a7.85 7.85 0 1 0 -15.70 0zM802.4 2154.8a7.85 7.85 0 1 0 15.70 0a7.85 7.85 0 1 0 -15.70 0zM805.2 2148.7a7.85 7.85 0 1 0 15.70 0a7.85 7.85 0 1 0 -15.70 0zM810.1 2142.9a7.85 7.85 0 1 0 15.70 0a7.85 7.85 0 1 0 -15.70 0zM813.0 2137.0a7.85 7.85 0 1 0 15.70 0a7.85 7.85 0 1 0 -15.70 0zM817.9 2131.0a7.85 7.85 0 1 0 15.70 0a7.85 7.85 0 1 0 -15.70 0zM820.9 2125.8a7.85 7.85 0 1 0 15.70 0a7.85 7.85 0 1 0 -15.70 0zM825.8 2120.6a7.85 7.85 0 1 0 15.70 0a7.85 7.85 0 1 0 -15.70 0zM828.6 2116.1a7.85 7.85 0 1 0 15.70 0a7.85 7.85 0 1 0 -15.70 0zM833.5 2112.9a7.85 7.85 0 1 0 15.70 0a7.85 7.85 0 1 0 -15.70 0zM836.5 2106.5a7.85 7.85 0 1 0 15.70 0a7.85 7.85 0 1 0 -15.70 0zM841.2 2103.7a7.85 7.85 0 1 0 15.70 0a7.85 7.85 0 1 0 -15.70 0zM844.4 2100.2a7.85 7.85 0 1 0 15.70 0a7.85 7.85 0 1 0 -15.70 0zM849.0 2097.5a7.85 7.85 0 1 0 15.70 0a7.85 7.85 0 1 0 -15.70 0zM852.2 2093.6a7.85 7.85 0 1 0 15.70 0a7.85 7.85 0 1 0 -15.70 0zM856.8 2091.3a7.85 7.85 0 1 0 15.70 0a7.85 7.85 0 1 0 -15.70 0zM860.0 2088.5a7.85 7.85 0 1 0 15.70 0a7.85 7.85 0 1 0 -15.70 0zM864.4 2087.5a7.85 7.85 0 1 0 15.70 0a7.85 7.85 0 1 0 -15.70 0zM867.9 2085.2a7.85 7.85 0 1 0 15.70 0a7.85 7.85 0 1 0 -15.70 0zM872.0 2086.1a7.85 7.85 0 1 0 15.70 0a7.85 7.85 0 1 0 -15.70 0zM876.0 2084.9a7.85 7.85 0 1 0 15.70 0a7.85 7.85 0 1 0 -15.70 0zM879.8 2086.9a7.85 7.85 0 1 0 15.70 0a7.85 7.85 0 1 0 -15.70 0zM883.9 2086.6a7.85 7.85 0 1 0 15.70 0a7.85 7.85 0 1 0 -15.70 0zM887.4 2088.3a7.85 7.85 0 1 0 15.70 0a7.85 7.85 0 1 0 -15.70 0zM891.8 2087.8a7.85 7.85 0 1 0 15.70 0a7.85 7.85 0 1 0 -15.70 0zM895.2 2090.7a7.85 7.85 0 1 0 15.70 0a7.85 7.85 0 1 0 -15.70 0zM899.5 2090.6a7.85 7.85 0 1 0 15.70 0a7.85 7.85 0 1 0 -15.70 0zM903.0 2093.1a7.85 7.85 0 1 0 15.70 0a7.85 7.85 0 1 0 -15.70 0zM907.5 2093.9a7.85 7.85 0 1 0 15.70 0a7.85 7.85 0 1 0 -15.70 0zM910.6 2097.3a7.85 7.85 0 1 0 15.70 0a7.85 7.85 0 1 0 -15.70 0zM915.4 2099.6a7.85 7.85 0 1 0 15.70 0a7.85 7.85 0 1 0 -15.70 0zM918.4 2103.4a7.85 7.85 0 1 0 15.70 0a7.85 7.85 0 1 0 -15.70 0zM923.2 2107.5a7.85 7.85 0 1 0 15.70 0a7.85 7.85 0 1 0 -15.70 0zM926.1 2112.5a7.85 7.85 0 1 0 15.70 0a7.85 7.85 0 1 0 -15.70 0zM931.0 2116.6a7.85 7.85 0 1 0 15.70 0a7.85 7.85 0 1 0 -15.70 0zM933.9 2122.3a7.85 7.85 0 1 0 15.70 0a7.85 7.85 0 1 0 -15.70 0zM938.9 2126.9a7.85 7.85 0 1 0 15.70 0a7.85 7.85 0 1 0 -15.70 0zM941.8 2132.4a7.85 7.85 0 1 0 15.70 0a7.85 7.85 0 1 0 -15.70 0zM946.6 2136.4a7.85 7.85 0 1 0 15.70 0a7.85 7.85 0 1 0 -15.70 0zM949.5 2142.1a7.85 7.85 0 1 0 15.70 0a7.85 7.85 0 1 0 -15.70 0zM954.4 2147.4a7.85 7.85 0 1 0 15.70 0a7.85 7.85 0 1 0 -15.70 0zM957.4 2154.5a7.85 7.85 0 1 0 15.70 0a7.85 7.85 0 1 0 -15.70 0zM962.2 2159.5a7.85 7.85 0 1 0 15.70 0a7.85 7.85 0 1 0 -15.70 0zM965.1 2165.5a7.85 7.85 0 1 0 15.70 0a7.85 7.85 0 1 0 -15.70 0zM970.0 2172.3a7.85 7.85 0 1 0 15.70 0a7.85 7.85 0 1 0 -15.70 0zM972.9 2177.5a7.85 7.85 0 1 0 15.70 0a7.85 7.85 0 1 0 -15.70 0zM977.9 2182.0a7.85 7.85 0 1 0 15.70 0a7.85 7.85 0 1 0 -15.70 0zM980.8 2188.0a7.85 7.85 0 1 0 15.70 0a7.85 7.85 0 1 0 -15.70 0zM985.6 2194.4a7.85 7.85 0 1 0 15.70 0a7.85 7.85 0 1 0 -15.70 0zM988.5 2200.1a7.85 7.85 0 1 0 15.70 0a7.85 7.85 0 1 0 -15.70 0zM993.4 2203.3a7.85 7.85 0 1 0 15.70 0a7.85 7.85 0 1 0 -15.70 0zM996.4 2209.2a7.85 7.85 0 1 0 15.70 0a7.85 7.85 0 1 0 -15.70 0zM1001.2 2214.6a7.85 7.85 0 1 0 15.70 0a7.85 7.85 0 1 0 -15.70 0zM1004.1 2219.4a7.85 7.85 0 1 0 15.70 0a7.85 7.85 0 1 0 -15.70 0zM1008.9 2224.8a7.85 7.85 0 1 0 15.70 0a7.85 7.85 0 1 0 -15.70 0zM1012.0 2230.4a7.85 7.85 0 1 0 15.70 0a7.85 7.85 0 1 0 -15.70 0zM1016.7 2233.0a7.85 7.85 0 1 0 15.70 0a7.85 7.85 0 1 0 -15.70 0zM1019.9 2237.2a7.85 7.85 0 1 0 15.70 0a7.85 7.85 0 1 0 -15.70 0zM1024.7 2241.3a7.85 7.85 0 1 0 15.70 0a7.85 7.85 0 1 0 -15.70 0zM1027.6 2247.9a7.85 7.85 0 1 0 15.70 0a7.85 7.85 0 1 0 -15.70 0zM1032.2 2251.4a7.85 7.85 0 1 0 15.70 0a7.85 7.85 0 1 0 -15.70 0zM1037.9 2254.3a7.85 7.85 0 1 0 15.70 0a7.85 7.85 0 1 0 -15.70 0zM1040.8 2267.2a7.85 7.85 0 1 0 15.70 0a7.85 7.85 0 1 0 -15.70 0zM1044.2 2268.0a7.85 7.85 0 1 0 15.70 0a7.85 7.85 0 1 0 -15.70 0zM1047.9 2268.6a7.85 7.85 0 1 0 15.70 0a7.85 7.85 0 1 0 -15.70 0zM1050.7 2271.5a7.85 7.85 0 1 0 15.70 0a7.85 7.85 0 1 0 -15.70 0zM1053.7 2274.3a7.85 7.85 0 1 0 15.70 0a7.85 7.85 0 1 0 -15.70 0zM1056.7 2277.0a7.85 7.85 0 1 0 15.70 0a7.85 7.85 0 1 0 -15.70 0zM1059.4 2280.1a7.85 7.85 0 1 0 15.70 0a7.85 7.85 0 1 0 -15.70 0zM1063.7 2287.2a7.85 7.85 0 1 0 15.70 0a7.85 7.85 0 1 0 -15.70 0zM1068.0 2294.4a7.85 7.85 0 1 0 15.70 0a7.85 7.85 0 1 0 -15.70 0zM1070.7 2298.0a7.85 7.85 0 1 0 15.70 0a7.85 7.85 0 1 0 -15.70 0zM1073.7 2301.5a7.85 7.85 0 1 0 15.70 0a7.85 7.85 0 1 0 -15.70 0zM1078.0 2307.2a7.85 7.85 0 1 0 15.70 0a7.85 7.85 0 1 0 -15.70 0zM1080.7 2313.0a7.85 7.85 0 1 0 15.70 0a7.85 7.85 0 1 0 -15.70 0zM1083.7 2320.1a7.85 7.85 0 1 0 15.70 0a7.85 7.85 0 1 0 -15.70 0zM1086.7 2325.0a7.85 7.85 0 1 0 15.70 0a7.85 7.85 0 1 0 -15.70 0zM1089.4 2330.1a7.85 7.85 0 1 0 15.70 0a7.85 7.85 0 1 0 -15.70 0zM1093.7 2338.7a7.85 7.85 0 1 0 15.70 0a7.85 7.85 0 1 0 -15.70 0zM1098.0 2348.7a7.85 7.85 0 1 0 15.70 0a7.85 7.85 0 1 0 -15.70 0zM1102.2 2354.5a7.85 7.85 0 1 0 15.70 0a7.85 7.85 0 1 0 -15.70 0zM1106.6 2363.0a7.85 7.85 0 1 0 15.70 0a7.85 7.85 0 1 0 -15.70 0zM1110.2 2369.0a7.85 7.85 0 1 0 15.70 0a7.85 7.85 0 1 0 -15.70 0zM1113.8 2375.9a7.85 7.85 0 1 0 15.70 0a7.85 7.85 0 1 0 -15.70 0zM1116.7 2385.0a7.85 7.85 0 1 0 15.70 0a7.85 7.85 0 1 0 -15.70 0zM1120.9 2391.7a7.85 7.85 0 1 0 15.70 0a7.85 7.85 0 1 0 -15.70 0zM1124.2 2393.3a7.85 7.85 0 1 0 15.70 0a7.85 7.85 0 1 0 -15.70 0zM1128.2 2394.0a7.85 7.85 0 1 0 15.70 0a7.85 7.85 0 1 0 -15.70 0zM1132.2 2394.8a7.85 7.85 0 1 0 15.70 0a7.85 7.85 0 1 0 -15.70 0zM1138.2 2416.3a7.85 7.85 0 1 0 15.70 0a7.85 7.85 0 1 0 -15.70 0zM1144.2 2404.0a7.85 7.85 0 1 0 15.70 0a7.85 7.85 0 1 0 -15.70 0zM1148.7 2410.3a7.85 7.85 0 1 0 15.70 0a7.85 7.85 0 1 0 -15.70 0zM1153.6 2421.6a7.85 7.85 0 1 0 15.70 0a7.85 7.85 0 1 0 -15.70 0zM1159.2 2424.5a7.85 7.85 0 1 0 15.70 0a7.85 7.85 0 1 0 -15.70 0zM1164.9 2428.3a7.85 7.85 0 1 0 15.70 0a7.85 7.85 0 1 0 -15.70 0zM1169.0 2435.9a7.85 7.85 0 1 0 15.70 0a7.85 7.85 0 1 0 -15.70 0zM1173.8 2439.6a7.85 7.85 0 1 0 15.70 0a7.85 7.85 0 1 0 -15.70 0zM1178.8 2448.4a7.85 7.85 0 1 0 15.70 0a7.85 7.85 0 1 0 -15.70 0zM1184.4 2456.3a7.85 7.85 0 1 0 15.70 0a7.85 7.85 0 1 0 -15.70 0zM1189.2 2464.3a7.85 7.85 0 1 0 15.70 0a7.85 7.85 0 1 0 -15.70 0zM1192.7 2470.0a7.85 7.85 0 1 0 15.70 0a7.85 7.85 0 1 0 -15.70 0zM1196.2 2475.2a7.85 7.85 0 1 0 15.70 0a7.85 7.85 0 1 0 -15.70 0zM1198.7 2475.2a7.85 7.85 0 1 0 15.70 0a7.85 7.85 0 1 0 -15.70 0zM1203.7 2500.8a7.85 7.85 0 1 0 15.70 0a7.85 7.85 0 1 0 -15.70 0zM1208.2 2522.8a7.85 7.85 0 1 0 15.70 0a7.85 7.85 0 1 0 -15.70 0zM1211.9 2522.8a7.85 7.85 0 1 0 15.70 0a7.85 7.85 0 1 0 -15.70 0zM1215.4 2522.8a7.85 7.85 0 1 0 15.70 0a7.85 7.85 0 1 0 -15.70 0zM1217.2 2536.1a7.85 7.85 0 1 0 15.70 0a7.85 7.85 0 1 0 -15.70 0zM1219.0 2522.8a7.85 7.85 0 1 0 15.70 0a7.85 7.85 0 1 0 -15.70 0zM1222.6 2522.8a7.85 7.85 0 1 0 15.70 0a7.85 7.85 0 1 0 -15.70 0zM1226.1 2522.8a7.85 7.85 0 1 0 15.70 0a7.85 7.85 0 1 0 -15.70 0zM1231.8 2536.1a7.85 7.85 0 1 0 15.70 0a7.85 7.85 0 1 0 -15.70 0zM1236.2 2571.1a7.85 7.85 0 1 0 15.70 0a7.85 7.85 0 1 0 -15.70 0zM1240.7 2550.8a7.85 7.85 0 1 0 15.70 0a7.85 7.85 0 1 0 -15.70 0zM1244.5 2571.1a7.85 7.85 0 1 0 15.70 0a7.85 7.85 0 1 0 -15.70 0zM1248.2 2571.1a7.85 7.85 0 1 0 15.70 0a7.85 7.85 0 1 0 -15.70 0zM1251.9 2571.1a7.85 7.85 0 1 0 15.70 0a7.85 7.85 0 1 0 -15.70 0zM1254.1 2599.4a7.85 7.85 0 1 0 15.70 0a7.85 7.85 0 1 0 -15.70 0zM1255.6 2571.1a7.85 7.85 0 1 0 15.70 0a7.85 7.85 0 1 0 -15.70 0zM1259.2 2571.1a7.85 7.85 0 1 0 15.70 0a7.85 7.85 0 1 0 -15.70 0zM1263.0 2571.1a7.85 7.85 0 1 0 15.70 0a7.85 7.85 0 1 0 -15.70 0zM1266.7 2571.1a7.85 7.85 0 1 0 15.70 0a7.85 7.85 0 1 0 -15.70 0zM1270.4 2571.1a7.85 7.85 0 1 0 15.70 0a7.85 7.85 0 1 0 -15.70 0zM1274.1 2571.1a7.85 7.85 0 1 0 15.70 0a7.85 7.85 0 1 0 -15.70 0zM1278.2 2571.1a7.85 7.85 0 1 0 15.70 0a7.85 7.85 0 1 0 -15.70 0zM1281.8 2599.6a7.85 7.85 0 1 0 15.70 0a7.85 7.85 0 1 0 -15.70 0zM1285.4 2599.6a7.85 7.85 0 1 0 15.70 0a7.85 7.85 0 1 0 -15.70 0zM1289.0 2599.6a7.85 7.85 0 1 0 15.70 0a7.85 7.85 0 1 0 -15.70 0zM1292.6 2599.6a7.85 7.85 0 1 0 15.70 0a7.85 7.85 0 1 0 -15.70 0zM1296.1 2599.6a7.85 7.85 0 1 0 15.70 0a7.85 7.85 0 1 0 -15.70 0zM1300.1 2647.7a7.85 7.85 0 1 0 15.70 0a7.85 7.85 0 1 0 -15.70 0zM1303.8 2647.7a7.85 7.85 0 1 0 15.70 0a7.85 7.85 0 1 0 -15.70 0zM1307.5 2647.7a7.85 7.85 0 1 0 15.70 0a7.85 7.85 0 1 0 -15.70 0zM1311.2 2647.7a7.85 7.85 0 1 0 15.70 0a7.85 7.85 0 1 0 -15.70 0zM1314.8 2647.7a7.85 7.85 0 1 0 15.70 0a7.85 7.85 0 1 0 -15.70 0z" fill="none" stroke="#f00" stroke-width="2.35"/>
<g clip-path="url(#clip2)">
<path d="M588.78 2656.52 L590.28 2650.97 L591.77 2645.45 L593.26 2639.95 L594.75 2634.49 L596.24 2629.05 L597.73 2623.64 L599.22 2618.26 L600.72 2612.90 L602.21 2607.57 L603.70 2602.28 L605.19 2597.00 L606.68 2591.76 L608.17 2586.55 L609.66 2581.36 L611.16 2576.20 L612.65 2571.07 L614.14 2565.96 L615.63 2560.89 L617.12 2555.84 L618.61 2550.82 L620.10 2545.82 L621.60 2540.86 L623.09 2535.92 L624.58 2531.01 L626.07 2526.13 L627.56 2521.28 L629.05 2516.45 L630.54 2511.65 L632.03 2506.88 L633.53 2502.14 L635.02 2497.42 L636.51 2492.74 L638.00 2488.08 L639.49 2483.45 L640.98 2478.84 L642.47 2474.27 L643.97 2469.72 L645.46 2465.20 L646.95 2460.71 L648.44 2456.24 L649.93 2451.81 L651.42 2447.40 L652.91 2443.02 L654.41 2438.66 L655.90 2434.34 L657.39 2430.04 L658.88 2425.77 L660.37 2421.53 L661.86 2417.32 L663.35 2413.13 L664.85 2408.97 L666.34 2404.84 L667.83 2400.74 L669.32 2396.66 L670.81 2392.61 L672.30 2388.60 L673.79 2384.60 L675.28 2380.64 L676.78 2376.70 L678.27 2372.80 L679.76 2368.92 L681.25 2365.06 L682.74 2361.24 L684.23 2357.44 L685.72 2353.67 L687.22 2349.93 L688.71 2346.22 L690.20 2342.53 L691.69 2338.87 L693.18 2335.24 L694.67 2331.64 L696.16 2328.07 L697.66 2324.52 L699.15 2321.00 L700.64 2317.51 L702.13 2314.05 L703.62 2310.61 L705.11 2307.21 L706.60 2303.83 L708.10 2300.48 L709.59 2297.15 L711.08 2293.86 L712.57 2290.59 L714.06 2287.35 L715.55 2284.13 L717.04 2280.95 L718.53 2277.79 L720.03 2274.66 L721.52 2271.56 L723.01 2268.49 L724.50 2265.44 L725.99 2262.42 L727.48 2259.43 L728.97 2256.47 L730.47 2253.54 L731.96 2250.63 L733.45 2247.75 L734.94 2244.90 L736.43 2242.08 L737.92 2239.28 L739.41 2236.51 L740.91 2233.77 L742.40 2231.06 L743.89 2228.38 L745.38 2225.72 L746.87 2223.09 L748.36 2220.49 L749.85 2217.92 L751.34 2215.37 L752.84 2212.86 L754.33 2210.37 L755.82 2207.90 L757.31 2205.47 L758.80 2203.06 L760.29 2200.69 L761.78 2198.34 L763.28 2196.01 L764.77 2193.72 L766.26 2191.45 L767.75 2189.21 L769.24 2187.00 L770.73 2184.82 L772.22 2182.66 L773.72 2180.53 L775.21 2178.43 L776.70 2176.36 L778.19 2174.32 L779.68 2172.30 L781.17 2170.31 L782.66 2168.35 L784.16 2166.42 L785.65 2164.51 L787.14 2162.63 L788.63 2160.78 L790.12 2158.96 L791.61 2157.17 L793.10 2155.40 L794.59 2153.66 L796.09 2151.95 L797.58 2150.27 L799.07 2148.62 L800.56 2146.99 L802.05 2145.39 L803.54 2143.82 L805.03 2142.27 L806.53 2140.76 L808.02 2139.27 L809.51 2137.81 L811.00 2136.38 L812.49 2134.97 L813.98 2133.60 L815.47 2132.25 L816.97 2130.92 L818.46 2129.63 L819.95 2128.37 L821.44 2127.13 L822.93 2125.92 L824.42 2124.74 L825.91 2123.58 L827.40 2122.45 L828.90 2121.36 L830.39 2120.29 L831.88 2119.24 L833.37 2118.23 L834.86 2117.24 L836.35 2116.28 L837.84 2115.35 L839.34 2114.44 L840.83 2113.57 L842.32 2112.72 L843.81 2111.90 L845.30 2111.11 L846.79 2110.34 L848.28 2109.60 L849.78 2108.89 L851.27 2108.21 L852.76 2107.56 L854.25 2106.93 L855.74 2106.34 L857.23 2105.77 L858.72 2105.22 L860.22 2104.71 L861.71 2104.22 L863.20 2103.76 L864.69 2103.33 L866.18 2102.93 L867.67 2102.55 L869.16 2102.21 L870.65 2101.89 L872.15 2101.59 L873.64 2101.33 L875.13 2101.09 L876.62 2100.88 L878.11 2100.70 L879.60 2100.55 L881.09 2100.42 L882.59 2100.33 L884.08 2100.26 L885.57 2100.22 L887.06 2100.20 L888.55 2100.22 L890.04 2100.26 L891.53 2100.33 L893.03 2100.42 L894.52 2100.55 L896.01 2100.70 L897.50 2100.88 L898.99 2101.09 L900.48 2101.33 L901.97 2101.59 L903.47 2101.89 L904.96 2102.21 L906.45 2102.55 L907.94 2102.93 L909.43 2103.33 L910.92 2103.76 L912.41 2104.22 L913.90 2104.71 L915.40 2105.22 L916.89 2105.77 L918.38 2106.34 L919.87 2106.93 L921.36 2107.56 L922.85 2108.21 L924.34 2108.89 L925.84 2109.60 L927.33 2110.34 L928.82 2111.11 L930.31 2111.90 L931.80 2112.72 L933.29 2113.57 L934.78 2114.44 L936.28 2115.35 L937.77 2116.28 L939.26 2117.24 L940.75 2118.23 L942.24 2119.24 L943.73 2120.29 L945.22 2121.36 L946.71 2122.45 L948.21 2123.58 L949.70 2124.74 L951.19 2125.92 L952.68 2127.13 L954.17 2128.37 L955.66 2129.63 L957.15 2130.92 L958.65 2132.25 L960.14 2133.60 L961.63 2134.97 L963.12 2136.38 L964.61 2137.81 L966.10 2139.27 L967.59 2140.76 L969.09 2142.27 L970.58 2143.82 L972.07 2145.39 L973.56 2146.99 L975.05 2148.62 L976.54 2150.27 L978.03 2151.95 L979.53 2153.66 L981.02 2155.40 L982.51 2157.17 L984.00 2158.96 L985.49 2160.78 L986.98 2162.63 L988.47 2164.51 L989.96 2166.42 L991.46 2168.35 L992.95 2170.31 L994.44 2172.30 L995.93 2174.32 L997.42 2176.36 L998.91 2178.43 L1000.40 2180.53 L1001.90 2182.66 L1003.39 2184.82 L1004.88 2187.00 L1006.37 2189.21 L1007.86 2191.45 L1009.35 2193.72 L1010.84 2196.01 L1012.34 2198.34 L1013.83 2200.69 L1015.32 2203.06 L1016.81 2205.47 L1018.30 2207.90 L1019.79 2210.37 L1021.28 2212.86 L1022.78 2215.37 L1024.27 2217.92 L1025.76 2220.49 L1027.25 2223.09 L1028.74 2225.72 L1030.23 2228.38 L1031.72 2231.06 L1033.21 2233.77 L1034.71 2236.51 L1036.20 2239.28 L1037.69 2242.08 L1039.18 2244.90 L1040.67 2247.75 L1042.16 2250.63 L1043.65 2253.54 L1045.15 2256.47 L1046.64 2259.43 L1048.13 2262.42 L1049.62 2265.44 L1051.11 2268.49 L1052.60 2271.56 L1054.09 2274.66 L1055.59 2277.79 L1057.08 2280.95 L1058.57 2284.13 L1060.06 2287.35 L1061.55 2290.59 L1063.04 2293.86 L1064.53 2297.15 L1066.02 2300.48 L1067.52 2303.83 L1069.01 2307.21 L1070.50 2310.61 L1071.99 2314.05 L1073.48 2317.51 L1074.97 2321.00 L1076.46 2324.52 L1077.96 2328.07 L1079.45 2331.64 L1080.94 2335.24 L1082.43 2338.87 L1083.92 2342.53 L1085.41 2346.22 L1086.90 2349.93 L1088.40 2353.67 L1089.89 2357.44 L1091.38 2361.24 L1092.87 2365.06 L1094.36 2368.92 L1095.85 2372.80 L1097.34 2376.70 L1098.84 2380.64 L1100.33 2384.60 L1101.82 2388.60 L1103.31 2392.61 L1104.80 2396.66 L1106.29 2400.74 L1107.78 2404.84 L1109.27 2408.97 L1110.77 2413.13 L1112.26 2417.32 L1113.75 2421.53 L1115.24 2425.77 L1116.73 2430.04 L1118.22 2434.34 L1119.71 2438.66 L1121.21 2443.02 L1122.70 2447.40 L1124.19 2451.81 L1125.68 2456.24 L1127.17 2460.71 L1128.66 2465.20 L1130.15 2469.72 L1131.65 2474.27 L1133.14 2478.84 L1134.63 2483.45 L1136.12 2488.08 L1137.61 2492.74 L1139.10 2497.42 L1140.59 2502.14 L1142.09 2506.88 L1143.58 2511.65 L1145.07 2516.45 L1146.56 2521.28 L1148.05 2526.13 L1149.54 2531.01 L1151.03 2535.92 L1152.52 2540.86 L1154.02 2545.82 L1155.51 2550.82 L1157.00 2555.84 L1158.49 2560.89 L1159.98 2565.96 L1161.47 2571.07 L1162.96 2576.20 L1164.46 2581.36 L1165.95 2586.55 L1167.44 2591.76 L1168.93 2597.00 L1170.42 2602.28 L1171.91 2607.57 L1173.40 2612.90 L1174.90 2618.26 L1176.39 2623.64 L1177.88 2629.05 L1179.37 2634.49 L1180.86 2639.95 L1182.35 2645.45 L1183.84 2650.97 L1185.34 2656.52" fill="none" stroke="#000" stroke-width="7.00" stroke-dasharray="21.4 5.32 5.33 5.32"/>
<path d="M588.78 2976.76 L590.28 2971.21 L591.77 2965.69 L593.26 2960.19 L594.75 2954.73 L596.24 2949.29 L597.73 2943.88 L599.22 2938.50 L600.72 2933.14 L602.21 2927.81 L603.70 2922.52 L605.19 2917.24 L606.68 2912.00 L608.17 2906.79 L609.66 2901.60 L611.16 2896.44 L612.65 2891.31 L614.14 2886.20 L615.63 2881.13 L617.12 2876.08 L618.61 2871.06 L620.10 2866.06 L621.60 2861.10 L623.09 2856.16 L624.58 2851.25 L626.07 2846.37 L627.56 2841.52 L629.05 2836.69 L630.54 2831.89 L632.03 2827.12 L633.53 2822.38 L635.02 2817.66 L636.51 2812.98 L638.00 2808.32 L639.49 2803.69 L640.98 2799.08 L642.47 2794.51 L643.97 2789.96 L645.46 2785.44 L646.95 2780.95 L648.44 2776.48 L649.93 2772.05 L651.42 2767.64 L652.91 2763.26 L654.41 2758.90 L655.90 2754.58 L657.39 2750.28 L658.88 2746.01 L660.37 2741.77 L661.86 2737.56 L663.35 2733.37 L664.85 2729.21 L666.34 2725.08 L667.83 2720.98 L669.32 2716.90 L670.81 2712.85 L672.30 2708.84 L673.79 2704.84 L675.28 2700.88 L676.78 2696.94 L678.27 2693.04 L679.76 2689.16 L681.25 2685.30 L682.74 2681.48 L684.23 2677.68 L685.72 2673.91 L687.22 2670.17 L688.71 2666.46 L690.20 2662.77 L691.69 2659.11 L693.18 2655.48 L694.67 2651.88 L696.16 2648.31 L697.66 2644.76 L699.15 2641.24 L700.64 2637.75 L702.13 2634.29 L703.62 2630.85 L705.11 2627.45 L706.60 2624.07 L708.10 2620.72 L709.59 2617.39 L711.08 2614.10 L712.57 2610.83 L714.06 2607.59 L715.55 2604.37 L717.04 2601.19 L718.53 2598.03 L720.03 2594.90 L721.52 2591.80 L723.01 2588.73 L724.50 2585.68 L725.99 2582.66 L727.48 2579.67 L728.97 2576.71 L730.47 2573.78 L731.96 2570.87 L733.45 2567.99 L734.94 2565.14 L736.43 2562.32 L737.92 2559.52 L739.41 2556.75 L740.91 2554.01 L742.40 2551.30 L743.89 2548.62 L745.38 2545.96 L746.87 2543.33 L748.36 2540.73 L749.85 2538.16 L751.34 2535.61 L752.84 2533.10 L754.33 2530.61 L755.82 2528.14 L757.31 2525.71 L758.80 2523.30 L760.29 2520.93 L761.78 2518.58 L763.28 2516.25 L764.77 2513.96 L766.26 2511.69 L767.75 2509.45 L769.24 2507.24 L770.73 2505.06 L772.22 2502.90 L773.72 2500.77 L775.21 2498.67 L776.70 2496.60 L778.19 2494.56 L779.68 2492.54 L781.17 2490.55 L782.66 2488.59 L784.16 2486.66 L785.65 2484.75 L787.14 2482.87 L788.63 2481.02 L790.12 2479.20 L791.61 2477.41 L793.10 2475.64 L794.59 2473.90 L796.09 2472.19 L797.58 2470.51 L799.07 2468.86 L800.56 2467.23 L802.05 2465.63 L803.54 2464.06 L805.03 2462.51 L806.53 2461.00 L808.02 2459.51 L809.51 2458.05 L811.00 2456.62 L812.49 2455.21 L813.98 2453.84 L815.47 2452.49 L816.97 2451.16 L818.46 2449.87 L819.95 2448.61 L821.44 2447.37 L822.93 2446.16 L824.42 2444.98 L825.91 2443.82 L827.40 2442.69 L828.90 2441.60 L830.39 2440.53 L831.88 2439.48 L833.37 2438.47 L834.86 2437.48 L836.35 2436.52 L837.84 2435.59 L839.34 2434.68 L840.83 2433.81 L842.32 2432.96 L843.81 2432.14 L845.30 2431.35 L846.79 2430.58 L848.28 2429.84 L849.78 2429.13 L851.27 2428.45 L852.76 2427.80 L854.25 2427.17 L855.74 2426.58 L857.23 2426.01 L858.72 2425.46 L860.22 2424.95 L861.71 2424.46 L863.20 2424.00 L864.69 2423.57 L866.18 2423.17 L867.67 2422.79 L869.16 2422.45 L870.65 2422.13 L872.15 2421.83 L873.64 2421.57 L875.13 2421.33 L876.62 2421.12 L878.11 2420.94 L879.60 2420.79 L881.09 2420.66 L882.59 2420.57 L884.08 2420.50 L885.57 2420.46 L887.06 2420.44 L888.55 2420.46 L890.04 2420.50 L891.53 2420.57 L893.03 2420.66 L894.52 2420.79 L896.01 2420.94 L897.50 2421.12 L898.99 2421.33 L900.48 2421.57 L901.97 2421.83 L903.47 2422.13 L904.96 2422.45 L906.45 2422.79 L907.94 2423.17 L909.43 2423.57 L910.92 2424.00 L912.41 2424.46 L913.90 2424.95 L915.40 2425.46 L916.89 2426.01 L918.38 2426.58 L919.87 2427.17 L921.36 2427.80 L922.85 2428.45 L924.34 2429.13 L925.84 2429.84 L927.33 2430.58 L928.82 2431.35 L930.31 2432.14 L931.80 2432.96 L933.29 2433.81 L934.78 2434.68 L936.28 2435.59 L937.77 2436.52 L939.26 2437.48 L940.75 2438.47 L942.24 2439.48 L943.73 2440.53 L945.22 2441.60 L946.71 2442.69 L948.21 2443.82 L949.70 2444.98 L951.19 2446.16 L952.68 2447.37 L954.17 2448.61 L955.66 2449.87 L957.15 2451.16 L958.65 2452.49 L960.14 2453.84 L961.63 2455.21 L963.12 2456.62 L964.61 2458.05 L966.10 2459.51 L967.59 2461.00 L969.09 2462.51 L970.58 2464.06 L972.07 2465.63 L973.56 2467.23 L975.05 2468.86 L976.54 2470.51 L978.03 2472.19 L979.53 2473.90 L981.02 2475.64 L982.51 2477.41 L984.00 2479.20 L985.49 2481.02 L986.98 2482.87 L988.47 2484.75 L989.96 2486.66 L991.46 2488.59 L992.95 2490.55 L994.44 2492.54 L995.93 2494.56 L997.42 2496.60 L998.91 2498.67 L1000.40 2500.77 L1001.90 2502.90 L1003.39 2505.06 L1004.88 2507.24 L1006.37 2509.45 L1007.86 2511.69 L1009.35 2513.96 L1010.84 2516.25 L1012.34 2518.58 L1013.83 2520.93 L1015.32 2523.30 L1016.81 2525.71 L1018.30 2528.14 L1019.79 2530.61 L1021.28 2533.10 L1022.78 2535.61 L1024.27 2538.16 L1025.76 2540.73 L1027.25 2543.33 L1028.74 2545.96 L1030.23 2548.62 L1031.72 2551.30 L1033.21 2554.01 L1034.71 2556.75 L1036.20 2559.52 L1037.69 2562.32 L1039.18 2565.14 L1040.67 2567.99 L1042.16 2570.87 L1043.65 2573.78 L1045.15 2576.71 L1046.64 2579.67 L1048.13 2582.66 L1049.62 2585.68 L1051.11 2588.73 L1052.60 2591.80 L1054.09 2594.90 L1055.59 2598.03 L1057.08 2601.19 L1058.57 2604.37 L1060.06 2607.59 L1061.55 2610.83 L1063.04 2614.10 L1064.53 2617.39 L1066.02 2620.72 L1067.52 2624.07 L1069.01 2627.45 L1070.50 2630.85 L1071.99 2634.29 L1073.48 2637.75 L1074.97 2641.24 L1076.46 2644.76 L1077.96 2648.31 L1079.45 2651.88 L1080.94 2655.48 L1082.43 2659.11 L1083.92 2662.77 L1085.41 2666.46 L1086.90 2670.17 L1088.40 2673.91 L1089.89 2677.68 L1091.38 2681.48 L1092.87 2685.30 L1094.36 2689.16 L1095.85 2693.04 L1097.34 2696.94 L1098.84 2700.88 L1100.33 2704.84 L1101.82 2708.84 L1103.31 2712.85 L1104.80 2716.90 L1106.29 2720.98 L1107.78 2725.08 L1109.27 2729.21 L1110.77 2733.37 L1112.26 2737.56 L1113.75 2741.77 L1115.24 2746.01 L1116.73 2750.28 L1118.22 2754.58 L1119.71 2758.90 L1121.21 2763.26 L1122.70 2767.64 L1124.19 2772.05 L1125.68 2776.48 L1127.17 2780.95 L1128.66 2785.44 L1130.15 2789.96 L1131.65 2794.51 L1133.14 2799.08 L1134.63 2803.69 L1136.12 2808.32 L1137.61 2812.98 L1139.10 2817.66 L1140.59 2822.38 L1142.09 2827.12 L1143.58 2831.89 L1145.07 2836.69 L1146.56 2841.52 L1148.05 2846.37 L1149.54 2851.25 L1151.03 2856.16 L1152.52 2861.10 L1154.02 2866.06 L1155.51 2871.06 L1157.00 2876.08 L1158.49 2881.13 L1159.98 2886.20 L1161.47 2891.31 L1162.96 2896.44 L1164.46 2901.60 L1165.95 2906.79 L1167.44 2912.00 L1168.93 2917.24 L1170.42 2922.52 L1171.91 2927.81 L1173.40 2933.14 L1174.90 2938.50 L1176.39 2943.88 L1177.88 2949.29 L1179.37 2954.73 L1180.86 2960.19 L1182.35 2965.69 L1183.84 2971.21 L1185.34 2976.76" fill="none" stroke="#000" stroke-width="7.00" stroke-dasharray="21.4 5.32 5.33 5.32" stroke-dashoffset="13.0"/>
</g>
<path d="M439.65 2884.90V2874.40M439.65 1988.00V1998.50M588.78 2884.90V2874.40M588.78 1988.00V1998.50M737.92 2884.90V2874.40M737.92 1988.00V1998.50M887.06 2884.90V2874.40M887.06 1988.00V1998.50M1036.20 2884.90V2874.40M1036.20 1988.00V1998.50M1185.34 2884.90V2874.40M1185.34 1988.00V1998.50M1334.47 2884.90V2874.40M1334.47 1988.00V1998.50M290.50 2885.10H295.70M1483.60 2885.10H1478.40M290.50 2872.42H295.70M1483.60 2872.42H1478.40M290.50 2861.70H295.70M1483.60 2861.70H1478.40M290.50 2852.42H295.70M1483.60 2852.42H1478.40M290.50 2844.23H295.70M1483.60 2844.23H1478.40M290.50 2836.90H301.00M1483.60 2836.90H1473.10M290.50 2788.70H295.70M1483.60 2788.70H1478.40M290.50 2760.50H295.70M1483.60 2760.50H1478.40M290.50 2740.50H295.70M1483.60 2740.50H1478.40M290.50 2724.98H295.70M1483.60 2724.98H1478.40M290.50 2712.30H295.70M1483.60 2712.30H1478.40M290.50 2701.58H295.70M1483.60 2701.58H1478.40M290.50 2692.30H295.70M1483.60 2692.30H1478.40M290.50 2684.11H295.70M1483.60 2684.11H1478.40M290.50 2676.78H301.00M1483.60 2676.78H1473.10M290.50 2628.58H295.70M1483.60 2628.58H1478.40M290.50 2600.38H295.70M1483.60 2600.38H1478.40M290.50 2580.38H295.70M1483.60 2580.38H1478.40M290.50 2564.86H295.70M1483.60 2564.86H1478.40M290.50 2552.18H295.70M1483.60 2552.18H1478.40M290.50 2541.46H295.70M1483.60 2541.46H1478.40M290.50 2532.18H295.70M1483.60 2532.18H1478.40M290.50 2523.99H295.70M1483.60 2523.99H1478.40M290.50 2516.66H301.00M1483.60 2516.66H1473.10M290.50 2468.46H295.70M1483.60 2468.46H1478.40M290.50 2440.26H295.70M1483.60 2440.26H1478.40M290.50 2420.26H295.70M1483.60 2420.26H1478.40M290.50 2404.74H295.70M1483.60 2404.74H1478.40M290.50 2392.06H295.70M1483.60 2392.06H1478.40M290.50 2381.34H295.70M1483.60 2381.34H1478.40M290.50 2372.06H295.70M1483.60 2372.06H1478.40M290.50 2363.87H295.70M1483.60 2363.87H1478.40M290.50 2356.54H301.00M1483.60 2356.54H1473.10M290.50 2308.34H295.70M1483.60 2308.34H1478.40M290.50 2280.14H295.70M1483.60 2280.14H1478.40M290.50 2260.14H295.70M1483.60 2260.14H1478.40M290.50 2244.62H295.70M1483.60 2244.62H1478.40M290.50 2231.94H295.70M1483.60 2231.94H1478.40M290.50 2221.22H295.70M1483.60 2221.22H1478.40M290.50 2211.94H295.70M1483.60 2211.94H1478.40M290.50 2203.75H295.70M1483.60 2203.75H1478.40M290.50 2196.42H301.00M1483.60 2196.42H1473.10M290.50 2148.22H295.70M1483.60 2148.22H1478.40M290.50 2120.02H295.70M1483.60 2120.02H1478.40M290.50 2100.02H295.70M1483.60 2100.02H1478.40M290.50 2084.50H295.70M1483.60 2084.50H1478.40M290.50 2071.82H295.70M1483.60 2071.82H1478.40M290.50 2061.10H295.70M1483.60 2061.10H1478.40M290.50 2051.82H295.70M1483.60 2051.82H1478.40M290.50 2043.63H295.70M1483.60 2043.63H1478.40M290.50 2036.30H301.00M1483.60 2036.30H1473.10M290.50 1988.10H295.70M1483.60 1988.10H1478.40" stroke="#000" stroke-width="1.30" fill="none"/>
<rect x="290.50" y="1988.00" width="1193.10" height="896.90" fill="none" stroke="#000" stroke-width="2.50"/>
<text font-size="68.00" x="141.82" y="2867.10">1</text>
<text font-size="68.00" x="175.82" y="2867.10">0</text>
<text font-size="45.50" transform="scale(1.2847,1)" x="161.90" y="2845.91">−</text>
<text font-size="45.50" x="241.32" y="2842.30">3</text>
<text font-size="68.00" x="141.82" y="2706.98">1</text>
<text font-size="68.00" x="175.82" y="2706.98">0</text>
<text font-size="45.50" transform="scale(1.2847,1)" x="161.90" y="2685.79">−</text>
<text font-size="45.50" x="241.50" y="2682.18">2</text>
<text font-size="68.00" x="141.82" y="2546.86">1</text>
<text font-size="68.00" x="175.82" y="2546.86">0</text>
<text font-size="45.50" transform="scale(1.2847,1)" x="161.90" y="2525.67">−</text>
<text font-size="45.50" x="242.40" y="2522.06">1</text>
<text font-size="68.00" x="175.52" y="2386.74">1</text>
<text font-size="68.00" x="209.52" y="2386.74">0</text>
<text font-size="45.50" x="240.87" y="2361.94">0</text>
<text font-size="68.00" x="175.52" y="2226.62">1</text>
<text font-size="68.00" x="209.52" y="2226.62">0</text>
<text font-size="45.50" x="242.40" y="2201.82">1</text>
<text font-size="68.00" x="175.52" y="2066.50">1</text>
<text font-size="68.00" x="209.52" y="2066.50">0</text>
<text font-size="45.50" x="241.20" y="2041.70">2</text>
<text font-size="74.00" x="8.45" y="2021.70">(</text>
<text font-size="74.00" font-style="italic" x="34.42" y="2021.70">c</text>
<text font-size="74.00" x="70.52" y="2021.70">)</text>
<text font-size="76.00" font-style="italic" x="0.71" y="2472.60">P</text>
<text font-size="76.00" font-style="italic" transform="scale(1.0594,1)" x="38.70" y="2472.60">α</text>
<text font-size="76.00" font-style="italic" x="80.58" y="2472.60">′</text>
<text font-size="49.00" font-style="italic" x="1183.31" y="327.60">θ</text>
<text font-size="49.00" x="1207.63" y="327.60">,</text>
<text font-size="32.00" x="1219.39" y="335.60">1</text>
<text font-size="49.00" x="1252.35" y="327.60">(</text>
<text font-size="49.00" font-style="italic" x="1269.01" y="327.60">r</text>
<text font-size="33.00" x="1290.39" y="318.11">*</text>
<text font-size="49.00" transform="scale(1.4736,1)" x="893.32" y="327.37">=</text>
<text font-size="49.00" transform="scale(1.1027,1)" x="1238.38" y="327.60">0</text>
<text font-size="49.00" x="1391.07" y="327.60">.</text>
<text font-size="49.00" transform="scale(1.1658,1)" x="1202.59" y="327.60">2</text>
<text font-size="49.00" x="1428.42" y="327.60">)</text>
<polygon points="1320.32,343.64 1222.63,466.35 1214.50,459.87 1200.30,499.70 1235.93,476.94 1227.80,470.46 1325.48,347.76" fill="#000"/>
<text font-size="49.00" font-style="italic" x="734.31" y="844.80">θ</text>
<text font-size="49.00" x="758.63" y="844.80">,</text>
<text font-size="32.00" x="770.39" y="852.80">1</text>
<text font-size="49.00" x="803.35" y="844.80">(</text>
<text font-size="49.00" font-style="italic" x="820.01" y="844.80">r</text>
<text font-size="33.00" x="841.39" y="835.31">*</text>
<text font-size="49.00" transform="scale(1.4736,1)" x="588.63" y="844.57">=</text>
<text font-size="49.00" transform="scale(1.1316,1)" x="808.95" y="844.80">0</text>
<text font-size="49.00" x="943.22" y="844.80">)</text>
<polygon points="832.22,783.09 759.22,726.42 765.60,718.21 725.60,704.50 748.80,739.85 755.17,731.64 828.18,788.31" fill="#000"/>
<text font-size="49.00" font-style="italic" x="1229.71" y="775.00">θ</text>
<text font-size="49.00" x="1254.03" y="775.00">,</text>
<text font-size="32.00" x="1265.79" y="783.00">1</text>
<text font-size="49.00" x="1298.75" y="775.00">(</text>
<text font-size="49.00" font-style="italic" x="1318.29" y="775.00">y</text>
<text font-size="33.00" x="1336.89" y="764.71">*</text>
<text font-size="49.00" transform="scale(1.4648,1)" x="930.70" y="774.77">=</text>
<text font-size="49.00" font-style="italic" x="1415.59" y="775.00">y</text>
<text font-size="33.00" x="1436.19" y="766.61">*</text>
<text font-size="32.00" font-style="italic" x="1434.82" y="782.60">c</text>
<text font-size="49.00" x="1454.52" y="775.00">)</text>
<polygon points="1332.06,797.02 1282.58,862.93 1274.26,856.69 1261.20,896.90 1296.17,873.14 1287.85,866.89 1337.34,800.98" fill="#000"/>
<text font-size="49.00" font-style="italic" x="1143.51" y="1326.00">θ</text>
<text font-size="49.00" x="1167.83" y="1326.00">,</text>
<text font-size="32.00" x="1178.49" y="1334.00">2</text>
<text font-size="49.00" x="1212.55" y="1326.00">(</text>
<text font-size="49.00" font-style="italic" x="1229.21" y="1326.00">r</text>
<text font-size="33.00" x="1250.59" y="1316.51">*</text>
<text font-size="49.00" transform="scale(1.4736,1)" x="866.32" y="1325.77">=</text>
<text font-size="49.00" transform="scale(1.1027,1)" x="1202.29" y="1326.00">0</text>
<text font-size="49.00" x="1351.27" y="1326.00">.</text>
<text font-size="49.00" transform="scale(1.1658,1)" x="1168.45" y="1326.00">2</text>
<text font-size="49.00" x="1388.62" y="1326.00">)</text>
<polygon points="1251.37,1346.14 1186.93,1440.51 1178.34,1434.64 1167.10,1475.40 1200.97,1450.09 1192.38,1444.23 1256.83,1349.86" fill="#000"/>
<text font-size="49.00" font-style="italic" x="706.81" y="1847.00">θ</text>
<text font-size="49.00" x="731.13" y="1847.00">,</text>
<text font-size="32.00" x="741.79" y="1855.00">2</text>
<text font-size="49.00" x="775.85" y="1847.00">(</text>
<text font-size="49.00" font-style="italic" x="792.51" y="1847.00">r</text>
<text font-size="33.00" x="813.89" y="1837.51">*</text>
<text font-size="49.00" transform="scale(1.4736,1)" x="569.97" y="1846.77">=</text>
<text font-size="49.00" transform="scale(1.1316,1)" x="784.65" y="1847.00">0</text>
<text font-size="49.00" x="915.72" y="1847.00">)</text>
<polygon points="746.29,1774.05 696.30,1748.86 700.99,1739.57 659.10,1733.80 688.65,1764.04 693.33,1754.75 743.31,1779.95" fill="#000"/>
<text font-size="49.00" font-style="italic" x="1202.61" y="1732.50">θ</text>
<text font-size="49.00" x="1226.93" y="1732.50">,</text>
<text font-size="32.00" x="1237.59" y="1740.50">2</text>
<text font-size="49.00" x="1271.65" y="1732.50">(</text>
<text font-size="49.00" font-style="italic" x="1291.19" y="1732.50">y</text>
<text font-size="33.00" x="1309.79" y="1722.21">*</text>
<text font-size="49.00" transform="scale(1.4648,1)" x="912.20" y="1732.27">=</text>
<text font-size="49.00" font-style="italic" x="1388.49" y="1732.50">y</text>
<text font-size="33.00" x="1409.09" y="1724.11">*</text>
<text font-size="32.00" font-style="italic" x="1407.72" y="1740.10">c</text>
<text font-size="49.00" x="1427.42" y="1732.50">)</text>
<polygon points="1309.88,1758.97 1257.66,1820.89 1249.71,1814.19 1234.40,1853.60 1270.66,1831.85 1262.71,1825.15 1314.92,1763.23" fill="#000"/>
<text font-size="49.00" font-style="italic" x="1183.01" y="2306.30">θ</text>
<text font-size="49.00" x="1207.33" y="2306.30">,</text>
<text font-size="32.00" x="1217.87" y="2314.30">3</text>
<text font-size="49.00" x="1252.05" y="2306.30">(</text>
<text font-size="49.00" font-style="italic" x="1268.71" y="2306.30">r</text>
<text font-size="33.00" x="1290.09" y="2296.81">*</text>
<text font-size="49.00" transform="scale(1.4736,1)" x="893.12" y="2306.07">=</text>
<text font-size="49.00" transform="scale(1.1027,1)" x="1238.11" y="2306.30">0</text>
<text font-size="49.00" x="1390.77" y="2306.30">.</text>
<text font-size="49.00" transform="scale(1.1658,1)" x="1202.34" y="2306.30">2</text>
<text font-size="49.00" x="1428.12" y="2306.30">)</text>
<polygon points="1316.50,2320.74 1230.45,2420.37 1222.58,2413.57 1206.80,2452.80 1243.31,2431.48 1235.44,2424.69 1321.50,2325.06" fill="#000"/>
<text font-size="49.00" font-style="italic" x="728.11" y="2838.20">θ</text>
<text font-size="49.00" x="752.43" y="2838.20">,</text>
<text font-size="32.00" x="762.97" y="2846.20">3</text>
<text font-size="49.00" x="797.15" y="2838.20">(</text>
<text font-size="49.00" font-style="italic" x="813.81" y="2838.20">r</text>
<text font-size="33.00" x="835.19" y="2828.71">*</text>
<text font-size="49.00" transform="scale(1.4736,1)" x="584.42" y="2837.97">=</text>
<text font-size="49.00" transform="scale(1.1316,1)" x="803.47" y="2838.20">0</text>
<text font-size="49.00" x="937.02" y="2838.20">)</text>
<polygon points="803.70,2757.96 738.75,2704.32 745.37,2696.30 705.80,2681.40 727.92,2717.43 734.54,2709.41 799.50,2763.04" fill="#000"/>
<text font-size="49.00" font-style="italic" x="1217.01" y="2718.40">θ</text>
<text font-size="49.00" x="1241.33" y="2718.40">,</text>
<text font-size="32.00" x="1251.87" y="2726.40">3</text>
<text font-size="49.00" x="1286.05" y="2718.40">(</text>
<text font-size="49.00" font-style="italic" x="1305.59" y="2718.40">y</text>
<text font-size="33.00" x="1324.19" y="2708.11">*</text>
<text font-size="49.00" transform="scale(1.4648,1)" x="922.03" y="2718.17">=</text>
<text font-size="49.00" font-style="italic" x="1402.89" y="2718.40">y</text>
<text font-size="33.00" x="1423.49" y="2710.01">*</text>
<text font-size="32.00" font-style="italic" x="1422.12" y="2726.00">c</text>
<text font-size="49.00" x="1441.82" y="2718.40">)</text>
<polygon points="1330.00,2740.27 1296.92,2782.64 1288.72,2776.24 1274.90,2816.20 1310.32,2793.10 1302.12,2786.70 1335.20,2744.33" fill="#000"/>
<text font-size="68.00" transform="scale(1.2894,1)" x="189.18" y="2965.08">−</text>
<text font-size="68.00" x="295.41" y="2959.30">8</text>
<text font-size="68.00" transform="scale(1.2894,1)" x="305.59" y="2965.08">−</text>
<text font-size="68.00" x="443.88" y="2959.30">6</text>
<text font-size="68.00" transform="scale(1.2894,1)" x="422.00" y="2965.08">−</text>
<text font-size="68.00" x="594.27" y="2959.30">4</text>
<text font-size="68.00" transform="scale(1.2894,1)" x="539.19" y="2965.08">−</text>
<text font-size="68.00" x="744.21" y="2959.30">2</text>
<text font-size="68.00" x="869.31" y="2959.30">0</text>
<text font-size="68.00" x="1020.11" y="2959.30">2</text>
<text font-size="68.00" x="1170.37" y="2959.30">4</text>
<text font-size="68.00" x="1320.78" y="2959.30">6</text>
<text font-size="68.00" x="1473.41" y="2959.30">8</text>
<text font-size="76.00" font-style="italic" transform="scale(1.0645,1)" x="802.23" y="3061.50">α</text>
<text font-size="76.00" font-style="italic" x="897.28" y="3061.50">′</text>
</svg></body></html>
